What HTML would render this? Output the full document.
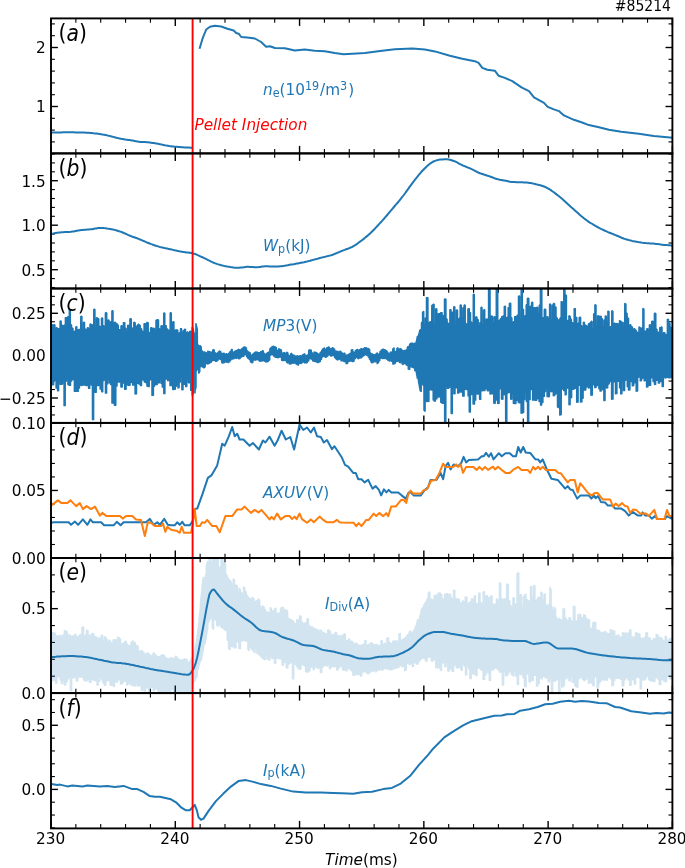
<!DOCTYPE html>
<html lang="en"><head><meta charset="utf-8"><title>#85214</title>
<style>html,body{margin:0;padding:0;background:#fff}body{width:685px;height:868px;overflow:hidden}svg{display:block;filter:blur(0.35px)}text{font-family:"DejaVu Sans","Liberation Sans",sans-serif;fill:#000}.i{font-style:oblique}.b{fill:#1f77b4}.r{fill:#ff0000}</style></head><body>
<svg width="685" height="868" viewBox="0 0 685 868">
<rect width="685" height="868" fill="#fff"/>
<defs>
<clipPath id="c0"><rect x="51.00" y="18.40" width="621.40" height="135.00"/></clipPath>
<clipPath id="c1"><rect x="51.00" y="153.40" width="621.40" height="135.10"/></clipPath>
<clipPath id="c2"><rect x="51.00" y="288.50" width="621.40" height="134.40"/></clipPath>
<clipPath id="c3"><rect x="51.00" y="422.90" width="621.40" height="135.10"/></clipPath>
<clipPath id="c4"><rect x="51.00" y="558.00" width="621.40" height="135.10"/></clipPath>
<clipPath id="c5"><rect x="51.00" y="693.10" width="621.40" height="135.30"/></clipPath>
</defs>
<g stroke="#000" fill="none"><line x1="51.00" y1="18.40" x2="51.00" y2="25.90" stroke-width="1.40"/><line x1="51.00" y1="153.40" x2="51.00" y2="145.90" stroke-width="1.40"/><line x1="75.86" y1="18.40" x2="75.86" y2="22.70" stroke-width="1.10"/><line x1="75.86" y1="153.40" x2="75.86" y2="149.10" stroke-width="1.10"/><line x1="100.71" y1="18.40" x2="100.71" y2="22.70" stroke-width="1.10"/><line x1="100.71" y1="153.40" x2="100.71" y2="149.10" stroke-width="1.10"/><line x1="125.57" y1="18.40" x2="125.57" y2="22.70" stroke-width="1.10"/><line x1="125.57" y1="153.40" x2="125.57" y2="149.10" stroke-width="1.10"/><line x1="150.42" y1="18.40" x2="150.42" y2="22.70" stroke-width="1.10"/><line x1="150.42" y1="153.40" x2="150.42" y2="149.10" stroke-width="1.10"/><line x1="175.28" y1="18.40" x2="175.28" y2="25.90" stroke-width="1.40"/><line x1="175.28" y1="153.40" x2="175.28" y2="145.90" stroke-width="1.40"/><line x1="200.14" y1="18.40" x2="200.14" y2="22.70" stroke-width="1.10"/><line x1="200.14" y1="153.40" x2="200.14" y2="149.10" stroke-width="1.10"/><line x1="224.99" y1="18.40" x2="224.99" y2="22.70" stroke-width="1.10"/><line x1="224.99" y1="153.40" x2="224.99" y2="149.10" stroke-width="1.10"/><line x1="249.85" y1="18.40" x2="249.85" y2="22.70" stroke-width="1.10"/><line x1="249.85" y1="153.40" x2="249.85" y2="149.10" stroke-width="1.10"/><line x1="274.70" y1="18.40" x2="274.70" y2="22.70" stroke-width="1.10"/><line x1="274.70" y1="153.40" x2="274.70" y2="149.10" stroke-width="1.10"/><line x1="299.56" y1="18.40" x2="299.56" y2="25.90" stroke-width="1.40"/><line x1="299.56" y1="153.40" x2="299.56" y2="145.90" stroke-width="1.40"/><line x1="324.42" y1="18.40" x2="324.42" y2="22.70" stroke-width="1.10"/><line x1="324.42" y1="153.40" x2="324.42" y2="149.10" stroke-width="1.10"/><line x1="349.27" y1="18.40" x2="349.27" y2="22.70" stroke-width="1.10"/><line x1="349.27" y1="153.40" x2="349.27" y2="149.10" stroke-width="1.10"/><line x1="374.13" y1="18.40" x2="374.13" y2="22.70" stroke-width="1.10"/><line x1="374.13" y1="153.40" x2="374.13" y2="149.10" stroke-width="1.10"/><line x1="398.98" y1="18.40" x2="398.98" y2="22.70" stroke-width="1.10"/><line x1="398.98" y1="153.40" x2="398.98" y2="149.10" stroke-width="1.10"/><line x1="423.84" y1="18.40" x2="423.84" y2="25.90" stroke-width="1.40"/><line x1="423.84" y1="153.40" x2="423.84" y2="145.90" stroke-width="1.40"/><line x1="448.70" y1="18.40" x2="448.70" y2="22.70" stroke-width="1.10"/><line x1="448.70" y1="153.40" x2="448.70" y2="149.10" stroke-width="1.10"/><line x1="473.55" y1="18.40" x2="473.55" y2="22.70" stroke-width="1.10"/><line x1="473.55" y1="153.40" x2="473.55" y2="149.10" stroke-width="1.10"/><line x1="498.41" y1="18.40" x2="498.41" y2="22.70" stroke-width="1.10"/><line x1="498.41" y1="153.40" x2="498.41" y2="149.10" stroke-width="1.10"/><line x1="523.26" y1="18.40" x2="523.26" y2="22.70" stroke-width="1.10"/><line x1="523.26" y1="153.40" x2="523.26" y2="149.10" stroke-width="1.10"/><line x1="548.12" y1="18.40" x2="548.12" y2="25.90" stroke-width="1.40"/><line x1="548.12" y1="153.40" x2="548.12" y2="145.90" stroke-width="1.40"/><line x1="572.98" y1="18.40" x2="572.98" y2="22.70" stroke-width="1.10"/><line x1="572.98" y1="153.40" x2="572.98" y2="149.10" stroke-width="1.10"/><line x1="597.83" y1="18.40" x2="597.83" y2="22.70" stroke-width="1.10"/><line x1="597.83" y1="153.40" x2="597.83" y2="149.10" stroke-width="1.10"/><line x1="622.69" y1="18.40" x2="622.69" y2="22.70" stroke-width="1.10"/><line x1="622.69" y1="153.40" x2="622.69" y2="149.10" stroke-width="1.10"/><line x1="647.54" y1="18.40" x2="647.54" y2="22.70" stroke-width="1.10"/><line x1="647.54" y1="153.40" x2="647.54" y2="149.10" stroke-width="1.10"/><line x1="672.40" y1="18.40" x2="672.40" y2="25.90" stroke-width="1.40"/><line x1="672.40" y1="153.40" x2="672.40" y2="145.90" stroke-width="1.40"/><line x1="51.00" y1="153.40" x2="51.00" y2="160.90" stroke-width="1.40"/><line x1="51.00" y1="288.50" x2="51.00" y2="281.00" stroke-width="1.40"/><line x1="75.86" y1="153.40" x2="75.86" y2="157.70" stroke-width="1.10"/><line x1="75.86" y1="288.50" x2="75.86" y2="284.20" stroke-width="1.10"/><line x1="100.71" y1="153.40" x2="100.71" y2="157.70" stroke-width="1.10"/><line x1="100.71" y1="288.50" x2="100.71" y2="284.20" stroke-width="1.10"/><line x1="125.57" y1="153.40" x2="125.57" y2="157.70" stroke-width="1.10"/><line x1="125.57" y1="288.50" x2="125.57" y2="284.20" stroke-width="1.10"/><line x1="150.42" y1="153.40" x2="150.42" y2="157.70" stroke-width="1.10"/><line x1="150.42" y1="288.50" x2="150.42" y2="284.20" stroke-width="1.10"/><line x1="175.28" y1="153.40" x2="175.28" y2="160.90" stroke-width="1.40"/><line x1="175.28" y1="288.50" x2="175.28" y2="281.00" stroke-width="1.40"/><line x1="200.14" y1="153.40" x2="200.14" y2="157.70" stroke-width="1.10"/><line x1="200.14" y1="288.50" x2="200.14" y2="284.20" stroke-width="1.10"/><line x1="224.99" y1="153.40" x2="224.99" y2="157.70" stroke-width="1.10"/><line x1="224.99" y1="288.50" x2="224.99" y2="284.20" stroke-width="1.10"/><line x1="249.85" y1="153.40" x2="249.85" y2="157.70" stroke-width="1.10"/><line x1="249.85" y1="288.50" x2="249.85" y2="284.20" stroke-width="1.10"/><line x1="274.70" y1="153.40" x2="274.70" y2="157.70" stroke-width="1.10"/><line x1="274.70" y1="288.50" x2="274.70" y2="284.20" stroke-width="1.10"/><line x1="299.56" y1="153.40" x2="299.56" y2="160.90" stroke-width="1.40"/><line x1="299.56" y1="288.50" x2="299.56" y2="281.00" stroke-width="1.40"/><line x1="324.42" y1="153.40" x2="324.42" y2="157.70" stroke-width="1.10"/><line x1="324.42" y1="288.50" x2="324.42" y2="284.20" stroke-width="1.10"/><line x1="349.27" y1="153.40" x2="349.27" y2="157.70" stroke-width="1.10"/><line x1="349.27" y1="288.50" x2="349.27" y2="284.20" stroke-width="1.10"/><line x1="374.13" y1="153.40" x2="374.13" y2="157.70" stroke-width="1.10"/><line x1="374.13" y1="288.50" x2="374.13" y2="284.20" stroke-width="1.10"/><line x1="398.98" y1="153.40" x2="398.98" y2="157.70" stroke-width="1.10"/><line x1="398.98" y1="288.50" x2="398.98" y2="284.20" stroke-width="1.10"/><line x1="423.84" y1="153.40" x2="423.84" y2="160.90" stroke-width="1.40"/><line x1="423.84" y1="288.50" x2="423.84" y2="281.00" stroke-width="1.40"/><line x1="448.70" y1="153.40" x2="448.70" y2="157.70" stroke-width="1.10"/><line x1="448.70" y1="288.50" x2="448.70" y2="284.20" stroke-width="1.10"/><line x1="473.55" y1="153.40" x2="473.55" y2="157.70" stroke-width="1.10"/><line x1="473.55" y1="288.50" x2="473.55" y2="284.20" stroke-width="1.10"/><line x1="498.41" y1="153.40" x2="498.41" y2="157.70" stroke-width="1.10"/><line x1="498.41" y1="288.50" x2="498.41" y2="284.20" stroke-width="1.10"/><line x1="523.26" y1="153.40" x2="523.26" y2="157.70" stroke-width="1.10"/><line x1="523.26" y1="288.50" x2="523.26" y2="284.20" stroke-width="1.10"/><line x1="548.12" y1="153.40" x2="548.12" y2="160.90" stroke-width="1.40"/><line x1="548.12" y1="288.50" x2="548.12" y2="281.00" stroke-width="1.40"/><line x1="572.98" y1="153.40" x2="572.98" y2="157.70" stroke-width="1.10"/><line x1="572.98" y1="288.50" x2="572.98" y2="284.20" stroke-width="1.10"/><line x1="597.83" y1="153.40" x2="597.83" y2="157.70" stroke-width="1.10"/><line x1="597.83" y1="288.50" x2="597.83" y2="284.20" stroke-width="1.10"/><line x1="622.69" y1="153.40" x2="622.69" y2="157.70" stroke-width="1.10"/><line x1="622.69" y1="288.50" x2="622.69" y2="284.20" stroke-width="1.10"/><line x1="647.54" y1="153.40" x2="647.54" y2="157.70" stroke-width="1.10"/><line x1="647.54" y1="288.50" x2="647.54" y2="284.20" stroke-width="1.10"/><line x1="672.40" y1="153.40" x2="672.40" y2="160.90" stroke-width="1.40"/><line x1="672.40" y1="288.50" x2="672.40" y2="281.00" stroke-width="1.40"/><line x1="51.00" y1="288.50" x2="51.00" y2="296.00" stroke-width="1.40"/><line x1="51.00" y1="422.90" x2="51.00" y2="415.40" stroke-width="1.40"/><line x1="75.86" y1="288.50" x2="75.86" y2="292.80" stroke-width="1.10"/><line x1="75.86" y1="422.90" x2="75.86" y2="418.60" stroke-width="1.10"/><line x1="100.71" y1="288.50" x2="100.71" y2="292.80" stroke-width="1.10"/><line x1="100.71" y1="422.90" x2="100.71" y2="418.60" stroke-width="1.10"/><line x1="125.57" y1="288.50" x2="125.57" y2="292.80" stroke-width="1.10"/><line x1="125.57" y1="422.90" x2="125.57" y2="418.60" stroke-width="1.10"/><line x1="150.42" y1="288.50" x2="150.42" y2="292.80" stroke-width="1.10"/><line x1="150.42" y1="422.90" x2="150.42" y2="418.60" stroke-width="1.10"/><line x1="175.28" y1="288.50" x2="175.28" y2="296.00" stroke-width="1.40"/><line x1="175.28" y1="422.90" x2="175.28" y2="415.40" stroke-width="1.40"/><line x1="200.14" y1="288.50" x2="200.14" y2="292.80" stroke-width="1.10"/><line x1="200.14" y1="422.90" x2="200.14" y2="418.60" stroke-width="1.10"/><line x1="224.99" y1="288.50" x2="224.99" y2="292.80" stroke-width="1.10"/><line x1="224.99" y1="422.90" x2="224.99" y2="418.60" stroke-width="1.10"/><line x1="249.85" y1="288.50" x2="249.85" y2="292.80" stroke-width="1.10"/><line x1="249.85" y1="422.90" x2="249.85" y2="418.60" stroke-width="1.10"/><line x1="274.70" y1="288.50" x2="274.70" y2="292.80" stroke-width="1.10"/><line x1="274.70" y1="422.90" x2="274.70" y2="418.60" stroke-width="1.10"/><line x1="299.56" y1="288.50" x2="299.56" y2="296.00" stroke-width="1.40"/><line x1="299.56" y1="422.90" x2="299.56" y2="415.40" stroke-width="1.40"/><line x1="324.42" y1="288.50" x2="324.42" y2="292.80" stroke-width="1.10"/><line x1="324.42" y1="422.90" x2="324.42" y2="418.60" stroke-width="1.10"/><line x1="349.27" y1="288.50" x2="349.27" y2="292.80" stroke-width="1.10"/><line x1="349.27" y1="422.90" x2="349.27" y2="418.60" stroke-width="1.10"/><line x1="374.13" y1="288.50" x2="374.13" y2="292.80" stroke-width="1.10"/><line x1="374.13" y1="422.90" x2="374.13" y2="418.60" stroke-width="1.10"/><line x1="398.98" y1="288.50" x2="398.98" y2="292.80" stroke-width="1.10"/><line x1="398.98" y1="422.90" x2="398.98" y2="418.60" stroke-width="1.10"/><line x1="423.84" y1="288.50" x2="423.84" y2="296.00" stroke-width="1.40"/><line x1="423.84" y1="422.90" x2="423.84" y2="415.40" stroke-width="1.40"/><line x1="448.70" y1="288.50" x2="448.70" y2="292.80" stroke-width="1.10"/><line x1="448.70" y1="422.90" x2="448.70" y2="418.60" stroke-width="1.10"/><line x1="473.55" y1="288.50" x2="473.55" y2="292.80" stroke-width="1.10"/><line x1="473.55" y1="422.90" x2="473.55" y2="418.60" stroke-width="1.10"/><line x1="498.41" y1="288.50" x2="498.41" y2="292.80" stroke-width="1.10"/><line x1="498.41" y1="422.90" x2="498.41" y2="418.60" stroke-width="1.10"/><line x1="523.26" y1="288.50" x2="523.26" y2="292.80" stroke-width="1.10"/><line x1="523.26" y1="422.90" x2="523.26" y2="418.60" stroke-width="1.10"/><line x1="548.12" y1="288.50" x2="548.12" y2="296.00" stroke-width="1.40"/><line x1="548.12" y1="422.90" x2="548.12" y2="415.40" stroke-width="1.40"/><line x1="572.98" y1="288.50" x2="572.98" y2="292.80" stroke-width="1.10"/><line x1="572.98" y1="422.90" x2="572.98" y2="418.60" stroke-width="1.10"/><line x1="597.83" y1="288.50" x2="597.83" y2="292.80" stroke-width="1.10"/><line x1="597.83" y1="422.90" x2="597.83" y2="418.60" stroke-width="1.10"/><line x1="622.69" y1="288.50" x2="622.69" y2="292.80" stroke-width="1.10"/><line x1="622.69" y1="422.90" x2="622.69" y2="418.60" stroke-width="1.10"/><line x1="647.54" y1="288.50" x2="647.54" y2="292.80" stroke-width="1.10"/><line x1="647.54" y1="422.90" x2="647.54" y2="418.60" stroke-width="1.10"/><line x1="672.40" y1="288.50" x2="672.40" y2="296.00" stroke-width="1.40"/><line x1="672.40" y1="422.90" x2="672.40" y2="415.40" stroke-width="1.40"/><line x1="51.00" y1="422.90" x2="51.00" y2="430.40" stroke-width="1.40"/><line x1="51.00" y1="558.00" x2="51.00" y2="550.50" stroke-width="1.40"/><line x1="75.86" y1="422.90" x2="75.86" y2="427.20" stroke-width="1.10"/><line x1="75.86" y1="558.00" x2="75.86" y2="553.70" stroke-width="1.10"/><line x1="100.71" y1="422.90" x2="100.71" y2="427.20" stroke-width="1.10"/><line x1="100.71" y1="558.00" x2="100.71" y2="553.70" stroke-width="1.10"/><line x1="125.57" y1="422.90" x2="125.57" y2="427.20" stroke-width="1.10"/><line x1="125.57" y1="558.00" x2="125.57" y2="553.70" stroke-width="1.10"/><line x1="150.42" y1="422.90" x2="150.42" y2="427.20" stroke-width="1.10"/><line x1="150.42" y1="558.00" x2="150.42" y2="553.70" stroke-width="1.10"/><line x1="175.28" y1="422.90" x2="175.28" y2="430.40" stroke-width="1.40"/><line x1="175.28" y1="558.00" x2="175.28" y2="550.50" stroke-width="1.40"/><line x1="200.14" y1="422.90" x2="200.14" y2="427.20" stroke-width="1.10"/><line x1="200.14" y1="558.00" x2="200.14" y2="553.70" stroke-width="1.10"/><line x1="224.99" y1="422.90" x2="224.99" y2="427.20" stroke-width="1.10"/><line x1="224.99" y1="558.00" x2="224.99" y2="553.70" stroke-width="1.10"/><line x1="249.85" y1="422.90" x2="249.85" y2="427.20" stroke-width="1.10"/><line x1="249.85" y1="558.00" x2="249.85" y2="553.70" stroke-width="1.10"/><line x1="274.70" y1="422.90" x2="274.70" y2="427.20" stroke-width="1.10"/><line x1="274.70" y1="558.00" x2="274.70" y2="553.70" stroke-width="1.10"/><line x1="299.56" y1="422.90" x2="299.56" y2="430.40" stroke-width="1.40"/><line x1="299.56" y1="558.00" x2="299.56" y2="550.50" stroke-width="1.40"/><line x1="324.42" y1="422.90" x2="324.42" y2="427.20" stroke-width="1.10"/><line x1="324.42" y1="558.00" x2="324.42" y2="553.70" stroke-width="1.10"/><line x1="349.27" y1="422.90" x2="349.27" y2="427.20" stroke-width="1.10"/><line x1="349.27" y1="558.00" x2="349.27" y2="553.70" stroke-width="1.10"/><line x1="374.13" y1="422.90" x2="374.13" y2="427.20" stroke-width="1.10"/><line x1="374.13" y1="558.00" x2="374.13" y2="553.70" stroke-width="1.10"/><line x1="398.98" y1="422.90" x2="398.98" y2="427.20" stroke-width="1.10"/><line x1="398.98" y1="558.00" x2="398.98" y2="553.70" stroke-width="1.10"/><line x1="423.84" y1="422.90" x2="423.84" y2="430.40" stroke-width="1.40"/><line x1="423.84" y1="558.00" x2="423.84" y2="550.50" stroke-width="1.40"/><line x1="448.70" y1="422.90" x2="448.70" y2="427.20" stroke-width="1.10"/><line x1="448.70" y1="558.00" x2="448.70" y2="553.70" stroke-width="1.10"/><line x1="473.55" y1="422.90" x2="473.55" y2="427.20" stroke-width="1.10"/><line x1="473.55" y1="558.00" x2="473.55" y2="553.70" stroke-width="1.10"/><line x1="498.41" y1="422.90" x2="498.41" y2="427.20" stroke-width="1.10"/><line x1="498.41" y1="558.00" x2="498.41" y2="553.70" stroke-width="1.10"/><line x1="523.26" y1="422.90" x2="523.26" y2="427.20" stroke-width="1.10"/><line x1="523.26" y1="558.00" x2="523.26" y2="553.70" stroke-width="1.10"/><line x1="548.12" y1="422.90" x2="548.12" y2="430.40" stroke-width="1.40"/><line x1="548.12" y1="558.00" x2="548.12" y2="550.50" stroke-width="1.40"/><line x1="572.98" y1="422.90" x2="572.98" y2="427.20" stroke-width="1.10"/><line x1="572.98" y1="558.00" x2="572.98" y2="553.70" stroke-width="1.10"/><line x1="597.83" y1="422.90" x2="597.83" y2="427.20" stroke-width="1.10"/><line x1="597.83" y1="558.00" x2="597.83" y2="553.70" stroke-width="1.10"/><line x1="622.69" y1="422.90" x2="622.69" y2="427.20" stroke-width="1.10"/><line x1="622.69" y1="558.00" x2="622.69" y2="553.70" stroke-width="1.10"/><line x1="647.54" y1="422.90" x2="647.54" y2="427.20" stroke-width="1.10"/><line x1="647.54" y1="558.00" x2="647.54" y2="553.70" stroke-width="1.10"/><line x1="672.40" y1="422.90" x2="672.40" y2="430.40" stroke-width="1.40"/><line x1="672.40" y1="558.00" x2="672.40" y2="550.50" stroke-width="1.40"/><line x1="51.00" y1="558.00" x2="51.00" y2="565.50" stroke-width="1.40"/><line x1="51.00" y1="693.10" x2="51.00" y2="685.60" stroke-width="1.40"/><line x1="75.86" y1="558.00" x2="75.86" y2="562.30" stroke-width="1.10"/><line x1="75.86" y1="693.10" x2="75.86" y2="688.80" stroke-width="1.10"/><line x1="100.71" y1="558.00" x2="100.71" y2="562.30" stroke-width="1.10"/><line x1="100.71" y1="693.10" x2="100.71" y2="688.80" stroke-width="1.10"/><line x1="125.57" y1="558.00" x2="125.57" y2="562.30" stroke-width="1.10"/><line x1="125.57" y1="693.10" x2="125.57" y2="688.80" stroke-width="1.10"/><line x1="150.42" y1="558.00" x2="150.42" y2="562.30" stroke-width="1.10"/><line x1="150.42" y1="693.10" x2="150.42" y2="688.80" stroke-width="1.10"/><line x1="175.28" y1="558.00" x2="175.28" y2="565.50" stroke-width="1.40"/><line x1="175.28" y1="693.10" x2="175.28" y2="685.60" stroke-width="1.40"/><line x1="200.14" y1="558.00" x2="200.14" y2="562.30" stroke-width="1.10"/><line x1="200.14" y1="693.10" x2="200.14" y2="688.80" stroke-width="1.10"/><line x1="224.99" y1="558.00" x2="224.99" y2="562.30" stroke-width="1.10"/><line x1="224.99" y1="693.10" x2="224.99" y2="688.80" stroke-width="1.10"/><line x1="249.85" y1="558.00" x2="249.85" y2="562.30" stroke-width="1.10"/><line x1="249.85" y1="693.10" x2="249.85" y2="688.80" stroke-width="1.10"/><line x1="274.70" y1="558.00" x2="274.70" y2="562.30" stroke-width="1.10"/><line x1="274.70" y1="693.10" x2="274.70" y2="688.80" stroke-width="1.10"/><line x1="299.56" y1="558.00" x2="299.56" y2="565.50" stroke-width="1.40"/><line x1="299.56" y1="693.10" x2="299.56" y2="685.60" stroke-width="1.40"/><line x1="324.42" y1="558.00" x2="324.42" y2="562.30" stroke-width="1.10"/><line x1="324.42" y1="693.10" x2="324.42" y2="688.80" stroke-width="1.10"/><line x1="349.27" y1="558.00" x2="349.27" y2="562.30" stroke-width="1.10"/><line x1="349.27" y1="693.10" x2="349.27" y2="688.80" stroke-width="1.10"/><line x1="374.13" y1="558.00" x2="374.13" y2="562.30" stroke-width="1.10"/><line x1="374.13" y1="693.10" x2="374.13" y2="688.80" stroke-width="1.10"/><line x1="398.98" y1="558.00" x2="398.98" y2="562.30" stroke-width="1.10"/><line x1="398.98" y1="693.10" x2="398.98" y2="688.80" stroke-width="1.10"/><line x1="423.84" y1="558.00" x2="423.84" y2="565.50" stroke-width="1.40"/><line x1="423.84" y1="693.10" x2="423.84" y2="685.60" stroke-width="1.40"/><line x1="448.70" y1="558.00" x2="448.70" y2="562.30" stroke-width="1.10"/><line x1="448.70" y1="693.10" x2="448.70" y2="688.80" stroke-width="1.10"/><line x1="473.55" y1="558.00" x2="473.55" y2="562.30" stroke-width="1.10"/><line x1="473.55" y1="693.10" x2="473.55" y2="688.80" stroke-width="1.10"/><line x1="498.41" y1="558.00" x2="498.41" y2="562.30" stroke-width="1.10"/><line x1="498.41" y1="693.10" x2="498.41" y2="688.80" stroke-width="1.10"/><line x1="523.26" y1="558.00" x2="523.26" y2="562.30" stroke-width="1.10"/><line x1="523.26" y1="693.10" x2="523.26" y2="688.80" stroke-width="1.10"/><line x1="548.12" y1="558.00" x2="548.12" y2="565.50" stroke-width="1.40"/><line x1="548.12" y1="693.10" x2="548.12" y2="685.60" stroke-width="1.40"/><line x1="572.98" y1="558.00" x2="572.98" y2="562.30" stroke-width="1.10"/><line x1="572.98" y1="693.10" x2="572.98" y2="688.80" stroke-width="1.10"/><line x1="597.83" y1="558.00" x2="597.83" y2="562.30" stroke-width="1.10"/><line x1="597.83" y1="693.10" x2="597.83" y2="688.80" stroke-width="1.10"/><line x1="622.69" y1="558.00" x2="622.69" y2="562.30" stroke-width="1.10"/><line x1="622.69" y1="693.10" x2="622.69" y2="688.80" stroke-width="1.10"/><line x1="647.54" y1="558.00" x2="647.54" y2="562.30" stroke-width="1.10"/><line x1="647.54" y1="693.10" x2="647.54" y2="688.80" stroke-width="1.10"/><line x1="672.40" y1="558.00" x2="672.40" y2="565.50" stroke-width="1.40"/><line x1="672.40" y1="693.10" x2="672.40" y2="685.60" stroke-width="1.40"/><line x1="51.00" y1="693.10" x2="51.00" y2="700.60" stroke-width="1.40"/><line x1="51.00" y1="828.40" x2="51.00" y2="820.90" stroke-width="1.40"/><line x1="75.86" y1="693.10" x2="75.86" y2="697.40" stroke-width="1.10"/><line x1="75.86" y1="828.40" x2="75.86" y2="824.10" stroke-width="1.10"/><line x1="100.71" y1="693.10" x2="100.71" y2="697.40" stroke-width="1.10"/><line x1="100.71" y1="828.40" x2="100.71" y2="824.10" stroke-width="1.10"/><line x1="125.57" y1="693.10" x2="125.57" y2="697.40" stroke-width="1.10"/><line x1="125.57" y1="828.40" x2="125.57" y2="824.10" stroke-width="1.10"/><line x1="150.42" y1="693.10" x2="150.42" y2="697.40" stroke-width="1.10"/><line x1="150.42" y1="828.40" x2="150.42" y2="824.10" stroke-width="1.10"/><line x1="175.28" y1="693.10" x2="175.28" y2="700.60" stroke-width="1.40"/><line x1="175.28" y1="828.40" x2="175.28" y2="820.90" stroke-width="1.40"/><line x1="200.14" y1="693.10" x2="200.14" y2="697.40" stroke-width="1.10"/><line x1="200.14" y1="828.40" x2="200.14" y2="824.10" stroke-width="1.10"/><line x1="224.99" y1="693.10" x2="224.99" y2="697.40" stroke-width="1.10"/><line x1="224.99" y1="828.40" x2="224.99" y2="824.10" stroke-width="1.10"/><line x1="249.85" y1="693.10" x2="249.85" y2="697.40" stroke-width="1.10"/><line x1="249.85" y1="828.40" x2="249.85" y2="824.10" stroke-width="1.10"/><line x1="274.70" y1="693.10" x2="274.70" y2="697.40" stroke-width="1.10"/><line x1="274.70" y1="828.40" x2="274.70" y2="824.10" stroke-width="1.10"/><line x1="299.56" y1="693.10" x2="299.56" y2="700.60" stroke-width="1.40"/><line x1="299.56" y1="828.40" x2="299.56" y2="820.90" stroke-width="1.40"/><line x1="324.42" y1="693.10" x2="324.42" y2="697.40" stroke-width="1.10"/><line x1="324.42" y1="828.40" x2="324.42" y2="824.10" stroke-width="1.10"/><line x1="349.27" y1="693.10" x2="349.27" y2="697.40" stroke-width="1.10"/><line x1="349.27" y1="828.40" x2="349.27" y2="824.10" stroke-width="1.10"/><line x1="374.13" y1="693.10" x2="374.13" y2="697.40" stroke-width="1.10"/><line x1="374.13" y1="828.40" x2="374.13" y2="824.10" stroke-width="1.10"/><line x1="398.98" y1="693.10" x2="398.98" y2="697.40" stroke-width="1.10"/><line x1="398.98" y1="828.40" x2="398.98" y2="824.10" stroke-width="1.10"/><line x1="423.84" y1="693.10" x2="423.84" y2="700.60" stroke-width="1.40"/><line x1="423.84" y1="828.40" x2="423.84" y2="820.90" stroke-width="1.40"/><line x1="448.70" y1="693.10" x2="448.70" y2="697.40" stroke-width="1.10"/><line x1="448.70" y1="828.40" x2="448.70" y2="824.10" stroke-width="1.10"/><line x1="473.55" y1="693.10" x2="473.55" y2="697.40" stroke-width="1.10"/><line x1="473.55" y1="828.40" x2="473.55" y2="824.10" stroke-width="1.10"/><line x1="498.41" y1="693.10" x2="498.41" y2="697.40" stroke-width="1.10"/><line x1="498.41" y1="828.40" x2="498.41" y2="824.10" stroke-width="1.10"/><line x1="523.26" y1="693.10" x2="523.26" y2="697.40" stroke-width="1.10"/><line x1="523.26" y1="828.40" x2="523.26" y2="824.10" stroke-width="1.10"/><line x1="548.12" y1="693.10" x2="548.12" y2="700.60" stroke-width="1.40"/><line x1="548.12" y1="828.40" x2="548.12" y2="820.90" stroke-width="1.40"/><line x1="572.98" y1="693.10" x2="572.98" y2="697.40" stroke-width="1.10"/><line x1="572.98" y1="828.40" x2="572.98" y2="824.10" stroke-width="1.10"/><line x1="597.83" y1="693.10" x2="597.83" y2="697.40" stroke-width="1.10"/><line x1="597.83" y1="828.40" x2="597.83" y2="824.10" stroke-width="1.10"/><line x1="622.69" y1="693.10" x2="622.69" y2="697.40" stroke-width="1.10"/><line x1="622.69" y1="828.40" x2="622.69" y2="824.10" stroke-width="1.10"/><line x1="647.54" y1="693.10" x2="647.54" y2="697.40" stroke-width="1.10"/><line x1="647.54" y1="828.40" x2="647.54" y2="824.10" stroke-width="1.10"/><line x1="672.40" y1="693.10" x2="672.40" y2="700.60" stroke-width="1.40"/><line x1="672.40" y1="828.40" x2="672.40" y2="820.90" stroke-width="1.40"/><line x1="51.00" y1="141.90" x2="54.90" y2="141.90" stroke-width="1.10"/><line x1="672.40" y1="141.90" x2="668.50" y2="141.90" stroke-width="1.10"/><line x1="51.00" y1="130.10" x2="54.90" y2="130.10" stroke-width="1.10"/><line x1="672.40" y1="130.10" x2="668.50" y2="130.10" stroke-width="1.10"/><line x1="51.00" y1="118.30" x2="54.90" y2="118.30" stroke-width="1.10"/><line x1="672.40" y1="118.30" x2="668.50" y2="118.30" stroke-width="1.10"/><line x1="51.00" y1="106.50" x2="57.90" y2="106.50" stroke-width="1.40"/><line x1="672.40" y1="106.50" x2="665.50" y2="106.50" stroke-width="1.40"/><line x1="51.00" y1="94.70" x2="54.90" y2="94.70" stroke-width="1.10"/><line x1="672.40" y1="94.70" x2="668.50" y2="94.70" stroke-width="1.10"/><line x1="51.00" y1="82.90" x2="54.90" y2="82.90" stroke-width="1.10"/><line x1="672.40" y1="82.90" x2="668.50" y2="82.90" stroke-width="1.10"/><line x1="51.00" y1="71.10" x2="54.90" y2="71.10" stroke-width="1.10"/><line x1="672.40" y1="71.10" x2="668.50" y2="71.10" stroke-width="1.10"/><line x1="51.00" y1="59.30" x2="54.90" y2="59.30" stroke-width="1.10"/><line x1="672.40" y1="59.30" x2="668.50" y2="59.30" stroke-width="1.10"/><line x1="51.00" y1="47.50" x2="57.90" y2="47.50" stroke-width="1.40"/><line x1="672.40" y1="47.50" x2="665.50" y2="47.50" stroke-width="1.40"/><line x1="51.00" y1="35.70" x2="54.90" y2="35.70" stroke-width="1.10"/><line x1="672.40" y1="35.70" x2="668.50" y2="35.70" stroke-width="1.10"/><line x1="51.00" y1="23.90" x2="54.90" y2="23.90" stroke-width="1.10"/><line x1="672.40" y1="23.90" x2="668.50" y2="23.90" stroke-width="1.10"/><line x1="51.00" y1="287.50" x2="54.90" y2="287.50" stroke-width="1.10"/><line x1="672.40" y1="287.50" x2="668.50" y2="287.50" stroke-width="1.10"/><line x1="51.00" y1="278.60" x2="54.90" y2="278.60" stroke-width="1.10"/><line x1="672.40" y1="278.60" x2="668.50" y2="278.60" stroke-width="1.10"/><line x1="51.00" y1="269.70" x2="57.90" y2="269.70" stroke-width="1.40"/><line x1="672.40" y1="269.70" x2="665.50" y2="269.70" stroke-width="1.40"/><line x1="51.00" y1="260.80" x2="54.90" y2="260.80" stroke-width="1.10"/><line x1="672.40" y1="260.80" x2="668.50" y2="260.80" stroke-width="1.10"/><line x1="51.00" y1="251.90" x2="54.90" y2="251.90" stroke-width="1.10"/><line x1="672.40" y1="251.90" x2="668.50" y2="251.90" stroke-width="1.10"/><line x1="51.00" y1="243.00" x2="54.90" y2="243.00" stroke-width="1.10"/><line x1="672.40" y1="243.00" x2="668.50" y2="243.00" stroke-width="1.10"/><line x1="51.00" y1="234.10" x2="54.90" y2="234.10" stroke-width="1.10"/><line x1="672.40" y1="234.10" x2="668.50" y2="234.10" stroke-width="1.10"/><line x1="51.00" y1="225.20" x2="57.90" y2="225.20" stroke-width="1.40"/><line x1="672.40" y1="225.20" x2="665.50" y2="225.20" stroke-width="1.40"/><line x1="51.00" y1="216.30" x2="54.90" y2="216.30" stroke-width="1.10"/><line x1="672.40" y1="216.30" x2="668.50" y2="216.30" stroke-width="1.10"/><line x1="51.00" y1="207.40" x2="54.90" y2="207.40" stroke-width="1.10"/><line x1="672.40" y1="207.40" x2="668.50" y2="207.40" stroke-width="1.10"/><line x1="51.00" y1="198.50" x2="54.90" y2="198.50" stroke-width="1.10"/><line x1="672.40" y1="198.50" x2="668.50" y2="198.50" stroke-width="1.10"/><line x1="51.00" y1="189.60" x2="54.90" y2="189.60" stroke-width="1.10"/><line x1="672.40" y1="189.60" x2="668.50" y2="189.60" stroke-width="1.10"/><line x1="51.00" y1="180.70" x2="57.90" y2="180.70" stroke-width="1.40"/><line x1="672.40" y1="180.70" x2="665.50" y2="180.70" stroke-width="1.40"/><line x1="51.00" y1="171.80" x2="54.90" y2="171.80" stroke-width="1.10"/><line x1="672.40" y1="171.80" x2="668.50" y2="171.80" stroke-width="1.10"/><line x1="51.00" y1="162.90" x2="54.90" y2="162.90" stroke-width="1.10"/><line x1="672.40" y1="162.90" x2="668.50" y2="162.90" stroke-width="1.10"/><line x1="51.00" y1="154.00" x2="54.90" y2="154.00" stroke-width="1.10"/><line x1="672.40" y1="154.00" x2="668.50" y2="154.00" stroke-width="1.10"/><line x1="51.00" y1="414.94" x2="54.90" y2="414.94" stroke-width="1.10"/><line x1="672.40" y1="414.94" x2="668.50" y2="414.94" stroke-width="1.10"/><line x1="51.00" y1="406.47" x2="54.90" y2="406.47" stroke-width="1.10"/><line x1="672.40" y1="406.47" x2="668.50" y2="406.47" stroke-width="1.10"/><line x1="51.00" y1="398.00" x2="57.90" y2="398.00" stroke-width="1.40"/><line x1="672.40" y1="398.00" x2="665.50" y2="398.00" stroke-width="1.40"/><line x1="51.00" y1="389.53" x2="54.90" y2="389.53" stroke-width="1.10"/><line x1="672.40" y1="389.53" x2="668.50" y2="389.53" stroke-width="1.10"/><line x1="51.00" y1="381.06" x2="54.90" y2="381.06" stroke-width="1.10"/><line x1="672.40" y1="381.06" x2="668.50" y2="381.06" stroke-width="1.10"/><line x1="51.00" y1="372.59" x2="54.90" y2="372.59" stroke-width="1.10"/><line x1="672.40" y1="372.59" x2="668.50" y2="372.59" stroke-width="1.10"/><line x1="51.00" y1="364.12" x2="54.90" y2="364.12" stroke-width="1.10"/><line x1="672.40" y1="364.12" x2="668.50" y2="364.12" stroke-width="1.10"/><line x1="51.00" y1="355.65" x2="57.90" y2="355.65" stroke-width="1.40"/><line x1="672.40" y1="355.65" x2="665.50" y2="355.65" stroke-width="1.40"/><line x1="51.00" y1="347.18" x2="54.90" y2="347.18" stroke-width="1.10"/><line x1="672.40" y1="347.18" x2="668.50" y2="347.18" stroke-width="1.10"/><line x1="51.00" y1="338.71" x2="54.90" y2="338.71" stroke-width="1.10"/><line x1="672.40" y1="338.71" x2="668.50" y2="338.71" stroke-width="1.10"/><line x1="51.00" y1="330.24" x2="54.90" y2="330.24" stroke-width="1.10"/><line x1="672.40" y1="330.24" x2="668.50" y2="330.24" stroke-width="1.10"/><line x1="51.00" y1="321.77" x2="54.90" y2="321.77" stroke-width="1.10"/><line x1="672.40" y1="321.77" x2="668.50" y2="321.77" stroke-width="1.10"/><line x1="51.00" y1="313.30" x2="57.90" y2="313.30" stroke-width="1.40"/><line x1="672.40" y1="313.30" x2="665.50" y2="313.30" stroke-width="1.40"/><line x1="51.00" y1="304.83" x2="54.90" y2="304.83" stroke-width="1.10"/><line x1="672.40" y1="304.83" x2="668.50" y2="304.83" stroke-width="1.10"/><line x1="51.00" y1="296.36" x2="54.90" y2="296.36" stroke-width="1.10"/><line x1="672.40" y1="296.36" x2="668.50" y2="296.36" stroke-width="1.10"/><line x1="51.00" y1="558.00" x2="57.90" y2="558.00" stroke-width="1.40"/><line x1="672.40" y1="558.00" x2="665.50" y2="558.00" stroke-width="1.40"/><line x1="51.00" y1="544.49" x2="54.90" y2="544.49" stroke-width="1.10"/><line x1="672.40" y1="544.49" x2="668.50" y2="544.49" stroke-width="1.10"/><line x1="51.00" y1="530.98" x2="54.90" y2="530.98" stroke-width="1.10"/><line x1="672.40" y1="530.98" x2="668.50" y2="530.98" stroke-width="1.10"/><line x1="51.00" y1="517.47" x2="54.90" y2="517.47" stroke-width="1.10"/><line x1="672.40" y1="517.47" x2="668.50" y2="517.47" stroke-width="1.10"/><line x1="51.00" y1="503.96" x2="54.90" y2="503.96" stroke-width="1.10"/><line x1="672.40" y1="503.96" x2="668.50" y2="503.96" stroke-width="1.10"/><line x1="51.00" y1="490.45" x2="57.90" y2="490.45" stroke-width="1.40"/><line x1="672.40" y1="490.45" x2="665.50" y2="490.45" stroke-width="1.40"/><line x1="51.00" y1="476.94" x2="54.90" y2="476.94" stroke-width="1.10"/><line x1="672.40" y1="476.94" x2="668.50" y2="476.94" stroke-width="1.10"/><line x1="51.00" y1="463.43" x2="54.90" y2="463.43" stroke-width="1.10"/><line x1="672.40" y1="463.43" x2="668.50" y2="463.43" stroke-width="1.10"/><line x1="51.00" y1="449.92" x2="54.90" y2="449.92" stroke-width="1.10"/><line x1="672.40" y1="449.92" x2="668.50" y2="449.92" stroke-width="1.10"/><line x1="51.00" y1="436.41" x2="54.90" y2="436.41" stroke-width="1.10"/><line x1="672.40" y1="436.41" x2="668.50" y2="436.41" stroke-width="1.10"/><line x1="51.00" y1="422.90" x2="57.90" y2="422.90" stroke-width="1.40"/><line x1="672.40" y1="422.90" x2="665.50" y2="422.90" stroke-width="1.40"/><line x1="51.00" y1="693.10" x2="57.90" y2="693.10" stroke-width="1.40"/><line x1="672.40" y1="693.10" x2="665.50" y2="693.10" stroke-width="1.40"/><line x1="51.00" y1="676.21" x2="54.90" y2="676.21" stroke-width="1.10"/><line x1="672.40" y1="676.21" x2="668.50" y2="676.21" stroke-width="1.10"/><line x1="51.00" y1="659.33" x2="54.90" y2="659.33" stroke-width="1.10"/><line x1="672.40" y1="659.33" x2="668.50" y2="659.33" stroke-width="1.10"/><line x1="51.00" y1="642.44" x2="54.90" y2="642.44" stroke-width="1.10"/><line x1="672.40" y1="642.44" x2="668.50" y2="642.44" stroke-width="1.10"/><line x1="51.00" y1="625.55" x2="54.90" y2="625.55" stroke-width="1.10"/><line x1="672.40" y1="625.55" x2="668.50" y2="625.55" stroke-width="1.10"/><line x1="51.00" y1="608.66" x2="57.90" y2="608.66" stroke-width="1.40"/><line x1="672.40" y1="608.66" x2="665.50" y2="608.66" stroke-width="1.40"/><line x1="51.00" y1="591.77" x2="54.90" y2="591.77" stroke-width="1.10"/><line x1="672.40" y1="591.77" x2="668.50" y2="591.77" stroke-width="1.10"/><line x1="51.00" y1="574.89" x2="54.90" y2="574.89" stroke-width="1.10"/><line x1="672.40" y1="574.89" x2="668.50" y2="574.89" stroke-width="1.10"/><line x1="51.00" y1="558.00" x2="54.90" y2="558.00" stroke-width="1.10"/><line x1="672.40" y1="558.00" x2="668.50" y2="558.00" stroke-width="1.10"/><line x1="51.00" y1="827.86" x2="54.90" y2="827.86" stroke-width="1.10"/><line x1="672.40" y1="827.86" x2="668.50" y2="827.86" stroke-width="1.10"/><line x1="51.00" y1="815.04" x2="54.90" y2="815.04" stroke-width="1.10"/><line x1="672.40" y1="815.04" x2="668.50" y2="815.04" stroke-width="1.10"/><line x1="51.00" y1="802.22" x2="54.90" y2="802.22" stroke-width="1.10"/><line x1="672.40" y1="802.22" x2="668.50" y2="802.22" stroke-width="1.10"/><line x1="51.00" y1="789.40" x2="57.90" y2="789.40" stroke-width="1.40"/><line x1="672.40" y1="789.40" x2="665.50" y2="789.40" stroke-width="1.40"/><line x1="51.00" y1="776.58" x2="54.90" y2="776.58" stroke-width="1.10"/><line x1="672.40" y1="776.58" x2="668.50" y2="776.58" stroke-width="1.10"/><line x1="51.00" y1="763.76" x2="54.90" y2="763.76" stroke-width="1.10"/><line x1="672.40" y1="763.76" x2="668.50" y2="763.76" stroke-width="1.10"/><line x1="51.00" y1="750.94" x2="54.90" y2="750.94" stroke-width="1.10"/><line x1="672.40" y1="750.94" x2="668.50" y2="750.94" stroke-width="1.10"/><line x1="51.00" y1="738.12" x2="54.90" y2="738.12" stroke-width="1.10"/><line x1="672.40" y1="738.12" x2="668.50" y2="738.12" stroke-width="1.10"/><line x1="51.00" y1="725.30" x2="57.90" y2="725.30" stroke-width="1.40"/><line x1="672.40" y1="725.30" x2="665.50" y2="725.30" stroke-width="1.40"/><line x1="51.00" y1="712.48" x2="54.90" y2="712.48" stroke-width="1.10"/><line x1="672.40" y1="712.48" x2="668.50" y2="712.48" stroke-width="1.10"/><line x1="51.00" y1="699.66" x2="54.90" y2="699.66" stroke-width="1.10"/><line x1="672.40" y1="699.66" x2="668.50" y2="699.66" stroke-width="1.10"/></g>
<g clip-path="url(#c0)">
<polyline points="51.0,132.7 52.5,132.6 54.0,132.6 55.6,132.5 57.1,132.5 58.6,132.4 60.1,132.4 61.6,132.4 63.1,132.3 64.7,132.3 66.2,132.3 67.7,132.3 69.2,132.3 70.7,132.3 72.2,132.3 73.8,132.3 75.3,132.4 76.8,132.4 78.3,132.4 79.8,132.5 81.3,132.5 82.9,132.6 84.4,132.6 85.9,132.7 87.4,132.7 88.9,132.8 90.4,133.0 92.0,133.1 93.5,133.3 95.0,133.4 96.5,133.6 98.0,133.8 99.6,134.0 101.1,134.2 102.6,134.5 104.1,134.7 105.6,135.0 107.1,135.4 108.7,135.8 110.2,136.1 111.7,136.5 113.2,136.9 114.7,137.3 116.2,137.7 117.8,138.1 119.3,138.4 120.8,138.8 122.3,139.0 123.8,139.3 125.3,139.6 126.9,139.8 128.4,140.0 129.9,140.1 131.4,140.4 132.9,140.6 134.4,140.9 136.0,141.2 137.5,141.5 139.0,141.7 140.5,141.9 142.0,142.0 143.5,142.0 145.1,142.1 146.6,142.2 148.1,142.3 149.6,142.5 151.1,142.7 152.7,142.9 154.2,143.1 155.7,143.4 157.2,143.6 158.7,143.9 160.2,144.2 161.8,144.6 163.3,144.9 164.8,145.2 166.3,145.4 167.8,145.7 169.3,146.0 170.9,146.2 172.4,146.4 173.9,146.6 175.4,146.7 176.9,146.8 178.4,147.0 180.0,147.1 181.5,147.2 183.0,147.3 184.5,147.4 186.0,147.5 187.5,147.6 189.1,147.6 190.6,147.7 192.1,147.8" fill="none" stroke="#1f77b4" stroke-width="2.00" stroke-linejoin="round" stroke-linecap="butt"/>
<polyline points="199.5,48.7 202.5,38.7 206.2,29.5 210.0,26.7 215.0,25.7 221.2,26.5 227.4,28.7 233.7,30.5 236.2,33.0 238.7,33.7 241.2,37.0 247.4,37.5 254.9,38.5 261.1,42.0 266.1,46.7 269.9,46.2 274.9,48.0 284.9,48.2 294.8,50.4 304.8,49.4 314.8,50.7 324.8,51.2 334.8,53.0 343.5,54.2 352.3,53.7 365.0,52.9 380.0,50.9 394.9,49.2 412.4,48.4 424.9,49.4 434.9,51.4 449.9,55.7 462.3,58.7 474.8,61.2 478.6,62.9 482.3,67.9 487.3,69.7 494.8,70.7 498.5,75.7 504.8,77.9 512.3,81.1 521.5,87.4 529.0,91.1 534.0,97.4 544.0,102.9 547.7,106.9 553.9,109.4 558.9,111.1 563.9,115.4 573.9,119.8 581.4,122.3 588.9,125.1 598.9,127.3 608.9,129.8 621.3,131.8 638.8,133.8 653.8,136.1 672.7,137.8" fill="none" stroke="#1f77b4" stroke-width="2.00" stroke-linejoin="round" stroke-linecap="butt"/>
</g>
<g clip-path="url(#c1)">
<polyline points="51.3,234.1 52.8,233.7 54.3,233.3 55.8,233.0 57.3,232.7 58.8,232.5 60.3,232.4 61.8,232.3 63.3,232.2 64.8,232.1 66.3,232.1 67.9,232.0 69.4,231.9 70.9,231.8 72.4,231.6 73.9,231.4 75.4,231.1 76.9,230.8 78.4,230.5 79.9,230.2 81.4,230.0 82.9,229.9 84.4,229.7 85.9,229.7 87.4,229.6 88.9,229.5 90.4,229.3 91.9,229.2 93.4,228.9 94.9,228.6 96.4,228.4 97.9,228.1 99.4,228.0 101.0,227.9 102.5,227.9 104.0,228.1 105.5,228.2 107.0,228.5 108.5,228.7 110.0,228.9 111.5,229.2 113.0,229.5 114.5,229.9 116.0,230.3 117.5,230.7 119.0,231.2 120.5,231.6 122.0,232.2 123.5,232.8 125.0,233.5 126.5,234.2 128.0,234.9 129.5,235.5 131.0,236.1 132.5,236.7 134.1,237.2 135.6,237.8 137.1,238.3 138.6,238.9 140.1,239.5 141.6,240.1 143.1,240.8 144.6,241.4 146.1,242.1 147.6,242.7 149.1,243.3 150.6,243.9 152.1,244.4 153.6,245.0 155.1,245.5 156.6,246.0 158.1,246.4 159.6,246.9 161.1,247.2 162.6,247.6 164.1,247.9 165.6,248.3 167.2,248.6 168.7,248.9 170.2,249.2 171.7,249.5 173.2,249.9 174.7,250.2 176.2,250.6 177.7,250.9 179.2,251.3 180.7,251.5 182.2,251.8 183.7,252.0 185.2,252.2 186.7,252.4 188.2,252.6 189.7,252.8 191.2,253.0 192.7,253.3 194.2,253.7 195.7,254.2 197.2,254.9 198.8,255.6 200.3,256.3 201.8,257.0 203.3,257.7 204.8,258.4 206.3,259.1 207.8,259.9 209.3,260.6 210.8,261.4 212.3,262.1 213.8,262.8 215.3,263.4 216.8,263.9 218.3,264.4 219.8,264.8 221.3,265.3 222.8,265.6 224.3,266.0 225.8,266.3 227.3,266.6 228.8,266.8 230.3,267.1 231.9,267.3 233.4,267.6 234.9,267.7 236.4,267.8 237.9,267.8 239.4,267.7 240.9,267.5 242.4,267.4 243.9,267.2 245.4,267.0 246.9,266.8 248.4,266.8 249.9,266.9 251.4,267.0 252.9,267.1 254.4,267.2 255.9,267.3 257.4,267.2 258.9,267.1 260.4,266.9 261.9,266.6 263.4,266.5 265.0,266.3 266.5,266.3 268.0,266.3 269.5,266.4 271.0,266.5 272.5,266.5 274.0,266.6 275.5,266.6 277.0,266.6 278.5,266.5 280.0,266.3 281.5,266.2 283.0,265.9 284.5,265.7 286.0,265.4 287.5,265.2 289.0,264.9 290.5,264.6 292.0,264.4 293.5,264.2 295.0,263.9 296.5,263.6 298.1,263.4 299.6,263.1 301.1,262.8 302.6,262.5 304.1,262.2 305.6,261.8 307.1,261.5 308.6,261.1 310.1,260.8 311.6,260.3 313.1,259.9 314.6,259.5 316.1,259.1 317.6,258.7 319.1,258.2 320.6,257.8 322.1,257.5 323.6,257.1 325.1,256.8 326.6,256.4 328.1,256.0 329.7,255.6 331.2,255.2 332.7,254.7 334.2,254.1 335.7,253.5 337.2,252.9 338.7,252.3 340.2,251.6 341.7,251.0 343.2,250.4 344.7,249.9 346.2,249.3 347.7,248.8 349.2,248.2 350.7,247.5 352.2,246.8 353.7,246.0 355.2,245.1 356.7,244.1 358.2,243.0 359.7,241.9 361.2,240.8 362.8,239.6 364.3,238.4 365.8,237.1 367.3,235.9 368.8,234.6 370.3,233.2 371.8,231.7 373.3,230.2 374.8,228.7 376.3,227.1 377.8,225.5 379.3,223.9 380.8,222.3 382.3,220.6 383.8,219.0 385.3,217.2 386.8,215.5 388.3,213.7 389.8,211.9 391.3,210.1 392.8,208.3 394.3,206.5 395.9,204.7 397.4,203.0 398.9,201.2 400.4,199.3 401.9,197.4 403.4,195.5 404.9,193.5 406.4,191.4 407.9,189.3 409.4,187.2 410.9,185.1 412.4,183.1 413.9,181.1 415.4,179.2 416.9,177.3 418.4,175.4 419.9,173.6 421.4,171.8 422.9,170.2 424.4,168.7 425.9,167.2 427.5,165.8 429.0,164.5 430.5,163.3 432.0,162.3 433.5,161.5 435.0,160.9 436.5,160.4 438.0,160.0 439.5,159.6 441.0,159.5 442.5,159.4 444.0,159.3 445.5,159.2 447.0,159.2 448.5,159.4 450.0,159.7 451.5,160.2 453.0,160.7 454.5,161.2 456.0,161.9 457.5,162.7 459.0,163.6 460.6,164.4 462.1,165.1 463.6,165.8 465.1,166.4 466.6,167.0 468.1,167.6 469.6,168.2 471.1,168.9 472.6,169.6 474.1,170.4 475.6,171.2 477.1,172.0 478.6,172.7 480.1,173.3 481.6,173.8 483.1,174.3 484.6,174.8 486.1,175.2 487.6,175.7 489.1,176.1 490.6,176.7 492.1,177.3 493.7,177.9 495.2,178.5 496.7,179.0 498.2,179.3 499.7,179.7 501.2,179.9 502.7,180.2 504.2,180.5 505.7,180.8 507.2,181.1 508.7,181.4 510.2,181.7 511.7,181.9 513.2,182.0 514.7,182.1 516.2,182.2 517.7,182.2 519.2,182.2 520.7,182.3 522.2,182.3 523.7,182.4 525.2,182.4 526.8,182.5 528.3,182.7 529.8,182.9 531.3,183.1 532.8,183.5 534.3,183.8 535.8,184.2 537.3,184.6 538.8,184.9 540.3,185.3 541.8,185.8 543.3,186.3 544.8,186.8 546.3,187.5 547.8,188.3 549.3,189.2 550.8,190.1 552.3,191.2 553.8,192.3 555.3,193.4 556.8,194.6 558.4,195.8 559.9,197.0 561.4,198.2 562.9,199.5 564.4,200.9 565.9,202.3 567.4,203.7 568.9,205.1 570.4,206.5 571.9,207.8 573.4,209.1 574.9,210.5 576.4,211.8 577.9,213.1 579.4,214.5 580.9,215.8 582.4,217.0 583.9,218.3 585.4,219.4 586.9,220.5 588.4,221.6 589.9,222.6 591.5,223.5 593.0,224.4 594.5,225.3 596.0,226.2 597.5,227.0 599.0,227.8 600.5,228.6 602.0,229.3 603.5,230.0 605.0,230.8 606.5,231.4 608.0,232.1 609.5,232.7 611.0,233.3 612.5,233.9 614.0,234.5 615.5,235.1 617.0,235.7 618.5,236.3 620.0,237.0 621.5,237.7 623.0,238.3 624.6,238.9 626.1,239.3 627.6,239.7 629.1,240.1 630.6,240.5 632.1,240.9 633.6,241.2 635.1,241.5 636.6,241.8 638.1,242.1 639.6,242.3 641.1,242.6 642.6,242.8 644.1,242.9 645.6,243.1 647.1,243.2 648.6,243.3 650.1,243.4 651.6,243.5 653.1,243.6 654.6,243.7 656.1,243.9 657.7,244.1 659.2,244.3 660.7,244.5 662.2,244.7 663.7,244.9 665.2,245.0 666.7,245.1 668.2,245.2 669.7,245.3 671.2,245.4 672.7,245.4" fill="none" stroke="#1f77b4" stroke-width="2.00" stroke-linejoin="round" stroke-linecap="butt"/>
</g>
<g clip-path="url(#c2)">
<polyline points="51.0,325.0 51.1,379.6 51.3,324.9 51.4,379.6 51.6,324.9 51.7,379.6 51.9,324.9 52.0,379.6 52.2,324.9 52.3,384.7 52.5,330.2 52.6,384.7 52.8,330.2 52.9,384.7 53.1,330.2 53.2,384.7 53.4,330.2 53.5,384.7 53.7,325.2 53.8,380.2 54.0,325.2 54.1,380.2 54.3,325.2 54.4,380.2 54.6,325.2 54.7,380.2 54.8,325.2 55.0,379.1 55.1,331.5 55.3,379.1 55.4,331.5 55.6,379.1 55.7,331.5 55.9,379.1 56.0,331.5 56.2,387.9 56.3,328.2 56.5,387.9 56.6,328.2 56.8,387.9 56.9,328.2 57.1,387.9 57.2,328.2 57.4,387.9 57.5,328.9 57.7,390.6 57.8,328.9 58.0,390.6 58.1,328.9 58.3,390.6 58.4,328.9 58.5,390.6 58.7,328.9 58.8,381.7 59.0,330.2 59.1,381.7 59.3,330.2 59.4,381.7 59.6,330.2 59.7,381.7 59.9,330.2 60.0,381.7 60.2,321.3 60.3,384.2 60.5,321.3 60.6,384.2 60.8,321.3 60.9,384.2 61.1,321.3 61.2,384.2 61.4,325.5 61.5,384.0 61.7,325.5 61.8,384.0 62.0,325.5 62.1,384.0 62.2,325.5 62.4,384.0 62.5,325.5 62.7,380.0 62.8,331.5 63.0,380.0 63.1,331.5 63.3,380.0 63.4,331.5 63.6,380.0 63.7,331.5 63.9,380.0 64.0,325.5 64.2,405.4 64.3,325.5 64.5,405.4 64.6,325.5 64.8,405.4 64.9,325.5 65.1,405.4 65.2,325.5 65.4,381.1 65.5,317.9 65.7,381.1 65.8,317.9 65.9,381.1 66.1,317.9 66.2,381.1 66.4,317.9 66.5,379.1 66.7,320.5 66.8,379.1 67.0,320.5 67.1,379.1 67.3,320.5 67.4,379.1 67.6,320.5 67.7,379.1 67.9,316.9 68.0,384.3 68.2,316.9 68.3,384.3 68.5,316.9 68.6,384.3 68.8,316.9 68.9,384.3 69.1,316.9 69.2,385.2 69.4,309.8 69.5,385.2 69.6,309.8 69.8,385.2 69.9,309.8 70.1,385.2 70.2,309.8 70.4,385.2 70.5,325.0 70.7,380.8 70.8,325.0 71.0,380.8 71.1,325.0 71.3,380.8 71.4,325.0 71.6,380.8 71.7,328.5 71.9,379.1 72.0,328.5 72.2,379.1 72.3,328.5 72.5,379.1 72.6,328.5 72.8,379.1 72.9,328.5 73.1,379.5 73.2,332.5 73.3,379.5 73.5,332.5 73.6,379.5 73.8,332.5 73.9,379.5 74.1,332.5 74.2,379.5 74.4,331.7 74.5,391.2 74.7,331.7 74.8,391.2 75.0,331.7 75.1,391.2 75.3,331.7 75.4,391.2 75.6,331.7 75.7,379.9 75.9,327.1 76.0,379.9 76.2,327.1 76.3,379.9 76.5,327.1 76.6,379.9 76.7,327.1 76.9,391.2 77.0,330.5 77.2,391.2 77.3,330.5 77.5,391.2 77.6,330.5 77.8,391.2 77.9,330.5 78.1,391.2 78.2,329.8 78.4,387.9 78.5,329.8 78.7,387.9 78.8,329.8 79.0,387.9 79.1,329.7 79.3,387.9 79.4,329.7 79.6,379.1 79.7,331.6 79.9,379.1 80.0,331.6 80.2,379.1 80.3,331.6 80.4,379.1 80.6,331.6 80.7,379.1 80.9,316.5 81.0,385.3 81.2,316.5 81.3,385.3 81.5,316.5 81.6,385.3 81.8,316.5 81.9,385.3 82.1,329.8 82.2,379.7 82.4,329.8 82.5,379.7 82.7,329.8 82.8,379.7 83.0,329.8 83.1,379.7 83.3,329.8 83.4,384.9 83.6,322.6 83.7,384.9 83.9,322.6 84.0,384.9 84.1,322.6 84.3,384.9 84.4,322.6 84.6,384.9 84.7,329.7 84.9,380.7 85.0,329.7 85.2,380.7 85.3,329.7 85.5,380.7 85.6,329.7 85.8,380.7 85.9,329.7 86.1,385.5 86.2,331.6 86.4,385.5 86.5,331.6 86.7,385.5 86.8,331.6 87.0,385.5 87.1,331.6 87.3,382.6 87.4,328.1 87.6,382.6 87.7,328.1 87.8,382.6 88.0,328.1 88.1,382.6 88.3,328.1 88.4,382.6 88.6,329.0 88.7,388.2 88.9,329.0 89.0,388.2 89.2,329.0 89.3,388.2 89.5,329.0 89.6,388.2 89.8,329.0 89.9,383.0 90.1,324.3 90.2,383.0 90.4,324.3 90.5,383.0 90.7,324.3 90.8,383.0 91.0,324.3 91.1,383.0 91.3,330.6 91.4,384.9 91.5,330.6 91.7,384.9 91.8,330.6 92.0,384.9 92.1,330.6 92.3,384.9 92.4,325.0 92.6,419.5 92.7,325.0 92.9,419.5 93.0,325.0 93.2,419.5 93.3,325.0 93.5,419.5 93.6,325.0 93.8,381.1 93.9,309.5 94.1,381.1 94.2,309.5 94.4,381.1 94.5,309.5 94.7,381.1 94.8,309.5 95.0,381.1 95.1,328.3 95.2,392.2 95.4,328.3 95.5,392.2 95.7,328.3 95.8,392.2 96.0,328.3 96.1,392.2 96.3,328.3 96.4,380.1 96.6,318.0 96.7,380.1 96.9,318.0 97.0,380.1 97.2,318.0 97.3,380.1 97.5,318.0 97.6,385.3 97.8,319.0 97.9,385.4 98.1,319.0 98.2,385.4 98.4,319.0 98.5,385.4 98.7,319.0 98.8,385.4 98.9,326.7 99.1,379.6 99.2,326.7 99.4,379.6 99.5,326.6 99.7,379.6 99.8,326.6 100.0,379.6 100.1,326.6 100.3,389.0 100.4,327.3 100.6,389.0 100.7,327.3 100.9,389.0 101.0,327.3 101.2,389.0 101.3,327.3 101.5,389.0 101.6,318.3 101.8,391.6 101.9,318.3 102.1,391.6 102.2,318.3 102.4,391.6 102.5,318.3 102.6,391.6 102.8,326.2 102.9,380.3 103.1,326.2 103.2,380.3 103.4,326.2 103.5,380.3 103.7,326.2 103.8,380.3 104.0,326.2 104.1,379.4 104.3,329.1 104.4,379.4 104.6,329.1 104.7,379.5 104.9,329.1 105.0,379.5 105.2,329.1 105.3,379.5 105.5,313.1 105.6,393.0 105.8,313.1 105.9,393.0 106.1,313.1 106.2,393.0 106.3,313.1 106.5,393.0 106.6,313.1 106.8,383.7 106.9,327.0 107.1,383.7 107.2,327.0 107.4,383.7 107.5,327.0 107.7,383.7 107.8,327.0 108.0,379.1 108.1,320.4 108.3,379.1 108.4,320.4 108.6,379.1 108.7,320.4 108.9,379.1 109.0,320.4 109.2,379.1 109.3,323.5 109.5,382.7 109.6,323.5 109.8,382.7 109.9,323.5 110.0,382.7 110.2,323.5 110.3,382.7 110.5,323.5 110.6,384.3 110.8,321.8 110.9,384.3 111.1,321.8 111.2,384.3 111.4,321.8 111.5,384.3 111.7,321.8 111.8,384.3 112.0,311.0 112.1,402.9 112.3,311.0 112.4,402.9 112.6,311.0 112.7,402.9 112.9,311.0 113.0,402.9 113.2,325.9 113.3,381.9 113.5,325.9 113.6,381.9 113.7,325.9 113.9,381.9 114.0,325.9 114.2,381.9 114.3,325.9 114.5,405.1 114.6,322.5 114.8,405.1 114.9,322.5 115.1,405.1 115.2,322.5 115.4,405.1 115.5,322.5 115.7,405.1 115.8,323.9 116.0,385.9 116.1,323.9 116.3,385.9 116.4,323.9 116.6,385.9 116.7,323.9 116.9,385.9 117.0,323.9 117.2,381.7 117.3,325.4 117.4,381.7 117.6,325.4 117.7,381.7 117.9,325.3 118.0,381.7 118.2,325.3 118.3,381.8 118.5,331.0 118.6,381.8 118.8,331.0 118.9,381.8 119.1,331.0 119.2,381.8 119.4,331.0 119.5,381.8 119.7,329.9 119.8,379.5 120.0,329.9 120.1,379.5 120.3,329.9 120.4,379.5 120.6,329.9 120.7,379.5 120.9,329.9 121.0,386.8 121.1,326.0 121.3,386.8 121.4,326.0 121.6,386.8 121.7,326.0 121.9,386.8 122.0,326.0 122.2,386.8 122.3,327.1 122.5,383.0 122.6,327.1 122.8,383.0 122.9,327.1 123.1,383.0 123.2,327.1 123.4,383.0 123.5,322.8 123.7,382.6 123.8,322.8 124.0,382.6 124.1,322.8 124.3,382.6 124.4,322.8 124.5,382.6 124.7,322.8 124.8,389.2 125.0,328.6 125.1,389.2 125.3,328.6 125.4,389.2 125.6,328.6 125.7,389.2 125.9,328.7 126.0,389.1 126.2,332.2 126.3,385.1 126.5,332.2 126.6,385.0 126.8,332.2 126.9,385.0 127.1,332.2 127.2,385.0 127.4,332.2 127.5,381.8 127.7,325.5 127.8,381.8 128.0,325.5 128.1,381.8 128.2,325.5 128.4,381.8 128.5,325.5 128.7,385.2 128.8,330.5 129.0,385.2 129.1,330.5 129.3,385.2 129.4,330.5 129.6,385.2 129.7,330.5 129.9,385.2 130.0,319.1 130.2,382.5 130.3,319.1 130.5,382.4 130.6,319.1 130.8,382.4 130.9,319.1 131.1,382.4 131.2,319.1 131.4,381.3 131.5,328.2 131.7,381.3 131.8,328.2 131.9,381.3 132.1,328.2 132.2,381.3 132.4,328.3 132.5,381.3 132.7,332.4 132.8,385.0 133.0,332.4 133.1,385.0 133.3,332.4 133.4,385.0 133.6,332.4 133.7,385.0 133.9,322.7 134.0,380.3 134.2,322.7 134.3,380.3 134.5,322.7 134.6,380.3 134.8,322.8 134.9,380.3 135.1,322.8 135.2,393.8 135.4,327.9 135.5,393.7 135.6,327.9 135.8,393.7 135.9,327.9 136.1,393.7 136.2,327.9 136.4,393.7 136.5,326.4 136.7,383.2 136.8,326.4 137.0,383.2 137.1,326.4 137.3,383.2 137.4,326.5 137.6,383.2 137.7,326.5 137.9,382.1 138.0,324.7 138.2,382.0 138.3,324.7 138.5,382.0 138.6,324.7 138.8,382.0 138.9,324.7 139.1,383.9 139.2,325.6 139.3,383.9 139.5,325.6 139.6,383.9 139.8,325.6 139.9,383.9 140.1,325.6 140.2,383.9 140.4,329.2 140.5,385.5 140.7,329.2 140.8,385.5 141.0,329.2 141.1,385.5 141.3,329.2 141.4,385.5 141.6,329.2 141.7,379.9 141.9,331.7 142.0,379.9 142.2,331.7 142.3,379.9 142.5,331.7 142.6,379.9 142.8,331.7 142.9,379.8 143.0,332.8 143.2,379.6 143.3,332.8 143.5,379.6 143.6,332.8 143.8,379.6 143.9,332.8 144.1,379.6 144.2,323.8 144.4,381.8 144.5,323.8 144.7,381.8 144.8,323.8 145.0,381.8 145.1,323.8 145.3,381.8 145.4,323.9 145.6,382.5 145.7,326.8 145.9,382.5 146.0,326.8 146.2,382.5 146.3,326.9 146.5,382.5 146.6,326.9 146.7,382.5 146.9,322.7 147.0,385.8 147.2,322.7 147.3,385.8 147.5,322.8 147.6,385.8 147.8,322.8 147.9,385.8 148.1,322.8 148.2,386.5 148.4,332.9 148.5,386.5 148.7,332.9 148.8,386.5 149.0,332.9 149.1,386.5 149.3,332.9 149.4,379.7 149.6,332.5 149.7,379.6 149.9,332.5 150.0,379.6 150.2,332.5 150.3,379.6 150.4,332.6 150.6,379.6 150.7,328.1 150.9,379.6 151.0,328.1 151.2,379.6 151.3,328.1 151.5,379.6 151.6,328.2 151.8,379.6 151.9,328.2 152.1,395.2 152.2,331.4 152.4,395.2 152.5,331.5 152.7,395.1 152.8,331.5 153.0,395.1 153.1,331.5 153.3,395.1 153.4,328.4 153.6,386.1 153.7,328.4 153.9,386.1 154.0,328.5 154.1,386.1 154.3,328.5 154.4,386.1 154.6,329.8 154.7,379.7 154.9,329.8 155.0,379.7 155.2,329.8 155.3,379.7 155.5,329.8 155.6,379.7 155.8,329.9 155.9,384.5 156.1,320.4 156.2,384.5 156.4,320.4 156.5,384.4 156.7,320.4 156.8,384.4 157.0,320.4 157.1,384.4 157.3,320.1 157.4,379.1 157.6,320.1 157.7,379.1 157.8,320.1 158.0,379.1 158.1,320.2 158.3,379.1 158.4,320.2 158.6,382.7 158.7,329.0 158.9,382.7 159.0,329.0 159.2,382.7 159.3,329.0 159.5,382.7 159.6,329.0 159.8,379.2 159.9,330.3 160.1,379.2 160.2,330.3 160.4,379.2 160.5,330.3 160.7,379.2 160.8,330.4 161.0,379.1 161.1,326.0 161.3,383.3 161.4,326.0 161.5,383.3 161.7,326.0 161.8,383.3 162.0,326.0 162.1,383.2 162.3,326.0 162.4,387.0 162.6,330.2 162.7,387.0 162.9,330.2 163.0,387.0 163.2,330.2 163.3,387.0 163.5,330.3 163.6,386.9 163.8,313.3 163.9,393.5 164.1,313.3 164.2,393.5 164.4,313.4 164.5,393.5 164.7,313.4 164.8,393.4 165.0,325.9 165.1,379.2 165.2,325.9 165.4,379.1 165.5,325.9 165.7,379.1 165.8,325.9 166.0,379.1 166.1,325.9 166.3,378.1 166.4,329.0 166.6,378.1 166.7,329.0 166.9,378.1 167.0,329.0 167.2,378.1 167.3,329.0 167.5,378.0 167.6,330.2 167.8,380.5 167.9,330.3 168.1,380.5 168.2,330.3 168.4,380.5 168.5,330.3 168.7,380.4 168.8,330.3 168.9,377.7 169.1,330.9 169.2,377.7 169.4,331.0 169.5,377.7 169.7,331.0 169.8,377.7 170.0,331.0 170.1,385.5 170.3,313.0 170.4,385.5 170.6,313.0 170.7,385.4 170.9,313.0 171.0,385.4 171.2,313.1 171.3,385.4 171.5,333.5 171.6,382.7 171.8,333.5 171.9,382.7 172.1,333.5 172.2,382.6 172.3,333.5 172.5,382.6 172.6,333.5 172.8,389.3 172.9,322.0 173.1,389.3 173.2,322.0 173.4,389.3 173.5,322.0 173.7,389.2 173.8,322.0 174.0,389.2 174.1,330.5 174.3,389.2 174.4,330.5 174.6,389.2 174.7,330.5 174.9,389.2 175.0,330.5 175.2,389.1 175.3,330.3 175.5,386.2 175.6,330.4 175.8,386.1 175.9,330.4 176.0,386.1 176.2,330.4 176.3,386.1 176.5,330.4 176.6,383.9 176.8,330.4 176.9,383.9 177.1,330.4 177.2,383.9 177.4,330.4 177.5,383.9 177.7,330.4 177.8,383.9 178.0,333.2 178.1,387.7 178.3,333.3 178.4,387.6 178.6,333.3 178.7,387.6 178.9,333.3 179.0,387.6 179.2,333.3 179.3,382.1 179.5,332.8 179.6,382.0 179.7,332.8 179.9,382.0 180.0,332.8 180.2,382.0 180.3,332.8 180.5,377.4 180.6,328.9 180.8,377.4 180.9,328.9 181.1,377.4 181.2,328.9 181.4,377.4 181.5,328.9 181.7,377.4 181.8,333.4 182.0,389.6 182.1,333.4 182.3,389.6 182.4,333.4 182.6,389.6 182.7,333.4 182.9,389.6 183.0,333.4 183.2,384.3 183.3,331.1 183.4,384.3 183.6,331.1 183.7,384.2 183.9,331.1 184.0,384.2 184.2,331.1 184.3,384.2 184.5,329.6 184.6,382.6 184.8,329.6 184.9,382.6 185.1,329.6 185.2,382.6 185.4,329.6 185.5,382.6 185.7,333.8 185.8,386.4 186.0,333.8 186.1,386.4 186.3,333.8 186.4,386.4 186.6,333.9 186.7,386.3 186.9,333.9 187.0,377.8 187.1,332.3 187.3,377.8 187.4,332.4 187.6,377.8 187.7,332.4 187.9,377.8 188.0,332.4 188.2,377.8 188.3,332.8 188.5,382.6 188.6,332.8 188.8,382.6 188.9,332.8 189.1,382.6 189.2,332.8 189.4,382.6 189.5,332.8 189.7,379.5 189.8,331.6 190.0,379.5 190.1,331.7 190.3,379.5 190.4,331.7 190.6,379.5 190.7,331.7 190.8,390.2 191.0,332.5 191.1,390.2 191.3,332.5 191.4,390.2 191.6,332.5 191.7,390.2 191.9,332.5 192.0,390.2 192.2,327.7 192.3,395.1 192.5,327.7 192.6,395.1 192.8,327.9 192.9,394.2 193.1,328.7 193.2,393.1 193.4,329.5 193.5,382.5 193.7,331.9 193.8,381.6 194.0,332.6 194.1,380.8 194.3,333.4 194.4,380.0 194.5,334.1 194.7,379.2 194.8,336.9 195.0,392.8 195.1,337.6 195.3,389.8 195.4,336.7 195.6,388.6 195.7,337.5 195.9,387.4 196.0,323.8 196.2,370.9 196.3,325.3 196.5,370.5 196.6,326.5 196.8,370.1 196.9,327.7 197.1,369.8 197.2,328.9 197.4,369.1 197.5,343.9 197.7,368.8 197.8,344.5 198.0,368.5 198.1,345.2 198.2,368.2 198.4,345.9 198.5,367.9 198.7,345.5 198.8,373.0 199.0,346.2 199.1,372.5 199.3,346.9 199.4,371.9 199.6,347.6 199.7,371.3 199.9,348.3 200.0,366.8 200.2,345.8 200.3,366.7 200.5,346.2 200.6,366.6 200.8,346.6 200.9,366.6 201.1,346.9 201.2,365.6 201.4,350.2 201.5,365.6 201.7,350.5 201.8,365.6 201.9,350.8 202.1,365.5 202.2,351.0 202.4,365.4 202.5,353.0 202.7,366.9 202.8,353.2 203.0,366.7 203.1,353.4 203.3,366.6 203.4,353.5 203.6,366.4 203.7,353.7 203.9,367.7 204.0,351.8 204.2,367.5 204.3,352.0 204.5,367.2 204.6,352.1 204.8,366.9 204.9,352.3 205.1,366.6 205.2,352.4 205.4,364.2 205.5,352.5 205.6,364.0 205.8,352.6 205.9,363.8 206.1,352.8 206.2,363.6 206.4,353.5 206.5,363.5 206.7,353.5 206.8,363.4 207.0,353.5 207.1,363.3 207.3,353.6 207.4,363.2 207.6,353.6 207.7,363.8 207.9,351.4 208.0,363.7 208.2,351.5 208.3,363.6 208.5,351.5 208.6,363.5 208.8,351.6 208.9,363.4 209.1,352.1 209.2,363.0 209.3,352.1 209.5,362.9 209.6,352.1 209.8,362.7 209.9,352.1 210.1,362.6 210.2,352.1 210.4,362.5 210.5,352.4 210.7,362.3 210.8,352.4 211.0,362.1 211.1,352.4 211.3,361.9 211.4,352.3 211.6,361.1 211.7,352.3 211.9,360.9 212.0,352.2 212.2,360.7 212.3,352.2 212.5,360.5 212.6,352.1 212.8,360.3 212.9,350.0 213.0,360.3 213.2,350.0 213.3,360.1 213.5,350.1 213.6,359.9 213.8,350.1 213.9,359.8 214.1,350.1 214.2,360.4 214.4,352.7 214.5,360.3 214.7,352.7 214.8,360.2 215.0,352.8 215.1,360.1 215.3,352.8 215.4,360.1 215.6,354.5 215.7,361.2 215.9,354.5 216.0,361.2 216.2,354.5 216.3,361.2 216.5,354.5 216.6,361.2 216.7,353.6 216.9,360.5 217.0,353.6 217.2,360.5 217.3,353.6 217.5,360.5 217.6,353.6 217.8,360.5 217.9,353.7 218.1,358.8 218.2,352.4 218.4,358.8 218.5,352.4 218.7,358.8 218.8,352.5 219.0,358.9 219.1,352.5 219.3,358.9 219.4,351.2 219.6,358.6 219.7,351.3 219.9,358.7 220.0,351.4 220.1,358.8 220.3,351.5 220.4,358.8 220.6,351.6 220.7,359.4 220.9,353.1 221.0,359.5 221.2,353.2 221.3,359.6 221.5,353.3 221.6,359.7 221.8,353.4 221.9,362.5 222.1,354.4 222.2,362.7 222.4,354.6 222.5,362.8 222.7,354.7 222.8,362.9 223.0,354.8 223.1,363.0 223.3,353.4 223.4,362.4 223.6,353.5 223.7,362.5 223.8,353.6 224.0,362.5 224.1,353.7 224.3,362.6 224.4,353.7 224.6,361.3 224.7,354.3 224.9,361.4 225.0,354.3 225.2,361.4 225.3,354.3 225.5,361.3 225.6,354.3 225.8,361.3 225.9,354.1 226.1,362.2 226.2,354.0 226.4,362.1 226.5,353.9 226.7,362.0 226.8,353.8 227.0,361.9 227.1,355.4 227.3,362.0 227.4,355.2 227.5,361.9 227.7,355.1 227.8,361.7 228.0,354.9 228.1,361.6 228.3,354.8 228.4,362.4 228.6,353.6 228.7,362.2 228.9,353.4 229.0,362.0 229.2,353.3 229.3,361.8 229.5,353.1 229.6,361.7 229.8,352.0 229.9,360.6 230.1,351.9 230.2,360.5 230.4,351.7 230.5,360.3 230.7,351.6 230.8,360.1 231.0,351.4 231.1,358.3 231.2,350.0 231.4,358.1 231.5,349.8 231.7,358.0 231.8,349.7 232.0,357.9 232.1,349.5 232.3,359.0 232.4,352.8 232.6,358.9 232.7,352.6 232.9,358.8 233.0,352.5 233.2,358.7 233.3,352.4 233.5,358.6 233.6,352.1 233.8,358.6 233.9,352.0 234.1,358.5 234.2,351.9 234.4,358.4 234.5,351.8 234.7,358.3 234.8,351.7 234.9,357.4 235.1,351.2 235.2,357.4 235.4,351.1 235.5,357.3 235.7,351.0 235.8,357.2 236.0,350.9 236.1,357.1 236.3,350.9 236.4,358.3 236.6,350.8 236.7,358.2 236.9,350.6 237.0,358.1 237.2,350.5 237.3,358.0 237.5,350.0 237.6,357.0 237.8,349.9 237.9,356.9 238.1,349.8 238.2,356.8 238.4,349.6 238.5,356.7 238.6,349.5 238.8,358.7 238.9,350.0 239.1,358.6 239.2,349.9 239.4,358.6 239.5,349.8 239.7,358.5 239.8,349.8 240.0,358.4 240.1,350.7 240.3,357.1 240.4,350.6 240.6,357.1 240.7,350.6 240.9,357.1 241.0,350.6 241.2,357.1 241.3,350.6 241.5,356.3 241.6,349.1 241.8,356.4 241.9,349.1 242.1,356.4 242.2,349.2 242.3,356.5 242.5,349.3 242.6,355.7 242.8,348.1 242.9,355.8 243.1,348.2 243.2,356.0 243.4,348.3 243.5,356.1 243.7,348.4 243.8,356.2 244.0,347.0 244.1,354.0 244.3,347.2 244.4,354.2 244.6,347.3 244.7,354.4 244.9,347.5 245.0,354.5 245.2,347.6 245.3,354.4 245.5,347.4 245.6,354.5 245.8,347.6 245.9,354.7 246.0,347.8 246.2,354.9 246.3,348.0 246.5,355.1 246.6,350.5 246.8,356.6 246.9,350.7 247.1,356.9 247.2,350.9 247.4,357.1 247.5,351.2 247.7,357.3 247.8,351.5 248.0,358.2 248.1,351.8 248.3,358.5 248.4,352.0 248.6,358.7 248.7,352.3 248.9,359.0 249.0,352.5 249.2,358.9 249.3,352.4 249.5,359.2 249.6,352.6 249.7,359.4 249.9,352.8 250.0,359.6 250.2,353.0 250.3,359.7 250.5,355.2 250.6,361.8 250.8,355.4 250.9,361.9 251.1,355.5 251.2,362.0 251.4,355.5 251.5,362.0 251.7,355.5 251.8,362.6 252.0,355.0 252.1,362.6 252.3,354.9 252.4,362.5 252.6,354.9 252.7,362.4 252.9,354.8 253.0,360.2 253.2,353.9 253.3,360.1 253.4,353.8 253.6,359.9 253.7,353.6 253.9,359.7 254.0,353.4 254.2,359.5 254.3,353.0 254.5,359.9 254.6,352.8 254.8,359.7 254.9,352.6 255.1,359.5 255.2,352.4 255.4,359.3 255.5,352.2 255.7,360.1 255.8,352.6 256.0,359.9 256.1,352.4 256.3,359.7 256.4,352.3 256.6,359.6 256.7,352.1 256.9,359.5 257.0,352.8 257.1,359.4 257.3,352.7 257.4,359.4 257.6,352.7 257.7,359.3 257.9,352.6 258.0,359.3 258.2,352.8 258.3,359.8 258.5,352.8 258.6,359.8 258.8,352.8 258.9,359.8 259.1,352.9 259.2,359.9 259.4,352.9 259.5,360.9 259.7,352.9 259.8,361.0 260.0,352.9 260.1,361.0 260.3,353.0 260.4,361.1 260.6,353.1 260.7,361.2 260.8,351.8 261.0,359.9 261.1,351.8 261.3,360.0 261.4,351.9 261.6,360.0 261.7,352.0 261.9,360.1 262.0,352.1 262.2,360.7 262.3,351.0 262.5,360.7 262.6,351.1 262.8,360.8 262.9,351.2 263.1,360.8 263.2,351.2 263.4,359.7 263.5,353.7 263.7,359.7 263.8,353.7 264.0,359.7 264.1,353.7 264.3,359.7 264.4,353.7 264.5,359.7 264.7,354.9 264.8,361.1 265.0,354.9 265.1,361.1 265.3,354.9 265.4,361.0 265.6,354.8 265.7,361.0 265.9,354.8 266.0,361.9 266.2,353.9 266.3,361.8 266.5,353.8 266.6,361.7 266.8,353.7 266.9,361.6 267.1,353.6 267.2,361.5 267.4,352.8 267.5,361.6 267.7,352.7 267.8,361.5 267.9,352.6 268.1,361.4 268.2,352.4 268.4,361.2 268.5,352.3 268.7,360.5 268.8,352.1 269.0,360.3 269.1,352.0 269.3,360.1 269.4,351.8 269.6,359.9 269.7,351.6 269.9,355.7 270.0,348.9 270.2,355.5 270.3,348.6 270.5,355.2 270.6,348.4 270.8,355.0 270.9,348.2 271.1,354.8 271.2,347.6 271.4,353.4 271.5,347.4 271.6,353.1 271.8,347.2 271.9,352.9 272.1,347.0 272.2,352.7 272.4,346.7 272.5,354.6 272.7,346.9 272.8,354.4 273.0,346.7 273.1,354.2 273.3,346.6 273.4,354.0 273.6,346.4 273.7,355.9 273.9,346.9 274.0,355.7 274.2,346.9 274.3,355.7 274.5,346.8 274.6,355.6 274.8,346.8 274.9,355.6 275.1,347.4 275.2,357.2 275.3,347.4 275.5,357.2 275.6,347.4 275.8,357.2 275.9,347.5 276.1,357.3 276.2,347.6 276.4,357.1 276.5,350.3 276.7,357.2 276.8,350.4 277.0,357.3 277.1,350.5 277.3,357.5 277.4,350.7 277.6,357.7 277.7,350.6 277.9,357.0 278.0,350.7 278.2,357.1 278.3,350.9 278.5,357.3 278.6,351.1 278.8,357.5 278.9,348.8 279.0,356.4 279.2,349.0 279.3,356.6 279.5,349.2 279.6,356.7 279.8,349.3 279.9,356.9 280.1,349.5 280.2,356.4 280.4,349.6 280.5,356.5 280.7,349.8 280.8,356.7 281.0,349.9 281.1,356.8 281.3,350.0 281.4,356.9 281.6,352.9 281.7,360.1 281.9,353.0 282.0,360.2 282.2,353.1 282.3,360.3 282.5,353.3 282.6,360.4 282.7,353.4 282.9,360.1 283.0,353.3 283.2,360.2 283.3,353.4 283.5,360.4 283.6,353.5 283.8,360.5 283.9,353.7 284.1,359.7 284.2,352.6 284.4,359.9 284.5,352.8 284.7,360.1 284.8,353.0 285.0,360.3 285.1,353.2 285.3,360.5 285.4,353.3 285.6,359.5 285.7,353.5 285.9,359.7 286.0,353.7 286.2,359.9 286.3,353.9 286.4,360.1 286.6,354.1 286.7,362.1 286.9,352.4 287.0,362.3 287.2,352.6 287.3,362.5 287.5,352.8 287.6,362.7 287.8,353.0 287.9,362.8 288.1,355.2 288.2,361.7 288.4,355.3 288.5,361.8 288.7,355.4 288.8,361.9 289.0,355.5 289.1,362.0 289.3,356.5 289.4,363.7 289.6,356.5 289.7,363.8 289.9,356.5 290.0,363.8 290.1,356.5 290.3,363.7 290.4,356.5 290.6,363.8 290.7,353.9 290.9,363.7 291.0,353.8 291.2,363.6 291.3,353.7 291.5,363.5 291.6,353.6 291.8,363.5 291.9,355.3 292.1,363.0 292.2,355.2 292.4,362.9 292.5,355.1 292.7,362.8 292.8,355.0 293.0,362.7 293.1,355.0 293.3,363.1 293.4,355.7 293.6,363.0 293.7,355.6 293.8,363.0 294.0,355.6 294.1,363.0 294.3,355.6 294.4,362.8 294.6,356.3 294.7,362.8 294.9,356.4 295.0,362.9 295.2,356.4 295.3,363.0 295.5,356.5 295.6,363.1 295.8,356.3 295.9,363.5 296.1,356.4 296.2,363.7 296.4,356.6 296.5,363.8 296.7,356.7 296.8,364.0 297.0,356.9 297.1,364.4 297.3,355.8 297.4,364.5 297.5,355.9 297.7,364.7 297.8,356.1 298.0,364.9 298.1,356.3 298.3,365.1 298.4,357.2 298.6,363.1 298.7,357.3 298.9,363.2 299.0,357.4 299.2,363.3 299.3,357.5 299.5,363.4 299.6,356.2 299.8,363.2 299.9,356.2 300.1,363.2 300.2,356.2 300.4,363.2 300.5,356.2 300.7,363.1 300.8,356.1 301.0,363.4 301.1,356.6 301.2,363.3 301.4,356.5 301.5,363.2 301.7,356.4 301.8,363.0 302.0,356.2 302.1,362.8 302.3,355.3 302.4,362.4 302.6,355.1 302.7,362.2 302.9,354.9 303.0,362.0 303.2,354.7 303.3,361.8 303.5,354.5 303.6,361.9 303.8,354.6 303.9,361.6 304.1,354.4 304.2,361.4 304.4,354.2 304.5,361.2 304.7,354.0 304.8,362.8 304.9,356.1 305.1,362.6 305.2,355.9 305.4,362.4 305.5,355.7 305.7,362.2 305.8,355.5 306.0,362.1 306.1,356.0 306.3,362.9 306.4,355.8 306.6,362.8 306.7,355.7 306.9,362.7 307.0,355.5 307.2,362.5 307.3,355.4 307.5,361.3 307.6,355.0 307.8,361.2 307.9,354.9 308.1,361.1 308.2,354.8 308.4,361.0 308.5,354.7 308.6,360.9 308.8,350.4 308.9,358.8 309.1,350.3 309.2,358.8 309.4,350.2 309.5,358.7 309.7,350.2 309.8,358.7 310.0,350.3 310.1,356.6 310.3,350.3 310.4,356.6 310.6,350.3 310.7,356.6 310.9,350.3 311.0,356.6 311.2,350.3 311.3,358.9 311.5,352.7 311.6,359.0 311.8,352.8 311.9,359.1 312.1,352.9 312.2,359.2 312.3,353.0 312.5,359.3 312.6,354.5 312.8,360.8 312.9,354.7 313.1,360.9 313.2,354.8 313.4,361.1 313.5,354.9 313.7,361.2 313.8,355.1 314.0,359.9 314.1,352.2 314.3,360.1 314.4,352.3 314.6,360.2 314.7,352.4 314.9,360.3 315.0,352.5 315.2,361.4 315.3,352.4 315.5,361.4 315.6,352.5 315.7,361.5 315.9,352.5 316.0,361.5 316.2,352.6 316.3,361.5 316.5,353.8 316.6,361.9 316.8,353.7 316.9,361.9 317.1,353.7 317.2,361.8 317.4,353.6 317.5,361.8 317.7,353.5 317.8,362.5 318.0,355.0 318.1,362.4 318.3,354.8 318.4,362.3 318.6,354.7 318.7,362.2 318.9,354.6 319.0,362.0 319.2,354.3 319.3,361.9 319.4,354.1 319.6,361.7 319.7,354.0 319.9,361.6 320.0,353.8 320.2,361.4 320.3,352.5 320.5,359.8 320.6,352.3 320.8,359.7 320.9,352.1 321.1,359.5 321.2,352.0 321.4,359.3 321.5,351.8 321.7,357.3 321.8,350.4 322.0,357.2 322.1,350.2 322.3,357.0 322.4,350.0 322.6,356.8 322.7,349.8 322.9,356.6 323.0,349.0 323.1,356.2 323.3,348.7 323.4,356.0 323.6,348.5 323.7,355.8 323.9,348.3 324.0,355.6 324.2,348.1 324.3,356.3 324.5,349.8 324.6,356.1 324.8,349.6 324.9,355.9 325.1,349.4 325.2,355.8 325.4,349.3 325.5,357.2 325.7,349.5 325.8,357.1 326.0,349.4 326.1,356.9 326.3,349.3 326.4,356.8 326.6,349.2 326.7,356.8 326.8,348.0 327.0,355.9 327.1,347.9 327.3,355.8 327.4,347.9 327.6,355.8 327.7,347.9 327.9,355.8 328.0,347.9 328.2,354.5 328.3,347.3 328.5,354.5 328.6,347.3 328.8,354.5 328.9,347.4 329.1,354.6 329.2,347.4 329.4,354.6 329.5,348.7 329.7,354.9 329.8,348.8 330.0,355.0 330.1,348.8 330.3,355.0 330.4,348.8 330.5,355.0 330.7,348.8 330.8,355.8 331.0,348.8 331.1,355.8 331.3,348.9 331.4,355.8 331.6,348.9 331.7,355.8 331.9,348.9 332.0,355.3 332.2,348.0 332.3,355.4 332.5,348.0 332.6,355.4 332.8,348.1 332.9,355.4 333.1,348.1 333.2,355.5 333.4,348.7 333.5,355.2 333.7,348.8 333.8,355.3 334.0,348.9 334.1,355.4 334.2,349.0 334.4,355.6 334.5,349.2 334.7,357.4 334.8,351.2 335.0,357.6 335.1,351.4 335.3,357.8 335.4,351.6 335.6,358.0 335.7,351.8 335.9,358.8 336.0,351.1 336.2,359.0 336.3,351.3 336.5,359.2 336.6,351.5 336.8,359.4 336.9,351.8 337.1,359.7 337.2,351.3 337.4,359.0 337.5,351.6 337.7,359.3 337.8,351.8 337.9,359.5 338.1,352.0 338.2,359.7 338.4,352.2 338.5,358.2 338.7,352.2 338.8,358.4 339.0,352.4 339.1,358.6 339.3,352.5 339.4,358.7 339.6,352.6 339.7,358.8 339.9,351.4 340.0,359.2 340.2,351.4 340.3,359.3 340.5,351.5 340.6,359.3 340.8,351.6 340.9,359.4 341.1,352.9 341.2,360.7 341.4,353.0 341.5,360.7 341.6,353.0 341.8,360.7 341.9,353.0 342.1,360.7 342.2,353.0 342.4,360.6 342.5,354.2 342.7,360.6 342.8,354.1 343.0,360.6 343.1,354.1 343.3,360.6 343.4,354.1 343.6,360.6 343.7,353.5 343.9,361.4 344.0,353.5 344.2,361.4 344.3,353.5 344.5,361.4 344.6,353.6 344.8,361.4 344.9,353.6 345.1,361.7 345.2,355.5 345.3,361.7 345.5,355.6 345.6,361.7 345.8,355.6 345.9,361.8 346.1,355.6 346.2,363.5 346.4,355.4 346.5,363.5 346.7,355.4 346.8,363.5 347.0,355.5 347.1,363.5 347.3,355.5 347.4,363.5 347.6,355.1 347.7,361.6 347.9,355.1 348.0,361.6 348.2,355.1 348.3,361.6 348.5,355.1 348.6,361.5 348.8,355.1 348.9,361.2 349.0,354.0 349.2,361.2 349.3,354.0 349.5,361.1 349.6,353.9 349.8,361.1 349.9,353.8 350.1,361.0 350.2,353.4 350.4,360.2 350.5,353.3 350.7,360.2 350.8,353.2 351.0,360.1 351.1,353.1 351.3,360.0 351.4,350.2 351.6,361.2 351.7,350.1 351.9,361.1 352.0,350.0 352.2,361.0 352.3,350.0 352.5,361.0 352.6,349.9 352.7,361.4 352.9,352.8 353.0,361.4 353.2,352.7 353.3,361.3 353.5,352.6 353.6,361.2 353.8,352.6 353.9,361.2 354.1,352.7 354.2,358.7 354.4,352.6 354.5,358.7 354.7,352.6 354.8,358.6 355.0,352.6 355.1,358.6 355.3,352.5 355.4,357.6 355.6,350.6 355.7,357.5 355.9,350.5 356.0,357.5 356.2,350.5 356.3,357.4 356.4,350.4 356.6,357.5 356.7,349.9 356.9,357.5 357.0,349.9 357.2,357.4 357.3,349.8 357.5,357.3 357.6,349.7 357.8,357.2 357.9,351.5 358.1,358.7 358.2,351.3 358.4,358.6 358.5,351.2 358.7,358.5 358.8,351.1 359.0,358.4 359.1,351.0 359.3,357.5 359.4,349.9 359.6,357.4 359.7,349.8 359.9,357.2 360.0,349.7 360.1,357.1 360.3,349.6 360.4,357.0 360.6,349.2 360.7,357.8 360.9,349.1 361.0,357.7 361.2,349.0 361.3,357.6 361.5,348.9 361.6,357.6 361.8,349.6 361.9,356.5 362.1,349.5 362.2,356.4 362.4,349.4 362.5,356.4 362.7,349.4 362.8,356.4 363.0,349.4 363.1,355.4 363.3,348.8 363.4,355.4 363.5,348.8 363.7,355.4 363.8,348.8 364.0,355.4 364.1,348.8 364.3,355.4 364.4,348.0 364.6,354.4 364.7,348.1 364.9,354.4 365.0,348.1 365.2,354.5 365.3,348.1 365.5,354.5 365.6,348.2 365.8,354.7 365.9,347.9 366.1,354.8 366.2,348.0 366.4,354.8 366.5,348.0 366.7,354.9 366.8,348.1 367.0,355.1 367.1,348.7 367.2,355.2 367.4,348.8 367.5,355.3 367.7,348.9 367.8,355.5 368.0,349.1 368.1,355.6 368.3,348.7 368.4,356.7 368.6,348.9 368.7,356.9 368.9,349.1 369.0,357.1 369.2,349.4 369.3,357.4 369.5,349.6 369.6,359.1 369.8,352.4 369.9,359.3 370.1,352.7 370.2,359.6 370.4,353.0 370.5,359.9 370.7,353.3 370.8,360.2 370.9,354.6 371.1,362.0 371.2,354.9 371.4,362.3 371.5,355.2 371.7,362.6 371.8,355.4 372.0,362.8 372.1,354.0 372.3,361.8 372.4,354.2 372.6,362.0 372.7,354.4 372.9,362.2 373.0,354.6 373.2,362.3 373.3,354.7 373.5,361.2 373.6,355.0 373.8,361.3 373.9,355.1 374.1,361.4 374.2,355.1 374.4,361.4 374.5,355.1 374.6,361.4 374.8,355.1 374.9,361.6 375.1,355.0 375.2,361.6 375.4,355.0 375.5,361.5 375.7,354.9 375.8,361.4 376.0,354.7 376.1,361.6 376.3,353.6 376.4,361.5 376.6,353.5 376.7,361.3 376.9,353.3 377.0,361.1 377.2,353.1 377.3,363.4 377.5,355.1 377.6,363.2 377.8,354.9 377.9,363.0 378.1,354.7 378.2,362.8 378.3,354.5 378.5,362.6 378.6,354.4 378.8,361.1 378.9,354.2 379.1,360.9 379.2,354.0 379.4,360.7 379.5,353.8 379.7,360.5 379.8,353.6 380.0,358.7 380.1,351.7 380.3,358.5 380.4,351.5 380.6,358.4 380.7,351.4 380.9,358.2 381.0,351.3 381.2,358.1 381.3,350.1 381.5,356.8 381.6,350.0 381.8,356.7 381.9,349.9 382.0,356.6 382.2,349.8 382.3,356.6 382.5,349.6 382.6,358.4 382.8,349.5 382.9,358.4 383.1,349.5 383.2,358.4 383.4,349.5 383.5,358.3 383.7,349.5 383.8,358.2 384.0,350.1 384.1,358.2 384.3,350.2 384.4,358.2 384.6,350.2 384.7,358.3 384.9,350.2 385.0,358.3 385.2,350.3 385.3,357.2 385.5,350.3 385.6,357.3 385.7,350.4 385.9,357.4 386.0,350.5 386.2,357.5 386.3,350.6 386.5,359.0 386.6,351.5 386.8,359.1 386.9,351.6 387.1,359.3 387.2,351.8 387.4,359.4 387.5,351.9 387.7,360.0 387.8,354.0 388.0,360.2 388.1,354.1 388.3,360.3 388.4,354.2 388.6,360.4 388.7,354.4 388.9,360.6 389.0,353.4 389.2,360.7 389.3,353.5 389.4,360.8 389.6,353.6 389.7,360.9 389.9,353.7 390.0,361.0 390.2,353.8 390.3,359.5 390.5,352.4 390.6,359.7 390.8,352.4 390.9,359.8 391.1,352.4 391.2,359.9 391.4,352.3 391.5,360.0 391.7,353.4 391.8,361.2 392.0,353.3 392.1,361.3 392.3,353.2 392.4,361.3 392.6,353.1 392.7,361.4 392.9,349.1 393.0,364.0 393.1,348.8 393.3,364.0 393.4,348.6 393.6,364.0 393.7,348.3 393.9,364.0 394.0,348.0 394.2,363.2 394.3,353.9 394.5,363.2 394.6,353.7 394.8,363.1 394.9,353.5 395.1,363.1 395.2,353.3 395.4,363.0 395.5,351.7 395.7,361.0 395.8,351.5 396.0,360.9 396.1,351.3 396.3,360.9 396.4,351.1 396.6,360.9 396.7,351.0 396.8,361.1 397.0,348.5 397.1,361.1 397.3,348.3 397.4,361.1 397.6,348.2 397.7,361.2 397.9,348.0 398.0,360.8 398.2,350.7 398.3,360.9 398.5,350.7 398.6,361.0 398.8,350.6 398.9,361.0 399.1,350.6 399.2,361.1 399.4,349.0 399.5,362.2 399.7,349.0 399.8,362.3 400.0,348.9 400.1,362.5 400.3,348.9 400.4,362.6 400.5,348.9 400.7,360.9 400.8,349.7 401.0,361.1 401.1,349.7 401.3,361.2 401.4,349.7 401.6,361.4 401.7,349.7 401.9,361.6 402.0,351.1 402.2,363.8 402.3,351.1 402.5,364.0 402.6,351.2 402.8,364.1 402.9,351.2 403.1,364.3 403.2,351.2 403.4,363.1 403.5,351.2 403.7,363.3 403.8,351.3 404.0,363.4 404.1,351.3 404.2,363.6 404.4,351.3 404.5,362.8 404.7,350.6 404.8,362.9 405.0,350.6 405.1,363.0 405.3,350.6 405.4,363.2 405.6,350.5 405.7,363.3 405.9,350.4 406.0,364.4 406.2,350.2 406.3,364.5 406.5,350.1 406.6,364.6 406.8,349.9 406.9,364.6 407.1,349.6 407.2,365.5 407.4,347.5 407.5,365.5 407.7,347.2 407.8,365.5 407.9,346.9 408.1,365.6 408.2,346.6 408.4,368.9 408.5,348.0 408.7,369.0 408.8,347.7 409.0,369.1 409.1,347.5 409.3,369.1 409.4,347.2 409.6,369.2 409.7,344.5 409.9,363.8 410.0,344.2 410.2,363.8 410.3,343.9 410.5,363.8 410.6,343.6 410.8,363.8 410.9,343.4 411.1,366.6 411.2,343.8 411.3,366.7 411.5,343.6 411.6,366.8 411.8,343.4 411.9,366.9 412.1,343.2 412.2,367.1 412.4,345.2 412.5,366.8 412.7,345.1 412.8,367.0 413.0,345.0 413.1,367.2 413.3,344.9 413.4,367.4 413.6,343.9 413.7,367.6 413.9,343.7 414.0,367.8 414.2,343.6 414.3,368.0 414.5,343.5 414.6,368.2 414.8,343.4 414.9,370.6 415.0,346.0 415.2,369.8 415.3,344.9 415.5,369.9 415.6,344.8 415.8,370.1 415.9,344.6 416.1,370.3 416.2,342.0 416.4,372.4 416.5,341.1 416.7,374.2 416.8,339.6 417.0,376.1 417.1,338.0 417.3,377.9 417.4,336.5 417.6,375.6 417.7,338.9 417.9,377.1 418.0,337.6 418.2,378.7 418.3,336.4 418.5,380.2 418.6,335.1 418.7,382.5 418.9,334.2 419.0,384.1 419.2,333.0 419.3,385.6 419.5,331.8 419.6,387.2 419.8,330.5 419.9,388.8 420.1,330.1 420.2,390.5 420.4,329.9 420.5,390.7 420.7,329.7 420.8,391.0 421.0,329.5 421.1,391.2 421.3,329.3 421.4,381.8 421.6,322.7 421.7,382.0 421.9,322.5 422.0,382.2 422.2,322.3 422.3,382.3 422.4,322.1 422.6,382.5 422.7,312.3 422.9,384.8 423.0,312.1 423.2,385.0 423.3,311.8 423.5,385.2 423.6,311.5 423.8,385.4 423.9,325.4 424.1,410.0 424.2,325.2 424.4,410.4 424.5,325.0 424.7,410.7 424.8,324.8 425.0,411.0 425.1,324.7 425.3,389.3 425.4,318.2 425.6,389.4 425.7,318.0 425.9,389.6 426.0,317.8 426.1,389.8 426.3,317.6 426.4,390.0 426.6,297.8 426.7,401.3 426.9,297.8 427.0,401.3 427.2,297.8 427.3,401.3 427.5,297.8 427.6,401.3 427.8,297.8 427.9,401.2 428.1,326.3 428.2,401.2 428.4,326.3 428.5,401.2 428.7,326.3 428.8,401.2 429.0,326.3 429.1,389.6 429.3,322.6 429.4,389.6 429.6,322.6 429.7,389.6 429.8,322.6 430.0,389.6 430.1,322.6 430.3,389.6 430.4,321.9 430.6,387.3 430.7,321.9 430.9,387.3 431.0,321.9 431.2,387.3 431.3,321.9 431.5,387.3 431.6,321.9 431.8,390.0 431.9,305.5 432.1,390.0 432.2,305.5 432.4,390.0 432.5,305.5 432.7,390.0 432.8,305.5 433.0,390.0 433.1,304.6 433.3,399.8 433.4,304.6 433.5,399.8 433.7,304.6 433.8,399.8 434.0,304.6 434.1,399.8 434.3,325.5 434.4,401.0 434.6,325.5 434.7,401.0 434.9,325.5 435.0,401.0 435.2,325.5 435.3,401.0 435.5,325.5 435.6,398.7 435.8,309.1 435.9,398.7 436.1,309.1 436.2,398.7 436.4,309.1 436.5,398.7 436.7,309.1 436.8,398.7 437.0,319.3 437.1,392.6 437.2,319.3 437.4,392.6 437.5,319.3 437.7,392.6 437.8,319.3 438.0,392.6 438.1,319.3 438.3,396.8 438.4,313.9 438.6,396.8 438.7,313.9 438.9,396.8 439.0,313.9 439.2,396.8 439.3,313.9 439.5,385.0 439.6,326.4 439.8,385.0 439.9,326.4 440.1,385.0 440.2,326.4 440.4,385.0 440.5,326.4 440.7,385.0 440.8,312.9 440.9,402.2 441.1,312.9 441.2,402.2 441.4,312.9 441.5,402.2 441.7,312.9 441.8,402.2 442.0,312.9 442.1,403.1 442.3,315.8 442.4,403.1 442.6,315.8 442.7,403.1 442.9,315.8 443.0,403.1 443.2,315.8 443.3,403.1 443.5,320.7 443.6,389.6 443.8,320.7 443.9,389.6 444.1,320.7 444.2,389.6 444.4,320.7 444.5,389.6 444.6,299.3 444.8,437.0 444.9,299.3 445.1,437.0 445.2,299.3 445.4,437.0 445.5,299.3 445.7,437.0 445.8,299.3 446.0,385.8 446.1,319.4 446.3,385.8 446.4,319.4 446.6,385.8 446.7,319.4 446.9,385.8 447.0,319.4 447.2,385.8 447.3,323.7 447.5,388.2 447.6,323.7 447.8,388.2 447.9,323.7 448.1,388.2 448.2,323.7 448.3,388.2 448.5,323.7 448.6,387.5 448.8,324.9 448.9,387.5 449.1,324.9 449.2,387.5 449.4,324.9 449.5,387.5 449.7,324.9 449.8,385.2 450.0,309.9 450.1,385.2 450.3,309.9 450.4,385.2 450.6,309.9 450.7,385.2 450.9,309.9 451.0,385.2 451.2,323.0 451.3,413.3 451.5,323.0 451.6,413.3 451.8,323.0 451.9,413.3 452.0,323.0 452.2,413.3 452.3,323.0 452.5,386.6 452.6,312.3 452.8,386.6 452.9,312.3 453.1,386.6 453.2,312.3 453.4,386.6 453.5,312.3 453.7,386.6 453.8,307.0 454.0,393.6 454.1,307.0 454.3,393.6 454.4,307.0 454.6,393.6 454.7,307.0 454.9,393.6 455.0,325.2 455.2,386.9 455.3,325.2 455.5,386.9 455.6,325.2 455.7,386.9 455.9,325.2 456.0,386.9 456.2,325.2 456.3,387.6 456.5,310.3 456.6,387.6 456.8,310.3 456.9,387.6 457.1,310.3 457.2,387.6 457.4,310.3 457.5,387.6 457.7,321.3 457.8,392.9 458.0,321.3 458.1,392.9 458.3,321.3 458.4,392.9 458.6,321.3 458.7,392.9 458.9,321.3 459.0,385.4 459.1,318.7 459.3,385.4 459.4,318.7 459.6,385.4 459.7,318.7 459.9,385.4 460.0,318.7 460.2,391.8 460.3,305.4 460.5,391.8 460.6,305.4 460.8,391.8 460.9,305.4 461.1,391.8 461.2,305.4 461.4,391.8 461.5,318.4 461.7,386.9 461.8,318.4 462.0,386.9 462.1,318.4 462.3,386.9 462.4,318.4 462.6,386.9 462.7,318.3 462.8,395.9 463.0,308.1 463.1,395.9 463.3,308.1 463.4,395.9 463.6,308.0 463.7,395.9 463.9,308.0 464.0,396.0 464.2,305.4 464.3,386.0 464.5,305.3 464.6,386.0 464.8,305.3 464.9,386.0 465.1,305.3 465.2,386.0 465.4,324.1 465.5,389.2 465.7,324.0 465.8,389.2 466.0,324.0 466.1,389.3 466.3,324.0 466.4,389.3 466.5,324.0 466.7,389.2 466.8,325.3 467.0,389.2 467.1,325.3 467.3,389.2 467.4,325.3 467.6,389.3 467.7,325.3 467.9,389.3 468.0,309.0 468.2,395.7 468.3,309.0 468.5,395.7 468.6,309.0 468.8,395.7 468.9,309.0 469.1,395.7 469.2,308.9 469.4,411.8 469.5,312.9 469.7,411.9 469.8,312.9 470.0,411.9 470.1,312.9 470.2,411.9 470.4,312.8 470.5,394.3 470.7,322.4 470.8,394.3 471.0,322.4 471.1,394.3 471.3,322.4 471.4,394.4 471.6,322.4 471.7,394.4 471.9,324.3 472.0,388.1 472.2,324.3 472.3,388.1 472.5,324.3 472.6,388.1 472.8,324.3 472.9,388.1 473.1,324.2 473.2,403.8 473.4,294.6 473.5,403.8 473.7,294.6 473.8,403.9 473.9,294.5 474.1,403.9 474.2,294.5 474.4,403.9 474.5,318.0 474.7,399.9 474.8,318.0 475.0,399.9 475.1,318.0 475.3,399.9 475.4,318.0 475.6,400.0 475.7,317.4 475.9,385.7 476.0,317.4 476.2,385.7 476.3,317.4 476.5,385.7 476.6,317.4 476.8,385.8 476.9,317.3 477.1,393.8 477.2,319.9 477.4,393.8 477.5,319.8 477.6,393.8 477.8,319.8 477.9,393.8 478.1,319.8 478.2,393.8 478.4,325.8 478.5,391.7 478.7,325.8 478.8,391.7 479.0,325.8 479.1,391.7 479.3,325.7 479.4,391.7 479.6,325.7 479.7,399.1 479.9,322.9 480.0,399.1 480.2,322.9 480.3,399.2 480.5,322.8 480.6,399.2 480.8,322.8 480.9,390.7 481.1,307.6 481.2,390.7 481.3,307.6 481.5,390.7 481.6,307.6 481.8,390.7 481.9,307.6 482.1,390.7 482.2,325.5 482.4,387.8 482.5,325.5 482.7,387.8 482.8,325.5 483.0,387.8 483.1,325.5 483.3,387.8 483.4,325.5 483.6,390.4 483.7,310.0 483.9,390.4 484.0,310.0 484.2,390.4 484.3,309.9 484.5,390.4 484.6,309.9 484.8,390.5 484.9,323.0 485.0,385.8 485.2,323.0 485.3,385.8 485.5,323.0 485.6,385.8 485.8,323.0 485.9,385.8 486.1,319.5 486.2,388.7 486.4,319.4 486.5,388.7 486.7,319.4 486.8,388.7 487.0,319.4 487.1,388.7 487.3,319.4 487.4,390.6 487.6,320.7 487.7,390.6 487.9,320.7 488.0,390.6 488.2,320.7 488.3,390.6 488.5,320.7 488.6,390.6 488.7,272.4 488.9,390.2 489.0,272.4 489.2,390.3 489.3,272.4 489.5,390.3 489.6,272.3 489.8,390.3 489.9,272.3 490.1,393.8 490.2,317.3 490.4,393.8 490.5,317.3 490.7,393.8 490.8,317.3 491.0,393.8 491.1,317.3 491.3,386.3 491.4,316.4 491.6,386.3 491.7,316.4 491.9,386.4 492.0,316.4 492.2,386.4 492.3,316.4 492.4,386.4 492.6,323.6 492.7,393.7 492.9,323.5 493.0,393.7 493.2,323.5 493.3,393.7 493.5,323.5 493.6,393.8 493.8,323.5 493.9,403.0 494.1,317.0 494.2,403.1 494.4,317.0 494.5,403.1 494.7,317.0 494.8,403.1 495.0,317.0 495.1,403.1 495.3,322.6 495.4,399.3 495.6,322.6 495.7,399.3 495.9,322.6 496.0,399.3 496.1,322.6 496.3,399.3 496.4,279.3 496.6,400.0 496.7,279.3 496.9,400.0 497.0,279.2 497.2,400.1 497.3,279.2 497.5,400.1 497.6,279.2 497.8,403.2 497.9,322.1 498.1,403.2 498.2,322.1 498.4,403.2 498.5,322.0 498.7,403.3 498.8,322.0 499.0,403.3 499.1,320.7 499.3,388.6 499.4,320.6 499.6,388.6 499.7,320.6 499.8,388.7 500.0,320.6 500.1,388.7 500.3,320.5 500.4,387.3 500.6,318.8 500.7,387.3 500.9,318.7 501.0,387.4 501.2,318.7 501.3,387.4 501.5,318.7 501.6,398.9 501.8,316.8 501.9,399.0 502.1,316.7 502.2,399.0 502.4,316.7 502.5,399.1 502.7,316.7 502.8,399.1 503.0,316.3 503.1,390.2 503.3,316.3 503.4,390.2 503.5,316.2 503.7,390.3 503.8,316.2 504.0,390.3 504.1,316.2 504.3,394.5 504.4,306.6 504.6,394.5 504.7,306.5 504.9,394.6 505.0,306.5 505.2,394.6 505.3,306.4 505.5,394.6 505.6,319.7 505.8,424.7 505.9,319.7 506.1,424.7 506.2,319.6 506.4,424.8 506.5,319.6 506.7,424.9 506.8,317.5 506.9,392.6 507.1,317.5 507.2,392.7 507.4,317.4 507.5,392.7 507.7,317.4 507.8,392.8 508.0,317.3 508.1,392.1 508.3,307.9 508.4,392.1 508.6,307.9 508.7,392.2 508.9,307.8 509.0,392.2 509.2,307.8 509.3,392.3 509.5,303.6 509.6,391.8 509.8,303.6 509.9,391.8 510.1,303.5 510.2,391.9 510.4,303.5 510.5,391.9 510.6,303.4 510.8,399.0 510.9,318.2 511.1,399.0 511.2,318.2 511.4,399.0 511.5,318.2 511.7,399.1 511.8,318.1 512.0,393.1 512.1,323.7 512.3,393.2 512.4,323.7 512.6,393.2 512.7,323.6 512.9,393.3 513.0,323.6 513.2,393.3 513.3,322.2 513.5,403.2 513.6,322.1 513.8,403.2 513.9,322.1 514.1,403.3 514.2,322.1 514.3,403.3 514.5,322.0 514.6,403.3 514.8,316.9 514.9,403.3 515.1,316.9 515.2,403.4 515.4,316.8 515.5,403.4 515.7,316.8 515.8,403.5 516.0,319.8 516.1,389.5 516.3,319.7 516.4,389.5 516.6,319.7 516.7,389.5 516.9,319.6 517.0,389.6 517.2,315.3 517.3,400.3 517.5,315.3 517.6,400.4 517.8,315.2 517.9,400.4 518.0,315.2 518.2,400.5 518.3,315.2 518.5,402.4 518.6,296.4 518.8,402.5 518.9,296.3 519.1,402.5 519.2,296.3 519.4,402.6 519.5,296.2 519.7,402.6 519.8,320.1 520.0,400.7 520.1,320.1 520.3,400.7 520.4,320.0 520.6,400.7 520.7,320.0 520.9,400.8 521.0,319.9 521.2,412.9 521.3,285.1 521.5,413.0 521.6,285.0 521.7,413.0 521.9,285.0 522.0,413.1 522.2,284.9 522.3,412.2 522.5,309.6 522.6,412.2 522.8,309.6 522.9,412.3 523.1,309.5 523.2,412.4 523.4,309.5 523.5,412.3 523.7,316.7 523.8,399.5 524.0,316.7 524.1,399.5 524.3,316.7 524.4,399.5 524.6,316.7 524.7,399.5 524.9,316.7 525.0,392.1 525.2,315.9 525.3,392.1 525.4,315.9 525.6,392.1 525.7,315.9 525.9,392.1 526.0,315.9 526.2,392.1 526.3,305.0 526.5,401.3 526.6,305.0 526.8,401.3 526.9,305.0 527.1,401.3 527.2,305.0 527.4,401.3 527.5,298.5 527.7,422.1 527.8,298.5 528.0,422.1 528.1,298.6 528.3,422.1 528.4,298.6 528.6,422.0 528.7,298.6 528.9,399.3 529.0,322.4 529.1,399.3 529.3,322.5 529.4,399.3 529.6,322.5 529.7,399.3 529.9,322.5 530.0,399.3 530.2,306.6 530.3,389.3 530.5,306.6 530.6,389.3 530.8,306.6 530.9,389.3 531.1,306.6 531.2,389.3 531.4,306.7 531.5,388.8 531.7,302.6 531.8,388.8 532.0,302.6 532.1,388.8 532.3,302.6 532.4,388.8 532.6,302.7 532.7,400.0 532.8,316.1 533.0,400.0 533.1,316.2 533.3,400.0 533.4,316.2 533.6,399.9 533.7,316.2 533.9,399.9 534.0,307.8 534.2,392.1 534.3,307.8 534.5,392.0 534.6,307.8 534.8,392.0 534.9,307.8 535.1,392.0 535.2,307.8 535.4,400.2 535.5,322.0 535.7,400.2 535.8,322.0 536.0,400.2 536.1,322.0 536.3,400.2 536.4,322.1 536.5,400.2 536.7,307.7 536.8,398.7 537.0,307.7 537.1,398.7 537.3,307.7 537.4,398.7 537.6,307.7 537.7,398.6 537.9,314.5 538.0,393.2 538.2,314.5 538.3,393.1 538.5,314.5 538.6,393.1 538.8,314.6 538.9,393.1 539.1,314.6 539.2,401.3 539.4,305.3 539.5,401.3 539.7,305.3 539.8,401.3 540.0,305.4 540.1,401.3 540.2,305.4 540.4,401.3 540.5,286.0 540.7,404.9 540.8,286.0 541.0,404.9 541.1,286.0 541.3,404.9 541.4,286.0 541.6,404.8 541.7,286.0 541.9,402.3 542.0,317.8 542.2,402.3 542.3,317.8 542.5,402.2 542.6,317.8 542.8,402.2 542.9,317.8 543.1,396.2 543.2,321.1 543.4,396.2 543.5,321.2 543.7,396.2 543.8,321.2 543.9,396.2 544.1,321.2 544.2,396.2 544.4,309.5 544.5,391.6 544.7,309.5 544.8,391.6 545.0,309.5 545.1,391.6 545.3,309.5 545.4,391.5 545.6,309.5 545.7,388.3 545.9,317.7 546.0,388.3 546.2,317.8 546.3,388.2 546.5,317.8 546.6,388.2 546.8,317.8 546.9,388.2 547.1,317.1 547.2,396.5 547.4,317.1 547.5,396.4 547.6,317.2 547.8,396.4 547.9,317.2 548.1,396.4 548.2,319.7 548.4,396.6 548.5,319.7 548.7,396.6 548.8,319.8 549.0,396.5 549.1,319.8 549.3,396.4 549.4,319.9 549.6,391.0 549.7,304.3 549.9,391.0 550.0,304.4 550.2,390.9 550.3,304.4 550.5,390.9 550.6,304.5 550.8,390.8 550.9,323.4 551.1,391.6 551.2,323.5 551.3,391.5 551.5,323.5 551.6,391.5 551.8,323.6 551.9,391.4 552.1,323.6 552.2,387.8 552.4,305.3 552.5,387.8 552.7,305.4 552.8,387.7 553.0,305.5 553.1,387.7 553.3,305.6 553.4,395.6 553.6,303.6 553.7,395.5 553.9,303.7 554.0,395.5 554.2,303.8 554.3,395.4 554.5,303.9 554.6,395.3 554.7,307.0 554.9,394.0 555.0,307.1 555.2,394.0 555.3,307.1 555.5,393.9 555.6,307.2 555.8,393.8 555.9,307.3 556.1,392.0 556.2,317.8 556.4,391.9 556.5,317.9 556.7,391.8 556.8,317.9 557.0,391.8 557.1,318.0 557.3,391.7 557.4,321.1 557.6,407.0 557.7,321.2 557.9,406.9 558.0,321.2 558.2,406.8 558.3,321.3 558.4,406.7 558.6,320.0 558.7,407.5 558.9,320.1 559.0,407.4 559.2,320.1 559.3,407.3 559.5,320.2 559.6,407.2 559.8,320.3 559.9,414.9 560.1,318.3 560.2,414.8 560.4,318.3 560.5,414.7 560.7,318.4 560.8,414.6 561.0,318.4 561.1,414.5 561.3,301.8 561.4,388.4 561.6,301.9 561.7,388.4 561.9,302.0 562.0,388.3 562.1,302.1 562.3,388.3 562.4,302.1 562.6,389.0 562.7,314.3 562.9,388.9 563.0,314.4 563.2,388.9 563.3,314.4 563.5,388.8 563.6,314.5 563.8,390.5 563.9,282.7 564.1,390.4 564.2,282.8 564.4,390.4 564.5,282.9 564.7,390.3 564.8,283.0 565.0,390.2 565.1,295.0 565.3,394.7 565.4,295.1 565.6,394.7 565.7,295.2 565.8,394.6 566.0,295.3 566.1,394.5 566.3,295.4 566.4,388.2 566.6,320.6 566.7,388.1 566.9,320.6 567.0,388.1 567.2,320.7 567.3,388.0 567.5,320.8 567.6,387.9 567.8,321.3 567.9,386.9 568.1,321.4 568.2,386.8 568.4,321.4 568.5,386.8 568.7,321.5 568.8,386.7 569.0,316.1 569.1,404.6 569.3,316.1 569.4,404.6 569.5,316.2 569.7,404.5 569.8,316.3 570.0,404.4 570.1,316.3 570.3,397.8 570.4,319.2 570.6,397.7 570.7,319.3 570.9,397.7 571.0,319.4 571.2,397.6 571.3,319.4 571.5,397.5 571.6,323.0 571.8,387.0 571.9,323.1 572.1,386.9 572.2,323.1 572.4,386.9 572.5,323.2 572.7,386.8 572.8,323.2 573.0,389.2 573.1,325.9 573.2,389.1 573.4,326.0 573.5,389.1 573.7,326.0 573.8,389.1 574.0,326.0 574.1,388.3 574.3,308.8 574.4,388.3 574.6,308.8 574.7,388.2 574.9,308.8 575.0,388.2 575.2,308.9 575.3,388.2 575.5,317.6 575.6,383.9 575.8,317.7 575.9,383.8 576.1,317.7 576.2,383.8 576.4,317.7 576.5,383.8 576.7,317.8 576.8,402.1 576.9,324.8 577.1,402.1 577.2,324.8 577.4,402.0 577.5,324.8 577.7,402.0 577.8,324.9 578.0,401.9 578.1,323.5 578.3,385.3 578.4,323.5 578.6,385.2 578.7,323.6 578.9,385.2 579.0,323.6 579.2,385.2 579.3,317.5 579.5,384.4 579.6,317.6 579.8,384.4 579.9,317.6 580.1,384.3 580.2,317.7 580.4,384.3 580.5,317.7 580.6,401.9 580.8,326.1 580.9,401.8 581.1,326.1 581.2,401.8 581.4,326.1 581.5,401.7 581.7,326.2 581.8,401.7 582.0,326.4 582.1,398.3 582.3,326.4 582.4,398.2 582.6,326.5 582.7,398.2 582.9,326.5 583.0,398.1 583.2,326.5 583.3,386.6 583.5,322.6 583.6,386.5 583.8,322.6 583.9,386.5 584.1,322.7 584.2,386.5 584.3,322.7 584.5,389.9 584.6,325.3 584.8,389.9 584.9,325.3 585.1,389.8 585.2,325.4 585.4,389.8 585.5,325.4 585.7,389.8 585.8,326.1 586.0,386.9 586.1,326.2 586.3,386.9 586.4,326.2 586.6,386.9 586.7,326.2 586.9,386.8 587.0,326.3 587.2,386.2 587.3,328.8 587.5,386.2 587.6,328.8 587.8,386.1 587.9,328.8 588.0,386.1 588.2,328.9 588.3,386.1 588.5,324.2 588.6,387.8 588.8,324.2 588.9,387.8 589.1,324.2 589.2,387.7 589.4,324.3 589.5,387.7 589.7,323.3 589.8,385.2 590.0,323.4 590.1,385.2 590.3,323.4 590.4,385.2 590.6,323.5 590.7,385.1 590.9,323.5 591.0,395.1 591.2,321.7 591.3,395.0 591.5,321.7 591.6,395.0 591.7,321.7 591.9,394.9 592.0,321.8 592.2,394.9 592.3,328.9 592.5,382.8 592.6,329.0 592.8,382.8 592.9,329.0 593.1,382.8 593.2,329.0 593.4,382.7 593.5,329.0 593.7,384.7 593.8,314.0 594.0,384.7 594.1,314.0 594.3,384.7 594.4,314.1 594.6,384.6 594.7,314.1 594.9,387.4 595.0,305.1 595.2,387.3 595.3,305.2 595.4,387.3 595.6,305.2 595.7,387.3 595.9,305.3 596.0,387.2 596.2,327.3 596.3,385.5 596.5,327.3 596.6,385.4 596.8,327.4 596.9,385.4 597.1,327.4 597.2,385.4 597.4,327.4 597.5,384.9 597.7,316.0 597.8,384.8 598.0,316.0 598.1,384.8 598.3,316.0 598.4,384.8 598.6,316.1 598.7,384.7 598.9,326.0 599.0,388.6 599.1,326.1 599.3,388.5 599.4,326.1 599.6,388.5 599.7,326.1 599.9,388.5 600.0,316.4 600.2,391.0 600.3,316.5 600.5,390.9 600.6,316.5 600.8,390.9 600.9,316.5 601.1,390.8 601.2,316.6 601.4,387.5 601.5,319.1 601.7,387.4 601.8,319.1 602.0,387.4 602.1,319.2 602.3,387.4 602.4,319.2 602.5,387.3 602.7,326.2 602.8,389.6 603.0,326.3 603.1,389.5 603.3,326.3 603.4,389.5 603.6,326.3 603.7,389.5 603.9,326.3 604.0,400.5 604.2,320.3 604.3,400.4 604.5,320.4 604.6,400.4 604.8,320.4 604.9,400.3 605.1,320.4 605.2,387.1 605.4,316.2 605.5,387.1 605.7,316.3 605.8,387.0 606.0,316.3 606.1,387.0 606.2,316.4 606.4,387.0 606.5,322.0 606.7,387.8 606.8,322.1 607.0,387.8 607.1,322.1 607.3,387.7 607.4,322.1 607.6,387.7 607.7,322.2 607.9,383.9 608.0,311.4 608.2,383.8 608.3,311.4 608.5,383.8 608.6,311.5 608.8,383.8 608.9,311.5 609.1,383.7 609.2,329.3 609.4,381.0 609.5,329.3 609.7,381.0 609.8,329.4 609.9,380.9 610.1,329.4 610.2,380.9 610.4,326.8 610.5,381.5 610.7,326.9 610.8,381.4 611.0,326.9 611.1,381.4 611.3,327.0 611.4,381.4 611.6,327.0 611.7,399.1 611.9,311.1 612.0,399.1 612.2,311.1 612.3,399.0 612.5,311.2 612.6,398.9 612.8,311.3 612.9,398.9 613.1,328.1 613.2,380.1 613.4,328.2 613.5,380.1 613.6,328.2 613.8,380.0 613.9,328.3 614.1,380.0 614.2,328.3 614.4,381.7 614.5,323.4 614.7,381.6 614.8,323.4 615.0,381.6 615.1,323.5 615.3,381.6 615.4,323.5 615.6,393.7 615.7,331.6 615.9,393.6 616.0,331.7 616.2,393.5 616.3,331.7 616.5,393.5 616.6,331.8 616.8,393.4 616.9,323.7 617.1,379.8 617.2,323.8 617.3,379.7 617.5,323.8 617.6,379.7 617.8,323.9 617.9,379.6 618.1,324.0 618.2,381.2 618.4,326.8 618.5,381.2 618.7,326.8 618.8,381.1 619.0,326.9 619.1,381.1 619.3,326.9 619.4,381.0 619.6,320.9 619.7,387.7 619.9,320.9 620.0,387.6 620.2,321.0 620.3,387.6 620.5,321.0 620.6,387.5 620.8,322.0 620.9,393.8 621.0,322.1 621.2,393.7 621.3,322.2 621.5,393.7 621.6,322.2 621.8,393.6 621.9,322.3 622.1,381.0 622.2,322.4 622.4,381.0 622.5,322.5 622.7,380.9 622.8,322.5 623.0,380.9 623.1,322.6 623.3,380.9 623.4,330.6 623.6,390.5 623.7,330.6 623.9,390.4 624.0,330.7 624.2,390.4 624.3,330.7 624.5,390.3 624.6,330.8 624.7,380.4 624.9,303.7 625.0,380.3 625.2,303.8 625.3,380.3 625.5,303.9 625.6,380.2 625.8,304.0 625.9,379.3 626.1,313.3 626.2,379.3 626.4,313.3 626.5,379.3 626.7,313.4 626.8,379.2 627.0,313.5 627.1,379.2 627.3,318.1 627.4,386.4 627.6,318.1 627.7,386.4 627.9,318.2 628.0,386.3 628.2,318.3 628.3,386.3 628.4,318.3 628.6,389.9 628.7,327.0 628.9,389.9 629.0,327.1 629.2,389.8 629.3,327.1 629.5,389.7 629.6,327.2 629.8,389.7 629.9,325.0 630.1,380.4 630.2,325.1 630.4,380.3 630.5,325.1 630.7,380.3 630.8,325.2 631.0,380.2 631.1,326.9 631.3,381.5 631.4,327.0 631.6,381.5 631.7,327.0 631.9,381.4 632.0,327.1 632.1,381.4 632.3,327.1 632.4,385.7 632.6,331.0 632.7,385.6 632.9,331.0 633.0,385.6 633.2,331.0 633.3,385.5 633.5,331.1 633.6,385.5 633.8,329.1 633.9,382.7 634.1,329.1 634.2,382.7 634.4,329.2 634.5,382.7 634.7,329.2 634.8,382.6 635.0,329.3 635.1,377.4 635.3,330.3 635.4,377.3 635.6,330.4 635.7,377.3 635.8,330.4 636.0,377.3 636.1,330.5 636.3,391.1 636.4,332.3 636.6,391.0 636.7,332.3 636.9,390.9 637.0,332.3 637.2,390.9 637.3,332.4 637.5,390.8 637.6,332.7 637.8,377.3 637.9,332.8 638.1,377.2 638.2,332.8 638.4,377.2 638.5,332.9 638.7,377.1 638.8,332.9 639.0,376.7 639.1,327.3 639.3,376.6 639.4,327.4 639.5,376.6 639.7,327.4 639.8,376.6 640.0,327.5 640.1,376.5 640.3,334.2 640.4,380.7 640.6,334.2 640.7,380.6 640.9,334.3 641.0,380.6 641.2,334.3 641.3,380.5 641.5,328.3 641.6,378.5 641.8,328.3 641.9,378.4 642.1,328.4 642.2,378.4 642.4,328.4 642.5,378.3 642.7,328.5 642.8,376.8 643.0,308.7 643.1,376.7 643.2,308.8 643.4,376.7 643.5,308.9 643.7,376.6 643.8,309.0 644.0,376.6 644.1,331.2 644.3,380.7 644.4,331.3 644.6,380.6 644.7,331.3 644.9,380.6 645.0,331.4 645.2,380.5 645.3,331.4 645.5,378.7 645.6,335.4 645.8,378.7 645.9,335.5 646.1,378.6 646.2,335.5 646.4,378.6 646.5,335.5 646.7,386.9 646.8,329.1 646.9,386.8 647.1,329.1 647.2,386.8 647.4,329.2 647.5,386.7 647.7,329.2 647.8,386.7 648.0,329.5 648.1,376.2 648.3,329.5 648.4,376.2 648.6,329.5 648.7,376.2 648.9,329.5 649.0,376.2 649.2,329.6 649.3,385.2 649.5,325.2 649.6,385.2 649.8,325.2 649.9,385.2 650.1,325.2 650.2,385.2 650.3,325.2 650.5,385.2 650.6,330.6 650.8,376.4 650.9,330.7 651.1,376.4 651.2,330.7 651.4,376.4 651.5,330.7 651.7,376.4 651.8,321.5 652.0,377.6 652.1,321.5 652.3,377.6 652.4,321.5 652.6,377.6 652.7,321.5 652.9,377.6 653.0,321.5 653.2,381.5 653.3,328.2 653.5,381.5 653.6,328.2 653.8,381.5 653.9,328.2 654.0,381.4 654.2,328.2 654.3,381.4 654.5,313.6 654.6,384.3 654.8,313.6 654.9,384.2 655.1,313.6 655.2,384.2 655.4,313.6 655.5,384.2 655.7,313.7 655.8,380.0 656.0,329.6 656.1,380.0 656.3,329.6 656.4,380.0 656.6,329.6 656.7,380.0 656.9,329.6 657.0,380.2 657.2,332.4 657.3,380.2 657.5,332.4 657.6,380.2 657.7,332.4 657.9,380.2 658.0,332.4 658.2,380.2 658.3,332.5 658.5,383.0 658.6,332.5 658.8,383.0 658.9,332.5 659.1,383.0 659.2,332.5 659.4,383.0 659.5,332.5 659.7,381.1 659.8,327.8 660.0,381.1 660.1,327.8 660.3,381.1 660.4,327.8 660.6,381.1 660.7,327.8 660.9,381.1 661.0,327.3 661.2,381.5 661.3,327.3 661.4,381.5 661.6,327.3 661.7,381.4 661.9,327.3 662.0,381.4 662.2,333.9 662.3,386.3 662.5,333.9 662.6,386.3 662.8,333.9 662.9,386.3 663.1,333.9 663.2,386.3 663.4,333.9 663.5,376.1 663.7,332.8 663.8,376.1 664.0,332.8 664.1,376.1 664.3,332.8 664.4,376.1 664.6,332.8 664.7,376.1 664.9,334.5 665.0,377.8 665.1,334.5 665.3,377.8 665.4,334.6 665.6,377.7 665.7,334.6 665.9,377.7 666.0,334.6 666.2,375.1 666.3,335.1 666.5,375.1 666.6,335.1 666.8,375.0 666.9,335.1 667.1,375.0 667.2,335.1 667.4,377.2 667.5,319.5 667.7,377.2 667.8,319.5 668.0,377.2 668.1,319.5 668.3,377.2 668.4,319.5 668.6,377.2 668.7,323.6 668.8,377.7 669.0,323.6 669.1,377.7 669.3,323.6 669.4,377.7 669.6,323.6 669.7,377.7 669.9,323.7 670.0,377.3 670.2,327.2 670.3,377.3 670.5,327.2 670.6,377.3 670.8,327.3 670.9,377.3 671.1,327.3 671.2,377.3 671.4,336.4 671.5,375.2 671.7,336.4 671.8,375.2 672.0,336.4 672.1,375.2 672.3,336.4 672.4,375.2" fill="none" stroke="#1f77b4" stroke-width="1.70" stroke-linejoin="round" stroke-linecap="butt" stroke-linejoin="miter"/>
</g>
<g clip-path="url(#c3)">
<polyline points="51.3,522.8 53.7,522.3 68.6,522.3 71.1,524.8 74.9,521.6 78.1,524.8 82.9,519.4 87.4,524.8 90.4,519.4 92.9,522.3 101.1,522.3 104.1,525.3 113.6,525.3 116.8,521.8 120.6,525.3 123.6,522.3 146.0,522.3 149.8,518.9 153.5,524.8 157.3,522.3 159.8,524.8 164.3,518.9 167.8,524.8 171.0,525.3 174.7,525.3 177.2,522.3 179.7,524.8 182.2,521.8 184.7,525.3 189.7,525.3 192.7,521.1 194.7,509.1 197.2,508.6 202.2,494.9 207.9,477.9 211.4,475.4 217.2,465.4 222.2,443.7 224.7,445.7 228.9,436.2 232.2,427.0 234.7,436.2 237.2,433.7 239.6,439.5 243.4,439.5 249.6,445.7 252.9,443.0 258.9,449.5 262.9,440.5 265.4,442.5 269.6,436.7 274.6,445.7 277.8,440.0 281.6,430.7 285.8,439.5 290.3,437.0 294.1,449.5 299.6,424.5 303.3,430.0 307.0,427.5 310.8,432.5 314.0,427.5 317.0,436.2 320.8,437.0 323.8,442.5 327.0,440.0 332.0,449.2 334.5,446.2 342.0,457.8 345.0,464.9 348.2,466.7 353.2,472.9 355.7,472.9 358.2,479.2 361.5,479.2 364.5,482.4 368.2,479.9 372.5,488.6 375.7,486.1 378.9,489.9 381.2,495.4 383.9,489.4 386.4,492.4 388.7,489.9 391.4,492.4 398.2,492.4 401.9,495.6 405.7,498.6 408.7,492.4 410.6,492.4 413.9,495.6 420.6,495.6 424.4,490.4 428.1,487.4 430.6,479.9 436.4,479.9 440.6,472.9 443.1,479.2 445.6,466.2 448.1,462.9 450.6,469.4 453.6,464.4 458.1,466.2 461.3,462.9 463.6,456.9 466.1,462.4 468.8,459.9 478.0,459.4 481.8,456.2 483.8,456.2 486.0,452.9 488.8,456.7 491.0,453.2 493.5,459.4 498.8,453.2 501.8,456.2 505.5,453.2 509.8,453.2 513.0,456.2 516.0,456.2 518.2,447.0 520.7,452.5 523.2,447.0 525.7,452.5 530.2,452.9 535.2,459.2 538.2,459.4 540.2,462.4 542.7,459.4 546.5,468.7 551.4,478.7 557.7,479.9 565.2,488.6 567.7,486.1 570.2,489.4 572.7,489.9 577.2,498.6 580.2,495.6 588.9,495.6 591.4,498.6 593.9,495.6 595.6,498.1 598.1,496.1 600.9,501.9 605.1,502.4 607.6,505.4 612.6,505.4 615.1,508.6 621.3,508.6 625.1,511.1 628.8,515.6 632.6,511.9 637.6,515.4 641.3,515.4 642.6,512.4 645.1,515.4 648.8,515.4 651.8,518.6 655.0,516.1 657.5,519.1 665.0,519.1 666.8,516.1 672.7,519.1" fill="none" stroke="#1f77b4" stroke-width="2.00" stroke-linejoin="round" stroke-linecap="butt"/>
<polyline points="51.3,505.4 53.7,503.6 57.9,500.4 61.2,502.9 67.4,502.9 70.6,500.4 76.1,506.1 79.9,503.1 82.9,509.1 86.6,506.1 91.1,509.1 94.9,506.6 99.9,515.6 102.3,512.9 106.1,515.9 119.8,515.9 122.8,518.6 126.1,515.9 132.3,515.9 136.0,519.4 141.0,519.9 144.8,536.1 147.8,522.3 151.0,522.8 154.8,526.1 161.0,526.1 163.0,523.6 165.3,531.8 167.3,526.8 171.0,529.8 177.2,531.1 179.7,532.8 181.7,526.8 184.0,532.8 191.0,532.8 192.7,524.8 194.7,509.1 196.7,526.1 199.7,526.1 202.2,522.3 204.7,522.8 207.2,519.9 212.2,526.1 216.4,526.1 219.7,532.3 225.4,516.1 232.2,516.1 237.2,509.4 241.6,509.4 244.6,506.6 250.9,512.9 254.6,509.9 258.4,512.4 261.4,509.9 269.6,519.4 271.6,516.9 273.8,519.4 277.1,513.6 280.8,519.4 285.3,516.1 289.6,516.1 292.1,519.1 294.6,516.6 296.6,519.1 299.6,513.6 302.0,519.1 307.0,522.8 310.8,519.4 313.8,522.3 319.5,516.6 323.3,519.9 327.0,522.3 333.3,522.3 337.0,519.9 339.5,522.3 342.0,522.6 353.7,522.8 356.2,526.1 358.7,523.1 361.5,526.1 366.2,519.9 368.7,519.9 373.7,513.6 376.2,516.1 379.4,513.1 383.2,516.1 386.2,513.1 388.2,516.1 391.2,506.6 395.7,506.6 401.2,499.9 403.7,499.9 406.2,502.9 408.1,494.9 410.6,490.6 413.1,493.6 420.6,493.6 423.6,490.4 426.9,489.4 431.1,480.7 435.6,479.9 439.4,472.9 443.1,463.7 445.6,466.9 453.1,466.9 456.1,464.4 458.1,466.9 460.6,464.4 463.1,472.9 466.1,466.9 473.1,466.9 476.8,469.9 479.3,466.9 482.3,469.9 485.0,466.9 488.0,469.9 493.0,466.7 495.0,469.4 498.0,466.7 501.8,469.9 505.5,472.9 509.8,472.9 513.0,469.9 518.2,466.9 521.5,469.9 527.7,469.9 530.2,472.9 533.2,466.9 535.2,469.4 538.2,466.7 540.2,469.4 542.7,466.7 545.7,469.9 555.2,469.9 558.4,472.9 560.7,473.2 567.7,482.4 570.2,479.9 574.7,479.9 577.7,492.4 580.2,483.2 587.6,492.4 591.4,495.6 595.1,492.9 597.6,492.9 602.6,499.4 610.1,499.4 613.1,506.6 615.6,503.6 618.8,506.1 622.1,503.1 625.1,506.1 627.6,506.6 630.1,512.9 633.1,509.4 636.3,509.9 640.1,513.6 646.3,513.6 648.8,516.1 654.3,509.9 657.0,519.1 664.5,519.1 667.0,509.9 669.5,516.1 672.7,516.1" fill="none" stroke="#ff7f0e" stroke-width="2.00" stroke-linejoin="round" stroke-linecap="butt"/>
</g>
<g clip-path="url(#c4)">
<polyline points="51.0,638.0 51.2,676.2 51.3,638.0 51.5,676.2 51.7,638.0 51.9,676.2 52.0,638.0 52.2,676.2 52.4,637.9 52.6,680.3 52.7,632.8 52.9,680.3 53.1,632.8 53.2,680.3 53.4,632.8 53.6,680.3 53.8,632.8 53.9,680.3 54.1,633.3 54.3,678.6 54.5,633.3 54.6,678.6 54.8,633.3 55.0,678.6 55.1,633.3 55.3,678.6 55.5,636.1 55.7,682.8 55.8,636.0 56.0,682.8 56.2,636.0 56.4,682.8 56.5,636.0 56.7,682.8 56.9,636.0 57.0,676.7 57.2,636.8 57.4,676.7 57.6,636.8 57.7,676.7 57.9,636.8 58.1,676.7 58.3,636.8 58.4,676.2 58.6,635.9 58.8,676.2 58.9,635.9 59.1,676.2 59.3,635.9 59.5,676.2 59.6,635.9 59.8,676.2 60.0,635.8 60.2,679.9 60.3,635.8 60.5,679.9 60.7,635.7 60.8,679.9 61.0,635.7 61.2,679.9 61.4,637.7 61.5,683.3 61.7,637.7 61.9,683.3 62.1,637.7 62.2,683.4 62.4,637.7 62.6,683.4 62.7,637.7 62.9,680.2 63.1,635.0 63.3,680.3 63.4,635.0 63.6,680.3 63.8,635.0 63.9,680.3 64.1,635.0 64.3,680.3 64.5,630.9 64.6,684.8 64.8,630.8 65.0,684.8 65.2,630.8 65.3,684.8 65.5,630.8 65.7,684.8 65.8,631.9 66.0,681.3 66.2,631.9 66.4,681.4 66.5,631.9 66.7,681.4 66.9,631.9 67.1,681.4 67.2,631.9 67.4,678.6 67.6,637.4 67.7,678.6 67.9,637.4 68.1,678.6 68.3,637.4 68.4,678.6 68.6,637.4 68.8,676.8 69.0,635.2 69.1,676.8 69.3,635.2 69.5,676.8 69.6,635.2 69.8,676.9 70.0,635.2 70.2,676.9 70.3,637.2 70.5,690.3 70.7,637.2 70.9,690.3 71.0,637.2 71.2,690.4 71.4,637.2 71.5,690.4 71.7,636.3 71.9,677.8 72.1,636.3 72.2,677.8 72.4,636.3 72.6,677.8 72.8,636.3 72.9,677.8 73.1,636.3 73.3,677.2 73.4,636.0 73.6,677.2 73.8,636.0 74.0,677.3 74.1,636.0 74.3,677.3 74.5,636.0 74.7,677.3 74.8,634.7 75.0,676.1 75.2,634.7 75.3,676.1 75.5,634.7 75.7,676.1 75.9,634.7 76.0,676.1 76.2,637.0 76.4,680.8 76.6,637.0 76.7,680.8 76.9,637.0 77.1,680.8 77.2,637.1 77.4,680.8 77.6,637.1 77.8,677.5 77.9,637.3 78.1,677.5 78.3,637.3 78.5,677.5 78.6,637.3 78.8,677.5 79.0,637.3 79.1,676.0 79.3,635.3 79.5,676.0 79.7,635.3 79.8,676.1 80.0,635.3 80.2,676.1 80.4,635.3 80.5,676.1 80.7,634.6 80.9,677.0 81.0,634.6 81.2,677.1 81.4,634.6 81.6,677.1 81.7,634.6 81.9,677.1 82.1,627.3 82.3,677.2 82.4,627.3 82.6,677.2 82.8,627.3 82.9,677.2 83.1,627.3 83.3,677.2 83.5,627.3 83.6,679.8 83.8,636.5 84.0,679.8 84.2,636.5 84.3,679.8 84.5,636.5 84.7,679.8 84.8,636.5 85.0,679.8 85.2,635.5 85.4,680.9 85.5,635.5 85.7,680.9 85.9,635.5 86.0,680.9 86.2,635.5 86.4,681.0 86.6,630.6 86.7,679.7 86.9,630.6 87.1,679.7 87.3,630.7 87.4,679.8 87.6,630.8 87.8,679.8 87.9,630.9 88.1,679.5 88.3,635.2 88.5,679.5 88.6,635.3 88.8,679.5 89.0,635.4 89.2,679.5 89.3,635.5 89.5,682.1 89.7,636.9 89.8,682.1 90.0,637.0 90.2,682.2 90.4,637.1 90.5,682.2 90.7,637.2 90.9,682.2 91.1,634.5 91.2,677.8 91.4,634.6 91.6,677.8 91.7,634.6 91.9,677.9 92.1,634.7 92.3,677.9 92.4,633.7 92.6,679.5 92.8,633.7 93.0,679.5 93.1,633.8 93.3,679.6 93.5,633.9 93.6,679.6 93.8,634.0 94.0,680.5 94.2,639.7 94.3,680.5 94.5,639.7 94.7,680.5 94.9,639.8 95.0,680.5 95.2,639.9 95.4,680.6 95.5,636.7 95.7,679.2 95.9,636.8 96.1,679.2 96.2,636.9 96.4,679.2 96.6,637.0 96.8,679.3 96.9,639.6 97.1,684.8 97.3,639.7 97.4,684.8 97.6,639.7 97.8,684.8 98.0,639.8 98.1,684.9 98.3,639.9 98.5,681.1 98.7,638.1 98.8,681.1 99.0,638.1 99.2,681.1 99.3,638.2 99.5,681.2 99.7,638.3 99.9,677.6 100.0,639.8 100.2,677.6 100.4,639.8 100.6,677.7 100.7,639.9 100.9,677.7 101.1,640.0 101.2,677.7 101.4,635.3 101.6,679.7 101.8,635.4 101.9,679.7 102.1,635.5 102.3,679.8 102.5,635.5 102.6,679.8 102.8,640.7 103.0,682.7 103.1,640.8 103.3,682.7 103.5,640.9 103.7,682.7 103.8,641.0 104.0,682.8 104.2,641.1 104.4,685.0 104.5,637.0 104.7,685.1 104.9,637.1 105.0,685.1 105.2,637.2 105.4,685.1 105.6,637.2 105.7,685.1 105.9,638.7 106.1,680.9 106.3,638.8 106.4,680.9 106.6,638.9 106.8,680.9 106.9,639.0 107.1,681.0 107.3,642.2 107.5,678.8 107.6,642.3 107.8,678.8 108.0,642.3 108.2,678.8 108.3,642.4 108.5,678.9 108.7,642.5 108.8,680.3 109.0,640.4 109.2,680.3 109.4,640.4 109.5,680.4 109.7,640.5 109.9,680.4 110.0,640.6 110.2,685.2 110.4,642.4 110.6,685.2 110.7,642.5 110.9,685.2 111.1,642.5 111.3,685.2 111.4,642.6 111.6,685.2 111.8,643.0 111.9,681.4 112.1,643.1 112.3,681.4 112.5,643.2 112.6,681.4 112.8,643.2 113.0,681.5 113.2,640.2 113.3,686.1 113.5,640.2 113.7,686.2 113.8,640.3 114.0,686.2 114.2,640.3 114.4,686.2 114.5,640.4 114.7,681.2 114.9,639.8 115.1,681.2 115.2,639.9 115.4,681.3 115.6,639.9 115.7,681.3 115.9,640.0 116.1,681.3 116.3,642.3 116.4,681.9 116.6,642.4 116.8,681.9 117.0,642.4 117.1,681.9 117.3,642.5 117.5,681.9 117.6,637.4 117.8,679.3 118.0,637.5 118.2,679.3 118.3,637.6 118.5,679.3 118.7,637.6 118.9,679.3 119.0,637.7 119.2,679.6 119.4,639.0 119.5,679.7 119.7,639.1 119.9,679.7 120.1,639.1 120.2,679.7 120.4,639.2 120.6,683.7 120.8,645.0 120.9,683.8 121.1,645.1 121.3,683.8 121.4,645.1 121.6,683.8 121.8,645.2 122.0,683.8 122.1,643.8 122.3,682.2 122.5,643.9 122.7,682.2 122.8,643.9 123.0,682.2 123.2,644.0 123.3,682.3 123.5,643.3 123.7,679.7 123.9,643.4 124.0,679.7 124.2,643.4 124.4,679.8 124.6,643.5 124.7,679.8 124.9,643.6 125.1,681.0 125.2,641.4 125.4,681.1 125.6,641.6 125.8,681.2 125.9,641.7 126.1,681.2 126.3,641.9 126.5,681.3 126.6,644.0 126.8,684.5 127.0,644.2 127.1,684.6 127.3,644.3 127.5,684.7 127.7,644.5 127.8,684.8 128.0,645.3 128.2,682.7 128.4,645.4 128.5,682.8 128.7,645.6 128.9,682.9 129.0,645.7 129.2,683.0 129.4,645.9 129.6,683.4 129.7,646.8 129.9,683.5 130.1,646.9 130.3,683.5 130.4,647.1 130.6,683.6 130.8,647.2 130.9,684.8 131.1,642.6 131.3,684.9 131.5,642.7 131.6,685.0 131.8,642.9 132.0,685.1 132.1,643.1 132.3,685.2 132.5,641.2 132.7,683.7 132.8,641.4 133.0,683.7 133.2,641.6 133.4,683.8 133.5,641.7 133.7,683.9 133.9,642.5 134.0,685.7 134.2,642.7 134.4,685.8 134.6,642.8 134.7,685.8 134.9,643.0 135.1,685.9 135.3,643.2 135.4,683.1 135.6,648.7 135.8,683.2 135.9,648.8 136.1,683.3 136.3,649.0 136.5,683.4 136.6,649.1 136.8,683.5 137.0,645.7 137.2,685.7 137.3,645.9 137.5,685.8 137.7,646.1 137.8,685.8 138.0,646.3 138.2,685.9 138.4,650.6 138.5,685.1 138.7,650.8 138.9,685.2 139.1,650.9 139.2,685.3 139.4,651.1 139.6,685.4 139.7,651.2 139.9,683.1 140.1,651.6 140.3,683.2 140.4,651.8 140.6,683.3 140.8,651.9 141.0,683.4 141.1,652.1 141.3,689.9 141.5,650.7 141.6,690.0 141.8,650.9 142.0,690.1 142.2,651.0 142.3,690.2 142.5,651.2 142.7,690.2 142.9,652.3 143.0,688.5 143.2,652.4 143.4,688.6 143.5,652.6 143.7,688.7 143.9,652.7 144.1,688.8 144.2,654.0 144.4,690.8 144.6,654.2 144.8,690.9 144.9,654.3 145.1,691.0 145.3,654.5 145.4,691.0 145.6,654.6 145.8,687.4 146.0,653.9 146.1,687.5 146.3,654.0 146.5,687.6 146.7,654.2 146.8,687.6 147.0,654.3 147.2,687.7 147.3,653.1 147.5,685.3 147.7,653.3 147.9,685.4 148.0,653.4 148.2,685.5 148.4,653.6 148.6,685.6 148.7,654.4 148.9,693.9 149.1,654.6 149.2,693.9 149.4,654.7 149.6,694.0 149.8,654.9 149.9,694.1 150.1,655.0 150.3,687.2 150.5,656.3 150.6,687.3 150.8,656.4 151.0,687.3 151.1,656.5 151.3,687.4 151.5,656.6 151.7,686.1 151.8,655.7 152.0,686.1 152.2,655.8 152.4,686.2 152.5,655.8 152.7,686.3 152.9,655.9 153.0,686.3 153.2,653.1 153.4,690.4 153.6,653.2 153.7,690.5 153.9,653.3 154.1,690.5 154.3,653.4 154.4,690.6 154.6,654.8 154.8,687.8 154.9,654.9 155.1,687.8 155.3,655.0 155.5,687.9 155.6,655.1 155.8,687.9 156.0,655.1 156.1,688.7 156.3,656.4 156.5,688.8 156.7,656.5 156.8,688.8 157.0,656.6 157.2,688.9 157.4,656.6 157.5,688.9 157.7,657.7 157.9,690.7 158.0,657.8 158.2,690.8 158.4,657.9 158.6,690.8 158.7,658.0 158.9,690.9 159.1,656.9 159.3,691.2 159.4,657.0 159.6,691.2 159.8,657.1 159.9,691.3 160.1,657.2 160.3,691.3 160.5,657.2 160.6,688.9 160.8,655.8 161.0,689.0 161.2,655.9 161.3,689.0 161.5,656.0 161.7,689.1 161.8,656.0 162.0,692.1 162.2,654.8 162.4,692.1 162.5,654.9 162.7,692.2 162.9,655.0 163.1,692.2 163.2,655.1 163.4,692.3 163.6,655.7 163.7,691.6 163.9,655.8 164.1,691.7 164.3,655.8 164.4,691.7 164.6,655.9 164.8,691.8 165.0,657.6 165.1,694.3 165.3,657.7 165.5,694.4 165.6,657.8 165.8,694.4 166.0,657.8 166.2,694.5 166.3,657.9 166.5,690.9 166.7,659.0 166.9,691.0 167.0,659.0 167.2,691.0 167.4,659.1 167.5,691.1 167.7,659.2 167.9,691.1 168.1,660.1 168.2,694.2 168.4,660.2 168.6,694.3 168.8,660.3 168.9,694.3 169.1,660.3 169.3,694.4 169.4,658.3 169.6,695.3 169.8,658.4 170.0,695.3 170.1,658.5 170.3,695.4 170.5,658.5 170.7,695.4 170.8,658.6 171.0,688.9 171.2,658.1 171.3,688.9 171.5,658.2 171.7,688.9 171.9,658.3 172.0,689.0 172.2,658.3 172.4,689.3 172.6,658.4 172.7,689.4 172.9,658.4 173.1,689.4 173.2,658.5 173.4,689.4 173.6,658.6 173.8,689.4 173.9,660.2 174.1,692.2 174.3,660.3 174.5,692.2 174.6,660.4 174.8,692.3 175.0,660.4 175.1,692.3 175.3,656.6 175.5,689.1 175.7,656.7 175.8,689.1 176.0,656.7 176.2,689.1 176.4,656.8 176.5,689.2 176.7,656.9 176.9,693.3 177.0,658.5 177.2,693.3 177.4,658.6 177.6,693.3 177.7,658.6 177.9,693.4 178.1,658.7 178.2,693.4 178.4,661.7 178.6,693.1 178.8,661.8 178.9,693.2 179.1,661.8 179.3,693.2 179.5,661.9 179.6,693.2 179.8,659.7 180.0,692.4 180.1,659.8 180.3,692.5 180.5,659.8 180.7,692.5 180.8,659.9 181.0,692.5 181.2,660.0 181.4,690.4 181.5,662.4 181.7,690.4 181.9,662.5 182.0,690.4 182.2,662.5 182.4,690.4 182.6,662.6 182.7,690.8 182.9,659.8 183.1,690.8 183.3,659.9 183.4,690.8 183.6,659.9 183.8,690.8 183.9,660.0 184.1,690.9 184.3,658.9 184.5,692.4 184.6,659.0 184.8,692.4 185.0,659.1 185.2,692.4 185.3,659.1 185.5,692.4 185.7,659.7 185.8,697.3 186.0,659.8 186.2,697.4 186.4,659.9 186.5,697.4 186.7,659.9 186.9,697.4 187.1,660.0 187.2,699.7 187.4,662.7 187.6,699.7 187.7,662.7 187.9,699.7 188.1,662.8 188.3,699.8 188.4,662.9 188.6,699.8 188.8,662.6 189.0,692.6 189.1,662.5 189.3,692.6 189.5,662.5 189.6,692.6 189.8,662.5 190.0,692.7 190.2,660.8 190.3,691.8 190.5,660.8 190.7,691.8 190.9,660.8 191.0,691.7 191.2,659.9 191.4,690.5 191.5,658.5 191.7,688.3 191.9,659.5 192.1,687.2 192.2,658.3 192.4,686.0 192.6,656.8 192.8,684.8 192.9,655.4 193.1,683.5 193.3,653.1 193.4,682.3 193.6,651.7 193.8,681.1 194.0,650.3 194.1,679.9 194.3,648.8 194.5,678.7 194.7,648.8 194.8,681.2 195.0,647.4 195.2,679.9 195.3,646.0 195.5,678.6 195.7,644.6 195.9,677.3 196.0,644.1 196.2,677.7 196.4,641.7 196.6,677.0 196.7,639.2 196.9,676.3 197.1,636.8 197.2,675.5 197.4,634.3 197.6,669.4 197.8,631.0 197.9,668.5 198.1,628.6 198.3,667.5 198.5,626.1 198.6,666.5 198.8,623.6 199.0,665.6 199.1,618.3 199.3,663.7 199.5,615.5 199.7,662.7 199.8,612.6 200.0,661.7 200.2,609.7 200.4,660.7 200.5,602.1 200.7,660.7 200.9,599.1 201.0,659.7 201.2,596.1 201.4,658.7 201.6,593.1 201.7,657.8 201.9,590.0 202.1,655.6 202.2,585.0 202.4,653.8 202.6,582.5 202.8,652.1 202.9,580.1 203.1,650.4 203.3,577.6 203.5,647.8 203.6,588.0 203.8,646.0 204.0,585.7 204.1,644.3 204.3,583.4 204.5,642.5 204.7,581.1 204.8,640.8 205.0,577.9 205.2,643.5 205.4,576.7 205.5,641.6 205.7,575.4 205.9,639.6 206.0,574.2 206.2,637.7 206.4,565.5 206.6,634.3 206.7,564.4 206.9,632.4 207.1,563.4 207.3,630.4 207.4,562.3 207.6,628.5 207.8,561.3 207.9,623.4 208.1,565.6 208.3,622.5 208.5,565.1 208.6,621.9 208.8,564.5 209.0,621.2 209.2,564.0 209.3,620.6 209.5,549.0 209.7,619.6 209.8,548.9 210.0,619.0 210.2,548.7 210.4,618.5 210.5,548.5 210.7,618.0 210.9,563.9 211.1,617.5 211.2,563.7 211.4,617.0 211.6,563.4 211.7,616.5 211.9,563.2 212.1,616.2 212.3,563.1 212.4,627.8 212.6,556.5 212.8,628.2 213.0,556.7 213.1,628.7 213.3,556.8 213.5,629.1 213.6,557.0 213.8,618.4 214.0,557.8 214.2,618.7 214.3,558.1 214.5,619.0 214.7,558.3 214.9,619.3 215.0,558.6 215.2,619.6 215.4,563.1 215.5,619.2 215.7,563.3 215.9,619.5 216.1,563.6 216.2,619.9 216.4,563.9 216.6,620.2 216.8,555.8 216.9,625.2 217.1,556.0 217.3,625.5 217.4,556.3 217.6,625.8 217.8,556.5 218.0,626.1 218.1,556.7 218.3,623.0 218.5,568.1 218.7,623.3 218.8,568.4 219.0,623.6 219.2,568.6 219.3,624.0 219.5,568.9 219.7,624.3 219.9,567.0 220.0,625.5 220.2,567.3 220.4,625.8 220.6,567.6 220.7,626.1 220.9,567.8 221.1,626.4 221.2,554.0 221.4,627.0 221.6,554.6 221.8,627.3 221.9,555.3 222.1,627.7 222.3,555.9 222.5,628.0 222.6,556.5 222.8,626.3 223.0,566.4 223.1,626.6 223.3,567.0 223.5,627.0 223.7,567.6 223.8,627.3 224.0,568.2 224.2,628.9 224.3,562.2 224.5,629.3 224.7,562.8 224.9,629.6 225.0,563.4 225.2,630.0 225.4,564.1 225.6,630.3 225.7,573.7 225.9,628.9 226.1,574.3 226.2,629.3 226.4,574.8 226.6,629.6 226.8,575.3 226.9,629.9 227.1,576.7 227.3,639.6 227.5,577.3 227.6,639.9 227.8,577.8 228.0,640.3 228.1,578.3 228.3,640.7 228.5,578.9 228.7,648.2 228.8,579.6 229.0,648.6 229.2,580.2 229.4,649.0 229.5,580.7 229.7,649.3 229.9,581.2 230.0,649.7 230.2,580.7 230.4,645.1 230.6,581.2 230.7,645.4 230.9,581.7 231.1,645.7 231.3,582.1 231.4,645.7 231.6,584.9 231.8,646.5 231.9,585.2 232.1,646.6 232.3,585.4 232.5,646.6 232.6,585.7 232.8,646.6 233.0,586.0 233.2,634.5 233.3,579.0 233.5,634.6 233.7,579.3 233.8,634.7 234.0,579.6 234.2,634.8 234.4,579.9 234.5,647.7 234.7,587.8 234.9,647.7 235.1,588.1 235.2,647.7 235.4,588.4 235.6,647.7 235.7,588.7 235.9,647.7 236.1,585.0 236.3,641.1 236.4,585.3 236.6,641.2 236.8,585.6 237.0,641.3 237.1,585.9 237.3,641.3 237.5,590.9 237.6,641.7 237.8,591.2 238.0,641.8 238.2,591.5 238.3,641.8 238.5,591.8 238.7,641.9 238.9,592.1 239.0,648.3 239.2,588.4 239.4,648.3 239.5,588.7 239.7,648.3 239.9,589.0 240.1,648.3 240.2,589.3 240.4,648.3 240.6,591.8 240.8,637.8 240.9,592.1 241.1,637.9 241.3,592.4 241.4,638.0 241.6,592.7 241.8,638.1 242.0,593.4 242.1,640.4 242.3,593.7 242.5,640.5 242.7,594.0 242.8,640.6 243.0,594.2 243.2,640.6 243.3,594.5 243.5,637.8 243.7,587.0 243.9,637.9 244.0,587.3 244.2,638.0 244.4,587.6 244.6,638.1 244.7,587.9 244.9,640.6 245.1,591.1 245.2,640.6 245.4,591.4 245.6,640.7 245.8,591.7 245.9,640.8 246.1,592.0 246.3,641.1 246.5,595.0 246.6,639.0 246.8,595.3 247.0,639.3 247.1,595.6 247.3,639.7 247.5,595.9 247.7,640.0 247.8,597.0 248.0,649.2 248.2,597.3 248.3,649.6 248.5,597.6 248.7,649.9 248.9,597.8 249.0,650.3 249.2,598.1 249.4,645.2 249.6,598.4 249.7,645.6 249.9,598.7 250.1,645.9 250.2,599.0 250.4,646.3 250.6,599.2 250.8,646.6 250.9,599.7 251.1,648.3 251.3,599.9 251.5,648.7 251.6,600.2 251.8,649.0 252.0,600.5 252.1,649.4 252.3,597.6 252.5,649.5 252.7,597.9 252.8,649.9 253.0,598.1 253.2,650.2 253.4,598.4 253.5,650.6 253.7,598.7 253.9,651.4 254.0,601.1 254.2,651.8 254.4,601.4 254.6,652.1 254.7,601.7 254.9,652.5 255.1,602.0 255.3,647.0 255.4,601.4 255.6,647.3 255.8,601.7 255.9,647.7 256.1,602.0 256.3,648.0 256.5,602.3 256.6,648.4 256.8,600.7 257.0,652.9 257.2,601.0 257.3,653.3 257.5,601.3 257.7,653.6 257.8,601.6 258.0,654.0 258.2,599.2 258.4,651.9 258.5,599.4 258.7,652.1 258.9,599.7 259.1,652.2 259.2,599.9 259.4,652.4 259.6,600.1 259.7,655.3 259.9,606.1 260.1,655.5 260.3,606.3 260.4,655.6 260.6,606.6 260.8,655.8 261.0,606.8 261.1,656.0 261.3,608.0 261.5,657.0 261.6,608.2 261.8,657.2 262.0,608.4 262.2,657.4 262.3,608.6 262.5,657.5 262.7,606.2 262.9,658.4 263.0,606.4 263.2,658.6 263.4,606.6 263.5,658.8 263.7,606.8 263.9,658.9 264.1,607.0 264.2,658.9 264.4,609.5 264.6,659.1 264.8,609.7 264.9,659.3 265.1,609.9 265.3,659.4 265.4,610.0 265.6,654.8 265.8,612.0 266.0,655.0 266.1,612.1 266.3,655.1 266.5,612.3 266.7,655.3 266.8,612.5 267.0,655.4 267.2,612.1 267.3,658.8 267.5,612.3 267.7,658.9 267.9,612.5 268.0,659.1 268.2,612.6 268.4,659.3 268.6,612.5 268.7,659.5 268.9,612.7 269.1,659.7 269.2,612.9 269.4,659.8 269.6,613.1 269.8,660.0 269.9,613.2 270.1,655.8 270.3,607.9 270.4,655.9 270.6,608.1 270.8,656.1 271.0,608.3 271.1,656.2 271.3,608.3 271.5,656.3 271.7,614.8 271.8,658.1 272.0,614.8 272.2,658.2 272.3,614.8 272.5,658.3 272.7,614.8 272.9,658.4 273.0,610.8 273.2,658.2 273.4,610.8 273.6,658.3 273.7,610.8 273.9,658.4 274.1,610.9 274.2,658.5 274.4,610.9 274.6,663.0 274.8,608.6 274.9,663.1 275.1,608.6 275.3,663.2 275.5,608.6 275.6,663.3 275.8,608.6 276.0,657.7 276.1,613.5 276.3,657.8 276.5,613.5 276.7,657.9 276.8,613.6 277.0,658.0 277.2,613.6 277.4,658.2 277.5,613.4 277.7,657.5 277.9,613.4 278.0,657.6 278.2,613.5 278.4,657.7 278.6,613.5 278.7,657.8 278.9,613.3 279.1,658.3 279.3,613.3 279.4,658.4 279.6,613.4 279.8,658.5 279.9,613.4 280.1,658.7 280.3,613.4 280.5,658.5 280.6,608.4 280.8,658.6 281.0,608.4 281.2,658.7 281.3,608.4 281.5,658.9 281.7,608.4 281.8,659.0 282.0,607.5 282.2,664.9 282.4,607.5 282.5,665.0 282.7,607.5 282.9,665.1 283.1,607.5 283.2,665.2 283.4,609.5 283.6,662.1 283.7,609.7 283.9,662.2 284.1,610.0 284.3,662.2 284.4,610.2 284.6,662.3 284.8,610.5 285.0,660.3 285.1,609.5 285.3,660.4 285.5,609.8 285.6,660.5 285.8,610.0 286.0,660.6 286.2,610.3 286.3,667.5 286.5,610.3 286.7,667.6 286.9,610.5 287.0,667.6 287.2,610.8 287.4,667.7 287.5,611.1 287.7,667.8 287.9,618.3 288.1,663.6 288.2,618.5 288.4,663.6 288.6,618.7 288.8,663.7 288.9,618.9 289.1,663.8 289.3,618.9 289.4,662.6 289.6,619.1 289.8,662.7 290.0,619.3 290.1,662.8 290.3,619.5 290.5,662.8 290.7,619.8 290.8,661.7 291.0,619.6 291.2,661.8 291.3,619.8 291.5,661.9 291.7,620.1 291.9,662.0 292.0,620.3 292.2,662.1 292.4,620.6 292.6,678.6 292.7,620.8 292.9,678.7 293.1,621.0 293.2,678.8 293.4,621.2 293.6,678.8 293.8,622.6 293.9,664.1 294.1,622.9 294.3,664.1 294.4,623.1 294.6,664.2 294.8,623.3 295.0,664.3 295.1,623.6 295.3,663.5 295.5,623.9 295.7,663.5 295.8,624.1 296.0,663.6 296.2,624.3 296.3,663.7 296.5,624.3 296.7,666.6 296.9,619.8 297.0,666.6 297.2,619.8 297.4,666.7 297.6,619.8 297.7,666.7 297.9,619.9 298.1,666.8 298.2,624.6 298.4,668.7 298.6,624.6 298.8,668.7 298.9,624.7 299.1,668.8 299.3,624.7 299.5,668.8 299.6,616.3 299.8,668.8 300.0,616.3 300.1,668.8 300.3,616.3 300.5,668.9 300.7,616.3 300.8,668.9 301.0,616.3 301.2,664.5 301.4,622.0 301.5,664.5 301.7,622.0 301.9,664.6 302.0,622.0 302.2,664.7 302.4,622.1 302.6,664.7 302.7,624.1 302.9,664.0 303.1,624.1 303.3,664.1 303.4,624.2 303.6,664.2 303.8,624.2 303.9,664.2 304.1,623.6 304.3,666.0 304.5,623.6 304.6,666.0 304.8,623.6 305.0,666.1 305.2,623.7 305.3,666.1 305.5,623.7 305.7,671.4 305.8,622.9 306.0,671.5 306.2,622.9 306.4,671.6 306.5,622.9 306.7,671.6 306.9,622.9 307.1,671.9 307.2,618.9 307.4,671.9 307.6,618.9 307.7,672.0 307.9,618.9 308.1,672.0 308.3,619.1 308.4,671.9 308.6,625.3 308.8,670.9 309.0,625.5 309.1,670.8 309.3,625.7 309.5,670.7 309.6,626.0 309.8,670.7 310.0,627.0 310.2,665.9 310.3,627.2 310.5,665.8 310.7,627.4 310.9,665.8 311.0,627.6 311.2,665.7 311.4,627.8 311.5,666.9 311.7,626.8 311.9,666.8 312.1,627.0 312.2,666.8 312.4,627.2 312.6,666.7 312.8,627.4 312.9,666.7 313.1,628.6 313.3,669.5 313.4,628.9 313.6,669.4 313.8,629.1 314.0,669.4 314.1,629.3 314.3,669.3 314.5,628.5 314.7,666.2 314.8,628.7 315.0,666.1 315.2,629.0 315.3,666.1 315.5,629.2 315.7,666.0 315.9,629.5 316.0,666.7 316.2,630.1 316.4,666.6 316.5,630.3 316.7,666.6 316.9,630.5 317.1,666.5 317.2,630.8 317.4,668.1 317.6,629.9 317.8,668.1 317.9,630.2 318.1,668.0 318.3,630.4 318.4,667.9 318.6,630.7 318.8,667.9 319.0,631.4 319.1,664.8 319.3,631.7 319.5,664.7 319.7,631.9 319.8,664.7 320.0,632.2 320.2,664.7 320.3,630.2 320.5,672.5 320.7,630.5 320.9,672.4 321.0,630.7 321.2,672.3 321.4,630.8 321.6,672.3 321.7,630.9 321.9,666.8 322.1,632.3 322.2,666.8 322.4,632.4 322.6,666.8 322.8,632.5 322.9,666.8 323.1,632.6 323.3,666.8 323.5,633.1 323.6,664.6 323.8,633.2 324.0,664.6 324.1,633.3 324.3,664.6 324.5,633.4 324.7,664.7 324.8,633.6 325.0,665.1 325.2,633.6 325.4,665.1 325.5,633.7 325.7,665.1 325.9,633.8 326.0,665.1 326.2,633.9 326.4,665.7 326.6,635.6 326.7,665.7 326.9,635.6 327.1,665.7 327.3,635.7 327.4,665.7 327.6,635.8 327.8,665.0 327.9,630.0 328.1,665.0 328.3,630.1 328.5,665.1 328.6,630.2 328.8,665.1 329.0,630.3 329.2,665.1 329.3,631.2 329.5,668.3 329.7,631.3 329.8,668.3 330.0,631.4 330.2,668.3 330.4,631.5 330.5,668.3 330.7,635.5 330.9,666.4 331.1,635.6 331.2,666.4 331.4,635.7 331.6,666.4 331.7,635.8 331.9,666.4 332.1,635.9 332.3,666.4 332.4,634.6 332.6,666.4 332.8,634.7 333.0,666.5 333.1,634.7 333.3,666.5 333.5,634.8 333.6,666.5 333.8,635.6 334.0,666.6 334.2,635.7 334.3,666.6 334.5,635.8 334.7,666.6 334.9,635.9 335.0,666.6 335.2,632.7 335.4,666.2 335.5,632.8 335.7,666.2 335.9,632.9 336.1,666.2 336.2,633.0 336.4,666.2 336.6,633.1 336.8,669.8 336.9,638.7 337.1,669.8 337.3,638.8 337.4,669.8 337.6,638.9 337.8,669.8 338.0,639.0 338.1,667.5 338.3,635.9 338.5,667.5 338.7,636.0 338.8,667.6 339.0,636.1 339.2,667.6 339.3,636.2 339.5,667.6 339.7,639.5 339.9,665.7 340.0,639.6 340.2,665.7 340.4,639.7 340.5,665.7 340.7,639.8 340.9,665.8 341.1,635.6 341.2,666.0 341.4,635.7 341.6,666.1 341.8,635.8 341.9,666.1 342.1,635.9 342.3,666.2 342.4,636.1 342.6,669.4 342.8,635.6 343.0,669.6 343.1,635.7 343.3,669.8 343.5,635.9 343.7,670.0 343.8,636.0 344.0,670.1 344.2,633.9 344.3,666.7 344.5,634.1 344.7,666.9 344.9,634.3 345.0,667.0 345.2,634.4 345.4,667.2 345.6,640.3 345.7,670.3 345.9,640.4 346.1,670.5 346.2,640.5 346.4,670.6 346.6,640.7 346.8,670.8 346.9,640.8 347.1,667.5 347.3,640.8 347.5,667.7 347.6,640.9 347.8,667.8 348.0,641.1 348.1,668.0 348.3,641.2 348.5,668.5 348.7,639.0 348.8,668.7 349.0,639.2 349.2,668.8 349.4,639.3 349.5,669.0 349.7,639.5 349.9,669.1 350.0,642.5 350.2,669.4 350.4,642.6 350.6,669.6 350.7,642.8 350.9,669.7 351.1,642.9 351.3,669.9 351.4,641.3 351.6,670.6 351.8,641.5 351.9,670.7 352.1,641.6 352.3,670.9 352.5,641.8 352.6,671.1 352.8,641.9 353.0,674.7 353.2,643.4 353.3,674.9 353.5,643.5 353.7,675.0 353.8,643.7 354.0,675.2 354.2,643.8 354.4,675.4 354.5,644.5 354.7,672.7 354.9,644.6 355.1,672.9 355.2,644.7 355.4,673.1 355.6,644.9 355.7,673.2 355.9,643.4 356.1,674.1 356.3,643.5 356.4,674.2 356.6,643.7 356.8,674.4 357.0,643.8 357.1,674.5 357.3,643.9 357.5,673.5 357.6,645.8 357.8,673.4 358.0,645.9 358.2,673.3 358.3,645.9 358.5,673.3 358.7,646.0 358.9,674.4 359.0,645.6 359.2,674.3 359.4,645.7 359.5,674.2 359.7,645.7 359.9,674.1 360.1,645.7 360.2,674.1 360.4,646.3 360.6,675.9 360.8,646.3 360.9,675.9 361.1,646.3 361.3,675.8 361.4,646.4 361.6,675.7 361.8,645.2 362.0,671.7 362.1,645.2 362.3,671.7 362.5,645.2 362.6,671.6 362.8,645.3 363.0,671.6 363.2,645.3 363.3,671.8 363.5,644.6 363.7,671.7 363.9,644.6 364.0,671.6 364.2,644.7 364.4,671.6 364.5,644.7 364.7,671.5 364.9,640.7 365.1,671.1 365.2,640.8 365.4,671.0 365.6,640.8 365.8,671.0 365.9,640.8 366.1,670.9 366.3,645.9 366.4,672.7 366.6,645.9 366.8,672.6 367.0,645.9 367.1,672.5 367.3,645.9 367.5,672.5 367.7,645.9 367.8,673.6 368.0,644.5 368.2,673.6 368.3,644.5 368.5,673.5 368.7,644.5 368.9,673.4 369.0,644.4 369.2,672.2 369.4,646.1 369.6,672.2 369.7,646.1 369.9,672.1 370.1,646.0 370.2,672.1 370.4,646.0 370.6,672.0 370.8,642.9 370.9,670.7 371.1,642.9 371.3,670.6 371.5,642.9 371.6,670.6 371.8,642.9 372.0,670.5 372.1,644.5 372.3,671.0 372.5,644.5 372.7,670.9 372.8,644.5 373.0,670.9 373.2,644.5 373.4,670.8 373.5,644.4 373.7,669.7 373.9,645.4 374.0,669.6 374.2,645.4 374.4,669.5 374.6,645.4 374.7,669.5 374.9,645.3 375.1,669.4 375.3,644.9 375.4,671.7 375.6,644.9 375.8,671.6 375.9,644.9 376.1,671.6 376.3,644.8 376.5,671.5 376.6,645.3 376.8,669.2 377.0,645.3 377.2,669.1 377.3,645.3 377.5,669.0 377.7,645.3 377.8,669.0 378.0,645.2 378.2,670.1 378.4,645.9 378.5,670.1 378.7,645.9 378.9,670.0 379.1,645.9 379.2,670.0 379.4,645.9 379.6,668.4 379.7,645.9 379.9,668.3 380.1,645.9 380.3,668.3 380.4,645.9 380.6,668.2 380.8,645.9 381.0,668.2 381.1,641.0 381.3,670.1 381.5,641.0 381.6,670.1 381.8,641.0 382.0,670.0 382.2,641.0 382.3,670.0 382.5,645.6 382.7,669.3 382.9,645.6 383.0,669.2 383.2,645.6 383.4,669.2 383.5,645.5 383.7,669.1 383.9,645.5 384.1,667.9 384.2,643.7 384.4,667.9 384.6,643.7 384.7,667.8 384.9,643.7 385.1,667.8 385.3,643.7 385.4,667.7 385.6,644.4 385.8,668.5 386.0,644.4 386.1,668.4 386.3,644.3 386.5,668.4 386.6,644.3 386.8,668.3 387.0,638.3 387.2,669.0 387.3,638.3 387.5,669.0 387.7,638.3 387.9,668.9 388.0,638.3 388.2,668.9 388.4,638.2 388.5,667.3 388.7,642.5 388.9,667.3 389.1,642.5 389.2,667.2 389.4,642.4 389.6,667.2 389.8,642.4 389.9,669.6 390.1,643.7 390.3,669.6 390.4,643.6 390.6,669.5 390.8,643.6 391.0,669.5 391.1,643.6 391.3,669.4 391.5,643.9 391.7,669.6 391.8,643.8 392.0,669.5 392.2,643.7 392.3,669.4 392.5,643.6 392.7,669.4 392.9,641.6 393.0,666.9 393.2,641.4 393.4,666.9 393.6,641.3 393.7,666.8 393.9,641.1 394.1,666.7 394.2,640.9 394.4,668.3 394.6,644.4 394.8,668.2 394.9,644.3 395.1,668.2 395.3,644.1 395.5,668.1 395.6,644.0 395.8,668.0 396.0,641.4 396.1,666.3 396.3,641.3 396.5,666.2 396.7,641.1 396.8,666.1 397.0,640.9 397.2,666.1 397.4,642.7 397.5,667.6 397.7,642.5 397.9,667.5 398.0,642.4 398.2,667.5 398.4,642.2 398.6,667.4 398.7,642.0 398.9,665.7 399.1,634.1 399.3,665.7 399.4,633.9 399.6,665.6 399.8,633.8 399.9,665.5 400.1,633.6 400.3,665.3 400.5,641.5 400.6,665.2 400.8,641.4 401.0,665.2 401.2,641.2 401.3,665.1 401.5,641.1 401.7,665.0 401.8,640.2 402.0,666.7 402.2,640.0 402.4,666.6 402.5,639.8 402.7,666.4 402.9,639.5 403.1,666.3 403.2,639.3 403.4,663.9 403.6,639.0 403.7,663.7 403.9,638.8 404.1,663.6 404.3,638.5 404.4,663.4 404.6,638.3 404.8,670.5 405.0,638.3 405.1,670.4 405.3,638.1 405.5,670.3 405.6,637.8 405.8,670.2 406.0,637.6 406.2,670.1 406.3,636.7 406.5,663.0 406.7,636.4 406.9,662.9 407.0,636.1 407.2,662.7 407.4,635.9 407.5,662.6 407.7,634.9 407.9,662.7 408.1,634.6 408.2,662.6 408.4,634.4 408.6,662.4 408.7,634.1 408.9,662.3 409.1,633.9 409.3,664.5 409.4,632.0 409.6,664.3 409.8,631.7 410.0,664.2 410.1,631.5 410.3,664.1 410.5,631.2 410.6,662.5 410.8,634.3 411.0,662.3 411.2,634.0 411.3,662.2 411.5,633.8 411.7,662.0 411.9,633.5 412.0,661.9 412.2,633.2 412.4,666.4 412.5,632.7 412.7,666.3 412.9,632.3 413.1,666.2 413.2,631.9 413.4,666.2 413.6,631.0 413.8,663.1 413.9,630.6 414.1,663.0 414.3,630.1 414.4,662.9 414.6,629.7 414.8,662.8 415.0,629.3 415.1,662.4 415.3,627.0 415.5,662.3 415.7,626.5 415.8,662.2 416.0,626.1 416.2,662.1 416.3,625.6 416.5,661.9 416.7,623.0 416.9,664.1 417.0,622.5 417.2,664.0 417.4,621.2 417.6,664.0 417.7,619.9 417.9,664.0 418.1,623.1 418.2,661.7 418.4,622.0 418.6,661.6 418.8,620.9 418.9,661.6 419.1,619.9 419.3,661.5 419.5,618.8 419.6,659.7 419.8,616.6 420.0,659.6 420.1,615.5 420.3,659.5 420.5,614.4 420.7,659.4 420.8,613.3 421.0,658.5 421.2,611.0 421.4,658.4 421.5,609.9 421.7,658.3 421.9,608.8 422.0,658.2 422.2,608.1 422.4,658.2 422.6,608.7 422.7,657.9 422.9,608.3 423.1,657.9 423.3,607.8 423.4,657.9 423.6,607.3 423.8,657.9 423.9,605.1 424.1,658.1 424.3,604.6 424.5,658.1 424.6,604.1 424.8,658.1 425.0,603.7 425.2,658.1 425.3,603.2 425.5,660.8 425.7,602.5 425.8,660.8 426.0,602.0 426.2,660.9 426.4,601.5 426.5,660.9 426.7,601.1 426.9,660.9 427.1,599.3 427.2,657.5 427.4,598.8 427.6,657.5 427.7,598.3 427.9,657.4 428.1,597.9 428.3,657.4 428.4,593.3 428.6,655.9 428.8,592.7 429.0,655.9 429.1,592.4 429.3,656.0 429.5,592.3 429.6,656.1 429.8,592.3 430.0,656.9 430.2,599.4 430.3,657.0 430.5,599.3 430.7,657.1 430.8,599.3 431.0,657.2 431.2,599.2 431.4,660.6 431.5,600.2 431.7,660.7 431.9,600.1 432.1,660.8 432.2,600.0 432.4,661.0 432.6,600.0 432.7,661.1 432.9,600.0 433.1,658.6 433.3,599.9 433.4,658.8 433.6,599.8 433.8,658.9 434.0,599.7 434.1,659.0 434.3,595.8 434.5,659.7 434.6,595.7 434.8,659.8 435.0,595.7 435.2,659.9 435.3,595.6 435.5,660.1 435.7,595.5 435.9,667.3 436.0,600.7 436.2,667.4 436.4,600.7 436.5,667.6 436.7,600.6 436.9,667.8 437.1,600.6 437.2,667.9 437.4,594.3 437.6,664.0 437.8,594.3 437.9,664.2 438.1,594.2 438.3,664.3 438.4,594.1 438.6,664.4 438.8,593.3 439.0,667.5 439.1,593.3 439.3,667.6 439.5,593.2 439.7,667.8 439.8,593.2 440.0,667.9 440.2,593.1 440.3,669.8 440.5,594.8 440.7,670.0 440.9,594.7 441.0,670.2 441.2,594.7 441.4,670.3 441.6,594.6 441.7,662.2 441.9,599.1 442.1,662.4 442.2,599.0 442.4,662.5 442.6,599.0 442.8,662.6 442.9,599.0 443.1,662.8 443.3,601.9 443.5,660.1 443.6,601.9 443.8,660.2 444.0,601.9 444.1,660.4 444.3,601.9 444.5,660.5 444.7,594.6 444.8,666.2 445.0,594.5 445.2,666.3 445.4,594.5 445.5,666.5 445.7,594.4 445.9,666.6 446.0,594.4 446.2,661.4 446.4,594.2 446.6,661.5 446.7,594.1 446.9,661.7 447.1,594.1 447.3,661.8 447.4,594.1 447.6,661.9 447.8,599.5 447.9,670.7 448.1,599.5 448.3,670.8 448.5,599.5 448.6,671.0 448.8,599.5 449.0,671.1 449.2,594.2 449.3,668.5 449.5,594.3 449.7,668.5 449.8,594.4 450.0,668.6 450.2,594.4 450.4,668.6 450.5,594.5 450.7,667.4 450.9,598.2 451.1,667.4 451.2,598.2 451.4,667.4 451.6,598.3 451.7,667.5 451.9,598.4 452.1,671.1 452.3,599.5 452.4,671.1 452.6,599.6 452.8,671.1 453.0,599.6 453.1,671.2 453.3,599.7 453.5,671.2 453.6,590.4 453.8,665.2 454.0,590.4 454.2,665.3 454.3,590.5 454.5,665.3 454.7,590.5 454.8,665.3 455.0,598.4 455.2,663.6 455.4,598.4 455.5,663.7 455.7,598.5 455.9,663.7 456.1,598.6 456.2,663.7 456.4,598.6 456.6,667.7 456.7,601.4 456.9,667.7 457.1,601.5 457.3,667.8 457.4,601.5 457.6,667.8 457.8,601.6 458.0,667.8 458.1,599.3 458.3,664.2 458.5,599.3 458.6,664.2 458.8,599.4 459.0,664.3 459.2,599.5 459.3,664.3 459.5,602.5 459.7,667.3 459.9,602.6 460.0,667.3 460.2,602.6 460.4,667.4 460.5,602.7 460.7,667.4 460.9,602.8 461.1,670.1 461.2,603.6 461.4,670.1 461.6,603.6 461.8,670.1 461.9,603.7 462.1,670.2 462.3,603.8 462.4,663.9 462.6,601.1 462.8,663.9 463.0,601.2 463.1,664.0 463.3,601.3 463.5,664.0 463.7,601.3 463.8,664.1 464.0,603.1 464.2,665.8 464.3,603.1 464.5,665.8 464.7,603.2 464.9,665.8 465.0,603.3 465.2,665.9 465.4,597.2 465.6,674.7 465.7,597.2 465.9,674.7 466.1,597.3 466.2,674.7 466.4,597.4 466.6,674.7 466.8,597.4 466.9,665.0 467.1,604.1 467.3,665.0 467.5,604.1 467.6,665.1 467.8,604.2 468.0,665.1 468.1,604.3 468.3,665.2 468.5,603.4 468.7,668.6 468.8,603.5 469.0,668.6 469.2,603.5 469.4,668.6 469.5,603.6 469.7,668.7 469.9,602.1 470.0,678.4 470.2,602.1 470.4,678.4 470.6,602.2 470.7,678.5 470.9,602.2 471.1,678.5 471.3,602.2 471.4,669.2 471.6,598.9 471.8,669.3 471.9,599.0 472.1,669.3 472.3,599.0 472.5,669.3 472.6,599.0 472.8,673.8 473.0,601.2 473.2,673.9 473.3,601.3 473.5,673.9 473.7,601.3 473.8,673.9 474.0,601.3 474.2,673.9 474.4,596.0 474.5,667.6 474.7,596.1 474.9,667.6 475.1,596.1 475.2,667.6 475.4,596.1 475.6,667.6 475.7,603.8 475.9,675.3 476.1,603.8 476.3,675.4 476.4,603.8 476.6,675.4 476.8,603.8 476.9,675.4 477.1,603.9 477.3,667.8 477.5,604.2 477.6,667.8 477.8,604.2 478.0,667.8 478.2,604.3 478.3,667.9 478.5,604.3 478.7,667.9 478.8,593.4 479.0,667.4 479.2,593.4 479.4,667.5 479.5,593.4 479.7,667.5 479.9,593.4 480.1,667.5 480.2,603.1 480.4,669.5 480.6,603.1 480.7,669.5 480.9,603.1 481.1,669.5 481.3,603.1 481.4,669.5 481.6,603.1 481.8,670.1 482.0,604.5 482.1,670.1 482.3,604.5 482.5,670.1 482.6,604.5 482.8,670.1 483.0,604.5 483.2,679.2 483.3,591.9 483.5,679.2 483.7,591.9 483.9,679.3 484.0,591.9 484.2,679.3 484.4,592.0 484.5,679.3 484.7,604.6 484.9,674.8 485.1,604.6 485.2,674.8 485.4,604.7 485.6,674.8 485.8,604.7 485.9,674.9 486.1,596.2 486.3,667.4 486.4,596.2 486.6,667.4 486.8,596.2 487.0,667.4 487.1,596.2 487.3,667.4 487.5,596.2 487.7,672.4 487.8,597.9 488.0,672.4 488.2,597.9 488.3,672.4 488.5,597.9 488.7,672.4 488.9,597.9 489.0,672.5 489.2,603.2 489.4,680.2 489.6,603.2 489.7,680.2 489.9,603.3 490.1,680.3 490.2,603.3 490.4,680.3 490.6,596.3 490.8,667.9 490.9,596.3 491.1,667.9 491.3,596.3 491.5,667.9 491.6,596.4 491.8,667.9 492.0,596.4 492.1,670.0 492.3,605.2 492.5,670.0 492.7,605.2 492.8,670.0 493.0,605.2 493.2,670.1 493.4,605.2 493.5,668.0 493.7,604.3 493.9,668.0 494.0,604.3 494.2,668.0 494.4,604.3 494.6,668.1 494.7,604.4 494.9,668.1 495.1,605.8 495.3,666.7 495.4,605.8 495.6,666.7 495.8,605.8 495.9,666.7 496.1,605.9 496.3,666.8 496.5,599.4 496.6,668.1 496.8,599.4 497.0,668.1 497.2,599.4 497.3,668.1 497.5,599.5 497.7,668.1 497.8,599.5 498.0,669.7 498.2,604.4 498.4,669.8 498.5,604.4 498.7,669.8 498.9,604.5 499.1,669.8 499.2,604.5 499.4,669.8 499.6,583.2 499.7,671.9 499.9,583.2 500.1,671.9 500.3,583.3 500.4,672.0 500.6,583.3 500.8,672.1 500.9,598.9 501.1,668.8 501.3,598.9 501.5,668.8 501.6,599.0 501.8,668.9 502.0,599.0 502.2,669.0 502.3,599.1 502.5,684.7 502.7,605.3 502.8,684.8 503.0,605.4 503.2,684.9 503.4,605.4 503.5,685.0 503.7,605.5 503.9,671.2 504.1,599.0 504.2,671.3 504.4,599.0 504.6,671.3 504.7,599.1 504.9,671.4 505.1,599.1 505.3,671.5 505.4,606.6 505.6,675.5 505.8,606.7 506.0,675.6 506.1,606.7 506.3,675.7 506.5,606.8 506.6,675.8 506.8,584.3 507.0,674.1 507.2,584.3 507.3,674.1 507.5,584.4 507.7,674.2 507.9,584.4 508.0,674.3 508.2,584.5 508.4,671.6 508.5,600.7 508.7,671.7 508.9,600.8 509.1,671.7 509.2,600.8 509.4,671.8 509.6,600.8 509.8,671.9 509.9,605.4 510.1,670.5 510.3,605.4 510.4,670.5 510.6,605.5 510.8,670.6 511.0,605.5 511.1,670.7 511.3,608.3 511.5,674.6 511.7,608.3 511.8,674.6 512.0,608.4 512.2,674.7 512.3,608.4 512.5,674.8 512.7,608.5 512.9,675.5 513.0,598.1 513.2,675.6 513.4,598.2 513.6,675.6 513.7,598.2 513.9,675.7 514.1,598.2 514.2,670.5 514.4,604.2 514.6,670.6 514.8,604.1 514.9,670.7 515.1,604.0 515.3,670.7 515.5,604.0 515.6,670.8 515.8,607.4 516.0,675.8 516.1,607.3 516.3,675.9 516.5,607.2 516.7,676.0 516.8,607.2 517.0,676.1 517.2,573.5 517.4,684.1 517.5,573.4 517.7,684.2 517.9,573.2 518.0,684.3 518.2,573.1 518.4,684.4 518.6,573.0 518.7,672.5 518.9,602.8 519.1,672.6 519.3,602.7 519.4,672.7 519.6,602.7 519.8,672.8 519.9,602.6 520.1,672.8 520.3,595.0 520.5,674.4 520.6,594.9 520.8,674.4 521.0,594.9 521.2,674.5 521.3,594.8 521.5,674.6 521.7,607.1 521.8,674.0 522.0,607.1 522.2,674.1 522.4,607.0 522.5,674.2 522.7,606.9 522.9,674.2 523.0,606.9 523.2,677.5 523.4,596.8 523.6,677.6 523.7,596.7 523.9,677.7 524.1,596.6 524.3,677.7 524.4,596.5 524.6,686.3 524.8,594.6 524.9,686.4 525.1,594.5 525.3,686.4 525.5,594.5 525.6,686.5 525.8,594.4 526.0,686.6 526.2,599.7 526.3,673.3 526.5,599.6 526.7,673.4 526.8,599.6 527.0,673.4 527.2,599.5 527.4,673.5 527.5,601.2 527.7,673.9 527.9,601.2 528.1,673.9 528.2,601.1 528.4,674.0 528.6,601.1 528.7,674.1 528.9,601.0 529.1,681.5 529.3,604.9 529.4,681.6 529.6,604.9 529.8,681.7 530.0,604.8 530.1,681.7 530.3,604.8 530.5,681.8 530.6,586.8 530.8,672.8 531.0,586.7 531.2,672.8 531.3,586.7 531.5,672.9 531.7,586.8 531.9,672.9 532.0,597.0 532.2,680.2 532.4,597.0 532.5,680.2 532.7,597.0 532.9,680.2 533.1,597.1 533.2,680.3 533.4,597.1 533.6,673.3 533.8,585.8 533.9,673.3 534.1,585.8 534.3,673.4 534.4,585.8 534.6,673.4 534.8,585.8 535.0,675.2 535.1,605.6 535.3,675.2 535.5,605.6 535.7,675.2 535.8,605.6 536.0,675.2 536.2,605.6 536.3,675.3 536.5,600.2 536.7,686.0 536.9,600.2 537.0,686.0 537.2,600.2 537.4,686.0 537.6,600.2 537.7,686.0 537.9,597.5 538.1,683.4 538.2,597.5 538.4,683.4 538.6,597.5 538.8,683.5 538.9,597.5 539.1,683.5 539.3,597.6 539.5,677.6 539.6,605.4 539.8,677.6 540.0,605.4 540.1,677.6 540.3,605.4 540.5,677.6 540.7,605.4 540.8,677.6 541.0,592.4 541.2,678.6 541.4,592.5 541.5,678.6 541.7,592.5 541.9,678.6 542.0,592.5 542.2,678.7 542.4,599.8 542.6,676.1 542.7,599.8 542.9,676.1 543.1,599.8 543.3,676.1 543.4,599.9 543.6,676.2 543.8,599.9 543.9,675.5 544.1,594.4 544.3,675.5 544.5,594.4 544.6,675.5 544.8,594.4 545.0,675.5 545.2,594.4 545.3,677.7 545.5,605.3 545.7,677.7 545.8,605.3 546.0,677.8 546.2,605.3 546.4,677.8 546.5,605.3 546.7,677.8 546.9,606.4 547.0,675.4 547.2,606.5 547.4,675.5 547.6,606.6 547.7,675.5 547.9,606.6 548.1,675.5 548.3,604.5 548.4,681.6 548.6,604.6 548.8,681.6 548.9,604.6 549.1,681.6 549.3,604.7 549.5,681.6 549.6,604.8 549.8,677.5 550.0,587.4 550.2,677.5 550.3,588.3 550.5,677.5 550.7,589.1 550.8,677.6 551.0,590.0 551.2,677.6 551.4,606.0 551.5,692.1 551.7,606.7 551.9,692.0 552.1,607.3 552.2,692.0 552.4,608.0 552.6,692.0 552.7,609.9 552.9,679.6 553.1,610.5 553.3,679.6 553.4,611.2 553.6,679.7 553.8,611.8 554.0,679.7 554.1,612.4 554.3,681.0 554.5,607.3 554.6,681.0 554.8,608.0 555.0,681.0 555.2,608.7 555.3,681.1 555.5,609.5 555.7,679.5 555.9,616.6 556.0,679.6 556.2,617.2 556.4,679.6 556.5,617.9 556.7,679.6 556.9,618.5 557.1,679.7 557.2,619.8 557.4,676.1 557.6,620.4 557.8,676.1 557.9,621.0 558.1,676.2 558.3,621.6 558.4,676.2 558.6,618.5 558.8,698.9 559.0,619.2 559.1,698.9 559.3,619.3 559.5,699.0 559.7,619.3 559.8,699.0 560.0,619.3 560.2,679.4 560.3,620.4 560.5,679.4 560.7,620.4 560.9,679.4 561.0,620.4 561.2,679.4 561.4,620.4 561.6,679.5 561.7,620.1 561.9,686.8 562.1,620.1 562.2,686.8 562.4,620.1 562.6,686.8 562.8,620.1 562.9,686.8 563.1,609.0 563.3,685.4 563.5,609.0 563.6,685.4 563.8,609.0 564.0,685.4 564.1,609.0 564.3,685.4 564.5,609.0 564.7,678.8 564.8,618.1 565.0,678.8 565.2,618.1 565.4,678.8 565.5,618.1 565.7,678.8 565.9,618.1 566.0,676.1 566.2,620.4 566.4,676.1 566.6,620.4 566.7,676.1 566.9,620.4 567.1,676.1 567.3,620.4 567.4,676.1 567.6,622.2 567.8,678.5 567.9,622.2 568.1,678.5 568.3,622.2 568.5,678.5 568.6,622.2 568.8,678.6 569.0,618.0 569.1,680.7 569.3,618.0 569.5,680.7 569.7,618.0 569.8,680.7 570.0,618.0 570.2,680.7 570.4,618.0 570.5,676.0 570.7,621.1 570.9,676.0 571.0,621.1 571.2,676.0 571.4,621.1 571.6,676.1 571.7,621.1 571.9,676.1 572.1,621.5 572.3,682.1 572.4,621.5 572.6,682.1 572.8,621.5 572.9,682.1 573.1,621.5 573.3,682.1 573.5,606.6 573.6,680.2 573.8,606.6 574.0,680.2 574.2,606.6 574.3,680.2 574.5,606.6 574.7,680.2 574.8,606.6 575.0,685.7 575.2,622.4 575.4,685.7 575.5,622.5 575.7,685.7 575.9,622.5 576.1,685.7 576.2,622.5 576.4,687.0 576.6,621.0 576.7,687.0 576.9,621.0 577.1,687.0 577.3,621.0 577.4,687.0 577.6,621.0 577.8,687.0 578.0,615.3 578.1,678.5 578.3,615.3 578.5,678.5 578.6,615.3 578.8,678.5 579.0,615.3 579.2,678.5 579.3,614.3 579.5,677.9 579.7,614.5 579.9,677.9 580.0,614.6 580.2,677.9 580.4,614.8 580.5,677.9 580.7,615.0 580.9,676.6 581.1,617.4 581.2,676.6 581.4,617.6 581.6,676.6 581.8,617.8 581.9,676.6 582.1,617.9 582.3,676.6 582.4,619.5 582.6,679.2 582.8,619.7 583.0,679.1 583.1,619.9 583.3,679.1 583.5,620.0 583.7,679.1 583.8,614.8 584.0,680.5 584.2,615.0 584.3,680.5 584.5,615.2 584.7,680.5 584.9,615.4 585.0,680.4 585.2,615.6 585.4,679.2 585.6,617.9 585.7,679.2 585.9,618.1 586.1,679.2 586.2,618.3 586.4,679.1 586.6,618.5 586.8,677.2 586.9,627.5 587.1,677.2 587.3,627.7 587.5,677.2 587.6,627.8 587.8,677.2 588.0,628.0 588.1,677.2 588.3,619.4 588.5,683.0 588.7,619.6 588.8,683.0 589.0,619.8 589.2,683.0 589.4,620.0 589.5,683.0 589.7,628.3 589.9,679.4 590.0,628.4 590.2,679.4 590.4,628.6 590.6,679.4 590.7,628.7 590.9,679.4 591.1,628.9 591.3,683.0 591.4,628.6 591.6,683.0 591.8,628.7 591.9,683.0 592.1,628.9 592.3,682.9 592.5,629.0 592.6,682.9 592.8,623.1 593.0,685.6 593.1,623.3 593.3,685.5 593.5,623.5 593.7,685.5 593.8,623.6 594.0,685.5 594.2,622.1 594.4,676.7 594.5,622.2 594.7,676.7 594.9,622.4 595.0,676.7 595.2,622.6 595.4,676.7 595.6,622.8 595.7,676.7 595.9,629.5 596.1,676.7 596.3,629.7 596.4,676.7 596.6,629.8 596.8,676.6 596.9,630.0 597.1,687.0 597.3,630.6 597.5,687.0 597.6,630.7 597.8,687.0 598.0,630.9 598.2,686.9 598.3,631.0 598.5,686.9 598.7,630.7 598.8,682.7 599.0,630.9 599.2,682.7 599.4,631.0 599.5,682.7 599.7,631.2 599.9,682.6 600.1,632.8 600.2,680.7 600.4,632.9 600.6,680.7 600.7,633.0 600.9,680.7 601.1,633.2 601.3,680.7 601.4,633.3 601.6,679.5 601.8,632.5 602.0,679.5 602.1,632.7 602.3,679.5 602.5,632.8 602.6,679.5 602.8,632.9 603.0,679.5 603.2,634.3 603.3,679.8 603.5,634.4 603.7,679.8 603.9,634.5 604.0,679.8 604.2,634.6 604.4,679.8 604.5,631.6 604.7,678.9 604.9,631.8 605.1,678.9 605.2,631.9 605.4,678.9 605.6,632.0 605.8,678.9 605.9,632.1 606.1,680.1 606.3,633.3 606.4,680.1 606.6,633.4 606.8,680.1 607.0,633.6 607.1,680.1 607.3,633.7 607.5,677.2 607.7,633.6 607.8,677.2 608.0,633.7 608.2,677.2 608.3,633.9 608.5,677.2 608.7,634.0 608.9,677.3 609.0,633.9 609.2,677.2 609.4,634.1 609.6,677.2 609.7,634.2 609.9,677.2 610.1,634.3 610.2,677.2 610.4,629.8 610.6,678.6 610.8,630.0 610.9,678.6 611.1,630.1 611.3,678.6 611.5,630.2 611.6,678.6 611.8,630.4 612.0,685.4 612.1,636.9 612.3,685.4 612.5,637.0 612.7,685.3 612.8,637.1 613.0,685.3 613.2,637.2 613.4,685.3 613.5,631.0 613.7,680.1 613.9,631.2 614.0,680.1 614.2,631.2 614.4,680.1 614.6,631.3 614.7,680.1 614.9,636.4 615.1,677.9 615.2,636.5 615.4,677.9 615.6,636.5 615.8,677.9 615.9,636.5 616.1,677.9 616.3,636.5 616.5,676.9 616.6,635.9 616.8,676.9 617.0,636.0 617.1,676.9 617.3,636.0 617.5,676.9 617.7,636.0 617.8,678.2 618.0,635.3 618.2,678.2 618.4,635.4 618.5,678.2 618.7,635.4 618.9,678.2 619.0,635.4 619.2,678.2 619.4,637.8 619.6,678.2 619.7,637.9 619.9,678.2 620.1,637.9 620.3,678.2 620.4,637.9 620.6,678.2 620.8,637.4 620.9,679.2 621.1,637.5 621.3,679.2 621.5,637.5 621.6,679.2 621.8,637.5 622.0,679.1 622.2,637.6 622.3,685.6 622.5,633.2 622.7,685.6 622.8,633.2 623.0,685.6 623.2,633.2 623.4,685.6 623.5,633.2 623.7,685.5 623.9,633.9 624.1,679.6 624.2,633.9 624.4,679.6 624.6,633.9 624.7,679.6 624.9,633.9 625.1,679.6 625.3,633.2 625.4,676.5 625.6,633.2 625.8,676.5 626.0,633.2 626.1,676.5 626.3,633.3 626.5,676.5 626.6,633.3 626.8,677.7 627.0,638.6 627.2,677.7 627.3,638.6 627.5,677.7 627.7,638.6 627.9,677.7 628.0,638.7 628.2,679.8 628.4,633.0 628.5,679.7 628.7,633.0 628.9,679.7 629.1,633.0 629.2,679.7 629.4,633.0 629.6,679.7 629.8,630.2 629.9,685.1 630.1,630.2 630.3,685.1 630.4,630.2 630.6,685.1 630.8,630.3 631.0,685.0 631.1,637.6 631.3,676.8 631.5,637.6 631.7,676.7 631.8,637.7 632.0,676.7 632.2,637.7 632.3,676.7 632.5,637.7 632.7,679.6 632.9,637.3 633.0,679.5 633.2,637.4 633.4,679.5 633.6,637.4 633.7,679.5 633.9,637.4 634.1,679.5 634.2,637.9 634.4,684.0 634.6,637.9 634.8,684.0 634.9,637.9 635.1,684.0 635.3,637.9 635.5,684.0 635.6,633.0 635.8,676.6 636.0,633.1 636.1,676.6 636.3,633.1 636.5,676.6 636.7,633.1 636.8,676.6 637.0,633.1 637.2,677.1 637.4,638.3 637.5,677.0 637.7,638.4 637.9,677.0 638.0,638.4 638.2,677.0 638.4,638.4 638.6,677.6 638.7,633.9 638.9,677.6 639.1,633.9 639.2,677.6 639.4,634.0 639.6,677.6 639.8,634.0 639.9,677.6 640.1,638.6 640.3,688.6 640.5,638.7 640.6,688.5 640.8,638.7 641.0,688.5 641.1,638.7 641.3,688.5 641.5,638.5 641.7,679.5 641.8,638.5 642.0,679.5 642.2,638.6 642.4,679.5 642.5,638.6 642.7,679.5 642.9,638.7 643.0,679.8 643.2,638.9 643.4,679.8 643.6,639.0 643.7,679.8 643.9,639.0 644.1,679.7 644.3,639.1 644.4,679.7 644.6,637.7 644.8,678.8 644.9,637.7 645.1,678.8 645.3,637.8 645.5,678.8 645.6,637.8 645.8,678.8 646.0,633.0 646.2,676.5 646.3,633.1 646.5,676.5 646.7,633.1 646.8,676.5 647.0,633.2 647.2,676.5 647.4,633.2 647.5,676.2 647.7,640.1 647.9,676.2 648.1,640.1 648.2,676.2 648.4,640.2 648.6,676.2 648.7,640.2 648.9,679.7 649.1,638.0 649.3,679.7 649.4,638.1 649.6,679.7 649.8,638.1 650.0,679.7 650.1,638.2 650.3,679.6 650.5,641.0 650.6,680.8 650.8,641.1 651.0,680.8 651.2,641.1 651.3,680.8 651.5,641.1 651.7,680.8 651.9,640.5 652.0,676.1 652.2,640.5 652.4,676.0 652.5,640.6 652.7,676.0 652.9,640.6 653.1,676.0 653.2,640.7 653.4,681.3 653.6,638.8 653.8,681.3 653.9,638.9 654.1,681.3 654.3,638.9 654.4,681.2 654.6,638.9 654.8,681.2 655.0,641.5 655.1,677.6 655.3,641.6 655.5,677.6 655.7,641.6 655.8,677.6 656.0,641.7 656.2,677.6 656.3,634.8 656.5,676.5 656.7,634.8 656.9,676.5 657.0,634.9 657.2,676.5 657.4,634.9 657.6,676.5 657.7,635.0 657.9,678.8 658.1,636.9 658.2,678.8 658.4,637.0 658.6,678.8 658.8,637.0 658.9,678.8 659.1,637.1 659.3,684.4 659.5,638.8 659.6,684.4 659.8,638.8 660.0,684.3 660.1,638.9 660.3,684.3 660.5,638.9 660.7,684.3 660.8,638.0 661.0,676.2 661.2,638.0 661.3,676.2 661.5,638.1 661.7,676.2 661.9,638.1 662.0,676.2 662.2,640.5 662.4,679.5 662.6,640.5 662.7,679.5 662.9,640.6 663.1,679.5 663.2,640.6 663.4,679.5 663.6,640.7 663.8,680.8 663.9,642.5 664.1,680.8 664.3,642.5 664.5,680.8 664.6,642.6 664.8,680.8 665.0,642.6 665.1,680.8 665.3,636.6 665.5,681.6 665.7,636.6 665.8,681.6 666.0,636.7 666.2,681.6 666.4,636.7 666.5,681.6 666.7,642.2 666.9,676.5 667.0,642.2 667.2,676.5 667.4,642.2 667.6,676.5 667.7,642.3 667.9,676.5 668.1,642.3 668.3,675.9 668.4,640.0 668.6,675.9 668.8,640.1 668.9,675.9 669.1,640.1 669.3,675.9 669.5,640.2 669.6,678.7 669.8,638.8 670.0,678.7 670.2,638.8 670.3,678.7 670.5,638.8 670.7,678.7 670.8,638.9 671.0,678.7 671.2,638.6 671.4,678.4 671.5,638.6 671.7,678.4 671.9,638.6 672.1,678.4 672.2,638.7 672.4,678.4" fill="none" stroke="#1f77b4" stroke-width="1.70" stroke-linejoin="round" stroke-linecap="butt" stroke-opacity="0.2"/>
<polyline points="51.3,657.3 52.8,657.1 54.3,656.9 55.8,656.8 57.3,656.6 58.8,656.5 60.3,656.4 61.8,656.3 63.3,656.3 64.8,656.2 66.3,656.2 67.9,656.1 69.4,656.1 70.9,656.1 72.4,656.1 73.9,656.1 75.4,656.2 76.9,656.2 78.4,656.4 79.9,656.5 81.4,656.6 82.9,656.8 84.4,657.0 85.9,657.1 87.4,657.3 88.9,657.5 90.4,657.8 91.9,658.0 93.4,658.4 94.9,658.7 96.4,659.0 97.9,659.4 99.4,659.7 101.0,660.0 102.5,660.3 104.0,660.7 105.5,661.0 107.0,661.3 108.5,661.6 110.0,661.9 111.5,662.2 113.0,662.4 114.5,662.6 116.0,662.7 117.5,662.9 119.0,663.0 120.5,663.1 122.0,663.3 123.5,663.4 125.0,663.6 126.5,663.9 128.0,664.1 129.5,664.4 131.0,664.7 132.5,665.0 134.1,665.3 135.6,665.7 137.1,666.0 138.6,666.3 140.1,666.7 141.6,667.0 143.1,667.3 144.6,667.6 146.1,668.0 147.6,668.3 149.1,668.6 150.6,669.0 152.1,669.3 153.6,669.6 155.1,669.9 156.6,670.1 158.1,670.4 159.6,670.6 161.1,670.8 162.6,671.0 164.1,671.3 165.6,671.5 167.2,671.7 168.7,671.9 170.2,672.2 171.7,672.4 173.2,672.7 174.7,673.0 176.2,673.3 177.7,673.6 179.2,673.8 180.7,674.1 182.2,674.3 183.7,674.4 185.2,674.6 186.7,674.7 188.2,674.8 189.7,674.2 191.2,672.5 192.7,670.3 194.2,667.2 195.7,663.1 197.2,657.4 198.8,649.8 200.3,642.1 201.8,634.2 203.3,626.2 204.8,617.9 206.3,609.6 207.8,601.9 209.3,594.8 210.8,591.8 212.3,589.9 213.8,589.5 215.3,591.0 216.8,593.2 218.3,595.0 219.8,596.8 221.3,598.7 222.8,600.5 224.3,602.1 225.8,603.6 227.3,604.9 228.8,606.1 230.3,607.2 231.9,608.2 233.4,609.4 234.9,610.6 236.4,611.8 237.9,613.0 239.4,614.3 240.9,615.5 242.4,616.6 243.9,617.7 245.4,618.8 246.9,619.7 248.4,620.7 249.9,621.7 251.4,622.8 252.9,624.1 254.4,625.5 255.9,627.0 257.4,628.3 258.9,629.5 260.4,630.3 261.9,630.7 263.4,631.0 265.0,631.2 266.5,631.4 268.0,631.5 269.5,631.7 271.0,631.9 272.5,632.2 274.0,632.6 275.5,633.2 277.0,634.0 278.5,634.9 280.0,635.8 281.5,636.6 283.0,637.3 284.5,637.8 286.0,638.3 287.5,638.7 289.0,639.1 290.5,639.5 292.0,640.0 293.5,640.5 295.0,641.1 296.5,641.9 298.1,642.7 299.6,643.5 301.1,644.2 302.6,644.7 304.1,645.0 305.6,645.2 307.1,645.4 308.6,645.5 310.1,645.7 311.6,645.8 313.1,646.1 314.6,646.4 316.1,647.0 317.6,647.6 319.1,648.3 320.6,649.0 322.1,649.6 323.6,650.0 325.1,650.3 326.6,650.5 328.1,650.8 329.7,651.0 331.2,651.2 332.7,651.5 334.2,651.8 335.7,652.2 337.2,652.6 338.7,653.0 340.2,653.4 341.7,653.8 343.2,654.2 344.7,654.4 346.2,654.7 347.7,655.0 349.2,655.3 350.7,655.7 352.2,656.2 353.7,656.8 355.2,657.4 356.7,657.8 358.2,658.2 359.7,658.4 361.2,658.5 362.8,658.7 364.3,658.7 365.8,658.8 367.3,658.8 368.8,658.7 370.3,658.5 371.8,658.2 373.3,657.9 374.8,657.5 376.3,657.2 377.8,657.0 379.3,656.8 380.8,656.7 382.3,656.7 383.8,656.6 385.3,656.6 386.8,656.5 388.3,656.5 389.8,656.4 391.3,656.3 392.8,656.2 394.3,655.9 395.9,655.5 397.4,655.0 398.9,654.4 400.4,653.7 401.9,653.1 403.4,652.5 404.9,651.7 406.4,650.9 407.9,650.1 409.4,649.1 410.9,648.1 412.4,647.0 413.9,645.6 415.4,644.0 416.9,642.4 418.4,640.8 419.9,639.5 421.4,638.2 422.9,636.9 424.4,635.8 425.9,634.9 427.5,634.2 429.0,633.5 430.5,633.0 432.0,632.5 433.5,632.1 435.0,631.9 436.5,631.9 438.0,631.9 439.5,631.9 441.0,631.9 442.5,631.9 444.0,632.1 445.5,632.4 447.0,632.7 448.5,633.1 450.0,633.5 451.5,633.9 453.0,634.1 454.5,634.3 456.0,634.5 457.5,634.8 459.0,635.0 460.6,635.2 462.1,635.4 463.6,635.7 465.1,636.1 466.6,636.4 468.1,636.7 469.6,637.0 471.1,637.3 472.6,637.5 474.1,637.7 475.6,637.9 477.1,638.0 478.6,638.2 480.1,638.3 481.6,638.4 483.1,638.5 484.6,638.6 486.1,638.7 487.6,638.7 489.1,638.7 490.6,638.8 492.1,638.8 493.7,638.9 495.2,639.0 496.7,639.1 498.2,639.4 499.7,639.7 501.2,640.0 502.7,640.2 504.2,640.4 505.7,640.5 507.2,640.6 508.7,640.7 510.2,640.8 511.7,640.9 513.2,640.9 514.7,640.9 516.2,640.9 517.7,640.9 519.2,640.9 520.7,640.9 522.2,640.9 523.7,640.9 525.2,641.0 526.8,641.5 528.3,642.1 529.8,642.7 531.3,643.4 532.8,643.8 534.3,643.9 535.8,643.8 537.3,643.6 538.8,643.4 540.3,643.1 541.8,642.9 543.3,642.6 544.8,642.5 546.3,642.4 547.8,642.6 549.3,643.2 550.8,644.1 552.3,645.2 553.8,646.3 555.3,647.4 556.8,648.1 558.4,648.6 559.9,648.6 561.4,648.6 562.9,648.6 564.4,648.6 565.9,648.6 567.4,648.6 568.9,648.6 570.4,648.6 571.9,648.6 573.4,648.7 574.9,649.0 576.4,649.3 577.9,649.7 579.4,650.2 580.9,650.7 582.4,651.2 583.9,651.7 585.4,652.2 586.9,652.6 588.4,653.0 589.9,653.3 591.5,653.6 593.0,653.8 594.5,654.1 596.0,654.3 597.5,654.6 599.0,654.8 600.5,655.0 602.0,655.2 603.5,655.4 605.0,655.6 606.5,655.8 608.0,656.0 609.5,656.2 611.0,656.3 612.5,656.5 614.0,656.6 615.5,656.8 617.0,656.9 618.5,657.1 620.0,657.2 621.5,657.4 623.0,657.5 624.6,657.6 626.1,657.7 627.6,657.8 629.1,657.9 630.6,658.1 632.1,658.2 633.6,658.2 635.1,658.3 636.6,658.4 638.1,658.5 639.6,658.6 641.1,658.6 642.6,658.7 644.1,658.8 645.6,658.8 647.1,658.9 648.6,659.0 650.1,659.1 651.6,659.2 653.1,659.3 654.6,659.4 656.1,659.5 657.7,659.7 659.2,659.9 660.7,660.1 662.2,660.2 663.7,660.3 665.2,660.3 666.7,660.3 668.2,660.3 669.7,660.3 671.2,660.3 672.7,660.3" fill="none" stroke="#1f77b4" stroke-width="2.00" stroke-linejoin="round" stroke-linecap="butt"/>
</g>
<g clip-path="url(#c5)">
<polyline points="51.3,784.1 57.4,785.1 59.9,784.6 67.4,786.4 72.4,785.4 82.4,786.4 87.4,785.6 99.9,786.4 107.3,786.1 114.8,786.9 123.6,785.9 132.3,789.1 137.3,789.1 143.5,791.8 149.8,796.1 154.8,796.8 159.8,796.8 171.0,799.3 176.0,802.3 181.0,807.3 186.0,810.3 189.7,810.3 192.7,807.3 194.7,804.8 196.7,809.8 198.5,817.3 201.0,819.8 203.5,818.6 208.4,811.1 215.9,801.1 223.4,793.6 230.9,786.6 238.4,781.1 245.9,780.1 253.4,781.9 260.9,784.1 270.9,785.9 280.8,788.6 293.3,791.6 305.8,792.6 320.8,792.6 333.3,793.1 342.0,793.3 353.2,793.8 362.0,792.3 372.0,791.8 383.2,789.1 391.9,787.9 400.7,783.6 410.6,775.4 419.4,764.4 428.1,754.9 433.1,748.7 444.3,737.4 451.8,732.4 463.1,725.4 471.8,721.2 481.8,718.7 494.3,715.7 501.8,715.5 506.8,714.2 514.0,714.1 520.2,710.7 529.0,709.2 537.7,707.0 545.2,704.2 552.7,703.7 560.2,701.7 568.9,700.7 575.2,701.7 581.4,701.0 588.9,701.5 598.9,703.0 606.4,703.2 615.1,707.0 620.1,707.5 631.3,711.2 641.3,712.5 650.0,713.7 656.3,713.0 663.8,713.5 668.8,712.5 672.7,713.0" fill="none" stroke="#1f77b4" stroke-width="2.00" stroke-linejoin="round" stroke-linecap="butt"/>
</g>
<line x1="192.6" y1="18.40" x2="192.6" y2="828.40" stroke="#ff0000" stroke-width="1.9"/>
<g stroke="#000" fill="none" stroke-width="1.90" stroke-linecap="square">
<rect x="51.00" y="18.40" width="621.40" height="135.00"/>
<rect x="51.00" y="153.40" width="621.40" height="135.10"/>
<rect x="51.00" y="288.50" width="621.40" height="134.40"/>
<rect x="51.00" y="422.90" width="621.40" height="135.10"/>
<rect x="51.00" y="558.00" width="621.40" height="135.10"/>
<rect x="51.00" y="693.10" width="621.40" height="135.30"/>
</g>
<g style="opacity:0.999">
<text transform="translate(45.70,112.30) scale(1,1.040)" font-size="15.3px" text-anchor="end">1</text>
<text transform="translate(45.70,53.30) scale(1,1.040)" font-size="15.3px" text-anchor="end">2</text>
<text transform="translate(45.70,275.50) scale(1,1.040)" font-size="15.3px" text-anchor="end">0.5</text>
<text transform="translate(45.70,231.00) scale(1,1.040)" font-size="15.3px" text-anchor="end">1.0</text>
<text transform="translate(45.70,186.50) scale(1,1.040)" font-size="15.3px" text-anchor="end">1.5</text>
<text transform="translate(45.70,403.80) scale(1,1.040)" font-size="15.3px" text-anchor="end">−0.25</text>
<text transform="translate(45.70,361.45) scale(1,1.040)" font-size="15.3px" text-anchor="end">0.00</text>
<text transform="translate(45.70,319.10) scale(1,1.040)" font-size="15.3px" text-anchor="end">0.25</text>
<text transform="translate(45.70,563.80) scale(1,1.040)" font-size="15.3px" text-anchor="end">0.00</text>
<text transform="translate(45.70,496.25) scale(1,1.040)" font-size="15.3px" text-anchor="end">0.05</text>
<text transform="translate(45.70,428.70) scale(1,1.040)" font-size="15.3px" text-anchor="end">0.10</text>
<text transform="translate(45.70,698.90) scale(1,1.040)" font-size="15.3px" text-anchor="end">0.0</text>
<text transform="translate(45.70,614.46) scale(1,1.040)" font-size="15.3px" text-anchor="end">0.5</text>
<text transform="translate(45.70,795.20) scale(1,1.040)" font-size="15.3px" text-anchor="end">0.0</text>
<text transform="translate(45.70,731.10) scale(1,1.040)" font-size="15.3px" text-anchor="end">0.5</text>
<text transform="translate(50.60,843.90) scale(1,1.040)" font-size="15.3px" text-anchor="middle">230</text>
<text transform="translate(174.88,843.90) scale(1,1.040)" font-size="15.3px" text-anchor="middle">240</text>
<text transform="translate(299.16,843.90) scale(1,1.040)" font-size="15.3px" text-anchor="middle">250</text>
<text transform="translate(423.44,843.90) scale(1,1.040)" font-size="15.3px" text-anchor="middle">260</text>
<text transform="translate(547.72,843.90) scale(1,1.040)" font-size="15.3px" text-anchor="middle">270</text>
<text transform="translate(672.00,843.90) scale(1,1.040)" font-size="15.3px" text-anchor="middle">280</text>
<text transform="translate(361.40,864.90) scale(1,1.040)" font-size="15.3px" text-anchor="middle"><tspan class="i">Time</tspan>(ms)</text>
<text transform="translate(671.00,10.80) scale(1,1.100)" font-size="14.0px" text-anchor="end">#85214</text>
<text transform="translate(263.00,95.40) scale(1,1.040)" font-size="15.3px" class="b"><tspan class="i">n</tspan><tspan font-size="11.2px" dy="1.6">e</tspan><tspan dy="-1.6">(10</tspan><tspan font-size="11.2px" dy="-5.5">19</tspan><tspan dy="5.5" dx="0.8">/m</tspan><tspan font-size="11.2px" dy="-5.5">3</tspan><tspan dy="5.5" dx="1.0">)</tspan></text>
<text transform="translate(194.50,129.80) scale(1,1.040)" font-size="15.3px" class="r i">Pellet Injection</text>
<text transform="translate(263.00,251.10) scale(1,1.040)" font-size="15.3px" class="b"><tspan class="i">W</tspan><tspan font-size="11.2px" dy="1.6">p</tspan><tspan dy="-1.6">(kJ)</tspan></text>
<text transform="translate(263.00,331.20) scale(1,1.040)" font-size="15.3px" class="b"><tspan class="i">MP</tspan>3(V)</text>
<text transform="translate(263.00,497.90) scale(1,1.040)" font-size="15.3px" class="b"><tspan class="i">AXUV</tspan><tspan dx="1.2">(V)</tspan></text>
<text transform="translate(325.00,609.40) scale(1,1.040)" font-size="15.3px" class="b"><tspan class="i">I</tspan><tspan font-size="11.2px" dy="1.6">Div</tspan><tspan dy="-1.6">(A)</tspan></text>
<text transform="translate(263.00,775.60) scale(1,1.040)" font-size="15.3px" class="b"><tspan class="i">I</tspan><tspan font-size="11.2px" dy="1.6">p</tspan><tspan dy="-1.6">(kA)</tspan></text>
<text transform="translate(58.60,40.80) scale(1,1.102)" font-size="20.4px">(<tspan class="i">a</tspan>)</text>
<text transform="translate(58.60,175.80) scale(1,1.102)" font-size="20.4px">(<tspan class="i">b</tspan>)</text>
<text transform="translate(58.60,310.90) scale(1,1.102)" font-size="20.4px">(<tspan class="i">c</tspan>)</text>
<text transform="translate(58.60,445.30) scale(1,1.102)" font-size="20.4px">(<tspan class="i">d</tspan>)</text>
<text transform="translate(58.60,580.40) scale(1,1.102)" font-size="20.4px">(<tspan class="i">e</tspan>)</text>
<text transform="translate(58.60,715.50) scale(1,1.102)" font-size="20.4px">(<tspan class="i">f</tspan>)</text>
</g>
</svg></body></html>
